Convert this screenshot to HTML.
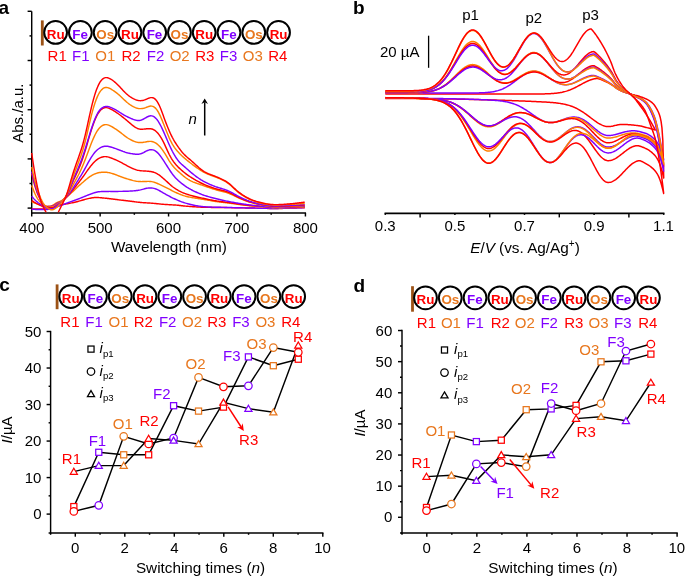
<!DOCTYPE html>
<html><head><meta charset="utf-8"><style>
html,body{margin:0;padding:0;background:#fff;overflow:hidden;}
svg{display:block;will-change:transform;}
text{font-family:"Liberation Sans", sans-serif;}
</style></head><body>
<svg width="685" height="577" viewBox="0 0 685 577">
<rect width="685" height="577" fill="#fff"/>
<text x="-1.53" y="13.8" font-size="19" text-anchor="start" fill="#000" font-weight="bold">a</text>
<rect x="40.9" y="20.4" width="2.8" height="25.1" fill="#9c5216"/>
<circle cx="55.6" cy="32.4" r="11.4" fill="#fff" stroke="#000" stroke-width="2"/>
<circle cx="80.37" cy="32.4" r="11.4" fill="#fff" stroke="#000" stroke-width="2"/>
<circle cx="105.14" cy="32.4" r="11.4" fill="#fff" stroke="#000" stroke-width="2"/>
<circle cx="129.91" cy="32.4" r="11.4" fill="#fff" stroke="#000" stroke-width="2"/>
<circle cx="154.68" cy="32.4" r="11.4" fill="#fff" stroke="#000" stroke-width="2"/>
<circle cx="179.45" cy="32.4" r="11.4" fill="#fff" stroke="#000" stroke-width="2"/>
<circle cx="204.22" cy="32.4" r="11.4" fill="#fff" stroke="#000" stroke-width="2"/>
<circle cx="228.99" cy="32.4" r="11.4" fill="#fff" stroke="#000" stroke-width="2"/>
<circle cx="253.76" cy="32.4" r="11.4" fill="#fff" stroke="#000" stroke-width="2"/>
<circle cx="278.53" cy="32.4" r="11.4" fill="#fff" stroke="#000" stroke-width="2"/>
<text x="46.73" y="38.5" font-size="13.4" text-anchor="start" fill="#ff0000" font-weight="bold">Ru</text>
<text x="47.62" y="61.4" font-size="15" text-anchor="start" fill="#ff0000">R1</text>
<text x="72.37" y="38.5" font-size="13.4" text-anchor="start" fill="#8000ff" font-weight="bold">Fe</text>
<text x="72.1" y="61.4" font-size="15" text-anchor="start" fill="#8000ff">F1</text>
<text x="96.27" y="38.5" font-size="13.4" text-anchor="start" fill="#e8771e" font-weight="bold">Os</text>
<text x="95.3" y="61.4" font-size="15" text-anchor="start" fill="#e8771e">O1</text>
<text x="121.03" y="38.5" font-size="13.4" text-anchor="start" fill="#ff0000" font-weight="bold">Ru</text>
<text x="121.53" y="61.4" font-size="15" text-anchor="start" fill="#ff0000">R2</text>
<text x="146.68" y="38.5" font-size="13.4" text-anchor="start" fill="#8000ff" font-weight="bold">Fe</text>
<text x="146.8" y="61.4" font-size="15" text-anchor="start" fill="#8000ff">F2</text>
<text x="170.57" y="38.5" font-size="13.4" text-anchor="start" fill="#e8771e" font-weight="bold">Os</text>
<text x="169.7" y="61.4" font-size="15" text-anchor="start" fill="#e8771e">O2</text>
<text x="195.34" y="38.5" font-size="13.4" text-anchor="start" fill="#ff0000" font-weight="bold">Ru</text>
<text x="195.16" y="61.4" font-size="15" text-anchor="start" fill="#ff0000">R3</text>
<text x="220.99" y="38.5" font-size="13.4" text-anchor="start" fill="#8000ff" font-weight="bold">Fe</text>
<text x="219.74" y="61.4" font-size="15" text-anchor="start" fill="#8000ff">F3</text>
<text x="244.88" y="38.5" font-size="13.4" text-anchor="start" fill="#e8771e" font-weight="bold">Os</text>
<text x="242.74" y="61.4" font-size="15" text-anchor="start" fill="#e8771e">O3</text>
<text x="269.66" y="38.5" font-size="13.4" text-anchor="start" fill="#ff0000" font-weight="bold">Ru</text>
<text x="268.2" y="61.4" font-size="15" text-anchor="start" fill="#ff0000">R4</text>
<line x1="31.7" y1="11.3" x2="31.7" y2="213.65" stroke="#000" stroke-width="1.45"/>
<line x1="31.05" y1="213" x2="306.05" y2="213" stroke="#000" stroke-width="1.45"/>
<line x1="27.6" y1="11.3" x2="31.7" y2="11.3" stroke="#000" stroke-width="1.45"/>
<line x1="29.5" y1="35.9" x2="31.7" y2="35.9" stroke="#000" stroke-width="1.45"/>
<line x1="27.6" y1="60.5" x2="31.7" y2="60.5" stroke="#000" stroke-width="1.45"/>
<line x1="29.5" y1="85.1" x2="31.7" y2="85.1" stroke="#000" stroke-width="1.45"/>
<line x1="27.6" y1="109.7" x2="31.7" y2="109.7" stroke="#000" stroke-width="1.45"/>
<line x1="29.5" y1="134.3" x2="31.7" y2="134.3" stroke="#000" stroke-width="1.45"/>
<line x1="27.6" y1="158.9" x2="31.7" y2="158.9" stroke="#000" stroke-width="1.45"/>
<line x1="29.5" y1="183.5" x2="31.7" y2="183.5" stroke="#000" stroke-width="1.45"/>
<line x1="27.6" y1="208.1" x2="31.7" y2="208.1" stroke="#000" stroke-width="1.45"/>
<line x1="31.7" y1="213" x2="31.7" y2="216.5" stroke="#000" stroke-width="1.45"/>
<text x="19.32" y="232.6" font-size="15" text-anchor="start" fill="#000">400</text>
<line x1="65.92" y1="213" x2="65.92" y2="214.8" stroke="#000" stroke-width="1.45"/>
<line x1="100.13" y1="213" x2="100.13" y2="216.5" stroke="#000" stroke-width="1.45"/>
<text x="87.63" y="232.6" font-size="15" text-anchor="start" fill="#000">500</text>
<line x1="134.34" y1="213" x2="134.34" y2="214.8" stroke="#000" stroke-width="1.45"/>
<line x1="168.56" y1="213" x2="168.56" y2="216.5" stroke="#000" stroke-width="1.45"/>
<text x="156" y="232.6" font-size="15" text-anchor="start" fill="#000">600</text>
<line x1="202.78" y1="213" x2="202.78" y2="214.8" stroke="#000" stroke-width="1.45"/>
<line x1="236.99" y1="213" x2="236.99" y2="216.5" stroke="#000" stroke-width="1.45"/>
<text x="224.43" y="232.6" font-size="15" text-anchor="start" fill="#000">700</text>
<line x1="271.2" y1="213" x2="271.2" y2="214.8" stroke="#000" stroke-width="1.45"/>
<line x1="305.42" y1="213" x2="305.42" y2="216.5" stroke="#000" stroke-width="1.45"/>
<text x="292.92" y="232.6" font-size="15" text-anchor="start" fill="#000">800</text>
<text x="110.93" y="251.7" font-size="15.3" text-anchor="start" fill="#000">Wavelength (nm)</text>
<text transform="translate(23.1,113.85) rotate(-90)" x="-28.88" y="0" font-size="15" fill="#000">Abs./a.u.</text>
<text x="188.46" y="124.2" font-size="15" text-anchor="start" fill="#000" font-style="italic">n</text>
<line x1="204.7" y1="135.5" x2="204.7" y2="102.2" stroke="#000" stroke-width="1.5"/>
<path d="M204.7 98.5 L208 104 L204.7 102.2 L201.4 104 Z" fill="#000"/>
<defs><clipPath id="clipA"><rect x="31" y="0" width="290" height="212.3"/></clipPath></defs>
<g clip-path="url(#clipA)" fill="none" stroke-width="1.45" stroke-linejoin="round">
<path d="M31.7 208.9 L32.73 208.9 L33.75 208.9 L34.78 208.9 L35.81 208.9 L36.83 208.9 L37.86 208.9 L38.89 208.9 L39.91 208.91 L40.94 208.93 L41.96 208.95 L42.99 208.97 L44.02 208.99 L45.04 209 L46.07 208.98 L47.1 208.86 L48.12 208.67 L49.15 208.41 L50.18 208.11 L51.2 207.78 L52.23 207.44 L53.26 207.02 L54.28 206.53 L55.31 206.06 L56.33 205.66 L57.36 205.36 L58.39 205.13 L59.41 204.93 L60.44 204.75 L61.47 204.6 L62.49 204.46 L63.52 204.32 L64.55 204.18 L65.57 204.02 L66.6 203.86 L67.63 203.68 L68.65 203.5 L69.68 203.31 L70.71 203.11 L71.73 202.9 L72.76 202.68 L73.78 202.45 L74.81 202.21 L75.84 201.97 L76.86 201.71 L77.89 201.44 L78.92 201.16 L79.94 200.87 L80.97 200.58 L82 200.28 L83.02 199.98 L84.05 199.69 L85.08 199.4 L86.1 199.13 L87.13 198.87 L88.15 198.62 L89.18 198.39 L90.21 198.17 L91.23 197.98 L92.26 197.81 L93.29 197.67 L94.31 197.58 L95.34 197.52 L96.37 197.51 L97.39 197.54 L98.42 197.59 L99.45 197.65 L100.47 197.73 L101.5 197.82 L102.53 197.91 L103.55 198.01 L104.58 198.11 L105.6 198.21 L106.63 198.32 L107.66 198.44 L108.68 198.56 L109.71 198.68 L110.74 198.8 L111.76 198.93 L112.79 199.06 L113.82 199.19 L114.84 199.32 L115.87 199.46 L116.9 199.59 L117.92 199.72 L118.95 199.85 L119.97 199.98 L121 200.1 L122.03 200.21 L123.05 200.33 L124.08 200.44 L125.11 200.55 L126.13 200.67 L127.16 200.78 L128.19 200.91 L129.21 201.04 L130.24 201.17 L131.27 201.31 L132.29 201.45 L133.32 201.59 L134.34 201.72 L135.37 201.86 L136.4 201.99 L137.42 202.11 L138.45 202.23 L139.48 202.33 L140.5 202.43 L141.53 202.52 L142.56 202.6 L143.58 202.67 L144.61 202.74 L145.64 202.8 L146.66 202.86 L147.69 202.91 L148.72 202.97 L149.74 203.03 L150.77 203.1 L151.79 203.18 L152.82 203.26 L153.85 203.36 L154.87 203.46 L155.9 203.56 L156.93 203.67 L157.95 203.79 L158.98 203.9 L160.01 204 L161.03 204.11 L162.06 204.21 L163.09 204.3 L164.11 204.39 L165.14 204.46 L166.16 204.53 L167.19 204.59 L168.22 204.65 L169.24 204.7 L170.27 204.75 L171.3 204.8 L172.32 204.85 L173.35 204.91 L174.38 204.97 L175.4 205.05 L176.43 205.14 L177.46 205.24 L178.48 205.34 L179.51 205.46 L180.54 205.58 L181.56 205.7 L182.59 205.82 L183.61 205.93 L184.64 206.04 L185.67 206.13 L186.69 206.23 L187.72 206.31 L188.75 206.4 L189.77 206.48 L190.8 206.55 L191.83 206.63 L192.85 206.7 L193.88 206.77 L194.91 206.84 L195.93 206.9 L196.96 206.96 L197.98 207.02 L199.01 207.07 L200.04 207.12 L201.06 207.16 L202.09 207.2 L203.12 207.24 L204.14 207.27 L205.17 207.3 L206.2 207.32 L207.22 207.34 L208.25 207.36 L209.28 207.38 L210.3 207.39 L211.33 207.41 L212.36 207.42 L213.38 207.43 L214.41 207.45 L215.43 207.46 L216.46 207.47 L217.49 207.48 L218.51 207.49 L219.54 207.5 L220.57 207.51 L221.59 207.52 L222.62 207.53 L223.65 207.54 L224.67 207.56 L225.7 207.57 L226.73 207.58 L227.75 207.6 L228.78 207.61 L229.8 207.63 L230.83 207.64 L231.86 207.66 L232.88 207.68 L233.91 207.7 L234.94 207.71 L235.96 207.73 L236.99 207.75 L238.02 207.77 L239.04 207.79 L240.07 207.81 L241.1 207.83 L242.12 207.85 L243.15 207.87 L244.18 207.89 L245.2 207.91 L246.23 207.93 L247.25 207.95 L248.28 207.97 L249.31 207.99 L250.33 208.01 L251.36 208.03 L252.39 208.05 L253.41 208.07 L254.44 208.09 L255.47 208.11 L256.49 208.13 L257.52 208.15 L258.55 208.17 L259.57 208.19 L260.6 208.22 L261.62 208.24 L262.65 208.26 L263.68 208.29 L264.7 208.32 L265.73 208.35 L266.76 208.38 L267.78 208.42 L268.81 208.45 L269.84 208.48 L270.86 208.51 L271.89 208.54 L272.92 208.55 L273.94 208.57 L274.97 208.57 L276 208.57 L277.02 208.56 L278.05 208.54 L279.07 208.52 L280.1 208.49 L281.13 208.46 L282.15 208.42 L283.18 208.39 L284.21 208.35 L285.23 208.31 L286.26 208.28 L287.29 208.24 L288.31 208.2 L289.34 208.17 L290.37 208.13 L291.39 208.1 L292.42 208.07 L293.44 208.03 L294.47 208 L295.5 207.96 L296.52 207.92 L297.55 207.89 L298.58 207.85 L299.6 207.82 L300.63 207.78 L301.66 207.74 L302.68 207.71 L303.71 207.68 L304.74 207.66" stroke="#ff0000"/>
<path d="M31.7 209.2 L32.73 209.27 L33.75 209.33 L34.78 209.39 L35.81 209.44 L36.83 209.47 L37.86 209.5 L38.89 209.5 L39.91 209.5 L40.94 209.5 L41.96 209.5 L42.99 209.5 L44.02 209.5 L45.04 209.5 L46.07 209.49 L47.1 209.41 L48.12 209.29 L49.15 209.12 L50.18 208.92 L51.2 208.69 L52.23 208.45 L53.26 208.15 L54.28 207.8 L55.31 207.42 L56.33 207.04 L57.36 206.68 L58.39 206.33 L59.41 205.98 L60.44 205.63 L61.47 205.26 L62.49 204.89 L63.52 204.5 L64.55 204.1 L65.57 203.69 L66.6 203.29 L67.63 202.89 L68.65 202.5 L69.68 202.12 L70.71 201.75 L71.73 201.37 L72.76 201 L73.78 200.63 L74.81 200.25 L75.84 199.87 L76.86 199.49 L77.89 199.1 L78.92 198.7 L79.94 198.3 L80.97 197.89 L82 197.48 L83.02 197.06 L84.05 196.65 L85.08 196.24 L86.1 195.84 L87.13 195.44 L88.15 195.04 L89.18 194.65 L90.21 194.26 L91.23 193.88 L92.26 193.5 L93.29 193.13 L94.31 192.78 L95.34 192.47 L96.37 192.2 L97.39 191.98 L98.42 191.81 L99.45 191.69 L100.47 191.62 L101.5 191.56 L102.53 191.53 L103.55 191.5 L104.58 191.47 L105.6 191.45 L106.63 191.43 L107.66 191.42 L108.68 191.41 L109.71 191.4 L110.74 191.4 L111.76 191.4 L112.79 191.4 L113.82 191.4 L114.84 191.4 L115.87 191.4 L116.9 191.4 L117.92 191.4 L118.95 191.39 L119.97 191.38 L121 191.37 L122.03 191.36 L123.05 191.33 L124.08 191.31 L125.11 191.28 L126.13 191.24 L127.16 191.2 L128.19 191.16 L129.21 191.11 L130.24 191.05 L131.27 190.99 L132.29 190.93 L133.32 190.85 L134.34 190.77 L135.37 190.67 L136.4 190.56 L137.42 190.43 L138.45 190.27 L139.48 190.09 L140.5 189.87 L141.53 189.62 L142.56 189.35 L143.58 189.08 L144.61 188.81 L145.64 188.56 L146.66 188.33 L147.69 188.15 L148.72 188.01 L149.74 187.94 L150.77 187.92 L151.79 187.99 L152.82 188.13 L153.85 188.36 L154.87 188.66 L155.9 189.03 L156.93 189.45 L157.95 189.93 L158.98 190.44 L160.01 191 L161.03 191.57 L162.06 192.16 L163.09 192.76 L164.11 193.36 L165.14 193.95 L166.16 194.53 L167.19 195.11 L168.22 195.67 L169.24 196.22 L170.27 196.75 L171.3 197.28 L172.32 197.79 L173.35 198.28 L174.38 198.77 L175.4 199.25 L176.43 199.71 L177.46 200.16 L178.48 200.6 L179.51 201.02 L180.54 201.43 L181.56 201.81 L182.59 202.17 L183.61 202.51 L184.64 202.83 L185.67 203.14 L186.69 203.42 L187.72 203.7 L188.75 203.97 L189.77 204.23 L190.8 204.48 L191.83 204.72 L192.85 204.95 L193.88 205.18 L194.91 205.39 L195.93 205.6 L196.96 205.79 L197.98 205.96 L199.01 206.13 L200.04 206.27 L201.06 206.41 L202.09 206.52 L203.12 206.62 L204.14 206.71 L205.17 206.78 L206.2 206.85 L207.22 206.9 L208.25 206.95 L209.28 206.99 L210.3 207.03 L211.33 207.07 L212.36 207.1 L213.38 207.14 L214.41 207.17 L215.43 207.2 L216.46 207.22 L217.49 207.25 L218.51 207.28 L219.54 207.3 L220.57 207.32 L221.59 207.35 L222.62 207.37 L223.65 207.4 L224.67 207.42 L225.7 207.44 L226.73 207.47 L227.75 207.49 L228.78 207.52 L229.8 207.54 L230.83 207.57 L231.86 207.59 L232.88 207.62 L233.91 207.64 L234.94 207.67 L235.96 207.69 L236.99 207.71 L238.02 207.74 L239.04 207.76 L240.07 207.78 L241.1 207.81 L242.12 207.83 L243.15 207.85 L244.18 207.87 L245.2 207.9 L246.23 207.92 L247.25 207.94 L248.28 207.96 L249.31 207.99 L250.33 208.01 L251.36 208.03 L252.39 208.05 L253.41 208.07 L254.44 208.09 L255.47 208.12 L256.49 208.14 L257.52 208.16 L258.55 208.18 L259.57 208.2 L260.6 208.22 L261.62 208.24 L262.65 208.27 L263.68 208.29 L264.7 208.31 L265.73 208.33 L266.76 208.36 L267.78 208.38 L268.81 208.4 L269.84 208.43 L270.86 208.44 L271.89 208.46 L272.92 208.47 L273.94 208.47 L274.97 208.47 L276 208.46 L277.02 208.44 L278.05 208.42 L279.07 208.38 L280.1 208.35 L281.13 208.31 L282.15 208.26 L283.18 208.22 L284.21 208.17 L285.23 208.13 L286.26 208.09 L287.29 208.05 L288.31 208.01 L289.34 207.98 L290.37 207.95 L291.39 207.92 L292.42 207.89 L293.44 207.86 L294.47 207.83 L295.5 207.81 L296.52 207.78 L297.55 207.76 L298.58 207.74 L299.6 207.71 L300.63 207.69 L301.66 207.67 L302.68 207.65 L303.71 207.64 L304.74 207.63" stroke="#8000ff"/>
<path d="M31.7 201.5 L32.73 202.02 L33.75 202.51 L34.78 202.98 L35.81 203.43 L36.83 203.86 L37.86 204.25 L38.89 204.62 L39.91 205.02 L40.94 205.42 L41.96 205.8 L42.99 206.13 L44.02 206.37 L45.04 206.49 L46.07 206.49 L47.1 206.42 L48.12 206.31 L49.15 206.15 L50.18 205.93 L51.2 205.68 L52.23 205.36 L53.26 204.89 L54.28 204.26 L55.31 203.6 L56.33 202.98 L57.36 202.46 L58.39 202 L59.41 201.54 L60.44 201.08 L61.47 200.59 L62.49 200.04 L63.52 199.41 L64.55 198.71 L65.57 197.93 L66.6 197.1 L67.63 196.23 L68.65 195.34 L69.68 194.44 L70.71 193.52 L71.73 192.58 L72.76 191.62 L73.78 190.65 L74.81 189.67 L75.84 188.7 L76.86 187.72 L77.89 186.76 L78.92 185.82 L79.94 184.89 L80.97 183.97 L82 183.07 L83.02 182.18 L84.05 181.3 L85.08 180.42 L86.1 179.56 L87.13 178.72 L88.15 177.92 L89.18 177.15 L90.21 176.43 L91.23 175.77 L92.26 175.16 L93.29 174.61 L94.31 174.12 L95.34 173.7 L96.37 173.34 L97.39 173.03 L98.42 172.78 L99.45 172.58 L100.47 172.43 L101.5 172.31 L102.53 172.22 L103.55 172.17 L104.58 172.16 L105.6 172.2 L106.63 172.28 L107.66 172.41 L108.68 172.59 L109.71 172.82 L110.74 173.08 L111.76 173.37 L112.79 173.69 L113.82 174.03 L114.84 174.4 L115.87 174.78 L116.9 175.17 L117.92 175.57 L118.95 175.97 L119.97 176.36 L121 176.75 L122.03 177.13 L123.05 177.5 L124.08 177.86 L125.11 178.21 L126.13 178.54 L127.16 178.86 L128.19 179.18 L129.21 179.48 L130.24 179.78 L131.27 180.07 L132.29 180.34 L133.32 180.61 L134.34 180.84 L135.37 181.06 L136.4 181.24 L137.42 181.38 L138.45 181.49 L139.48 181.56 L140.5 181.59 L141.53 181.6 L142.56 181.59 L143.58 181.56 L144.61 181.52 L145.64 181.47 L146.66 181.43 L147.69 181.4 L148.72 181.38 L149.74 181.41 L150.77 181.48 L151.79 181.62 L152.82 181.84 L153.85 182.12 L154.87 182.47 L155.9 182.87 L156.93 183.29 L157.95 183.73 L158.98 184.18 L160.01 184.63 L161.03 185.1 L162.06 185.57 L163.09 186.05 L164.11 186.55 L165.14 187.06 L166.16 187.58 L167.19 188.11 L168.22 188.65 L169.24 189.19 L170.27 189.73 L171.3 190.26 L172.32 190.78 L173.35 191.29 L174.38 191.79 L175.4 192.28 L176.43 192.75 L177.46 193.22 L178.48 193.67 L179.51 194.1 L180.54 194.51 L181.56 194.9 L182.59 195.27 L183.61 195.6 L184.64 195.91 L185.67 196.19 L186.69 196.45 L187.72 196.69 L188.75 196.92 L189.77 197.13 L190.8 197.32 L191.83 197.51 L192.85 197.69 L193.88 197.87 L194.91 198.04 L195.93 198.2 L196.96 198.36 L197.98 198.52 L199.01 198.68 L200.04 198.84 L201.06 199 L202.09 199.16 L203.12 199.33 L204.14 199.5 L205.17 199.67 L206.2 199.85 L207.22 200.03 L208.25 200.21 L209.28 200.4 L210.3 200.58 L211.33 200.76 L212.36 200.93 L213.38 201.1 L214.41 201.26 L215.43 201.42 L216.46 201.57 L217.49 201.72 L218.51 201.85 L219.54 201.99 L220.57 202.11 L221.59 202.24 L222.62 202.36 L223.65 202.48 L224.67 202.6 L225.7 202.72 L226.73 202.84 L227.75 202.97 L228.78 203.1 L229.8 203.23 L230.83 203.36 L231.86 203.49 L232.88 203.63 L233.91 203.77 L234.94 203.9 L235.96 204.04 L236.99 204.18 L238.02 204.32 L239.04 204.46 L240.07 204.6 L241.1 204.73 L242.12 204.87 L243.15 205 L244.18 205.13 L245.2 205.25 L246.23 205.37 L247.25 205.49 L248.28 205.61 L249.31 205.71 L250.33 205.82 L251.36 205.92 L252.39 206.02 L253.41 206.11 L254.44 206.2 L255.47 206.29 L256.49 206.37 L257.52 206.46 L258.55 206.54 L259.57 206.62 L260.6 206.7 L261.62 206.79 L262.65 206.87 L263.68 206.96 L264.7 207.05 L265.73 207.14 L266.76 207.23 L267.78 207.33 L268.81 207.42 L269.84 207.5 L270.86 207.58 L271.89 207.64 L272.92 207.69 L273.94 207.73 L274.97 207.75 L276 207.76 L277.02 207.76 L278.05 207.75 L279.07 207.74 L280.1 207.72 L281.13 207.69 L282.15 207.67 L283.18 207.64 L284.21 207.61 L285.23 207.59 L286.26 207.56 L287.29 207.53 L288.31 207.5 L289.34 207.47 L290.37 207.45 L291.39 207.42 L292.42 207.39 L293.44 207.36 L294.47 207.33 L295.5 207.31 L296.52 207.28 L297.55 207.25 L298.58 207.22 L299.6 207.18 L300.63 207.15 L301.66 207.12 L302.68 207.1 L303.71 207.07 L304.74 207.05" stroke="#ff8000"/>
<path d="M31.7 200.5 L32.73 201.2 L33.75 201.87 L34.78 202.5 L35.81 203.1 L36.83 203.66 L37.86 204.18 L38.89 204.66 L39.91 205.15 L40.94 205.66 L41.96 206.13 L42.99 206.54 L44.02 206.84 L45.04 206.99 L46.07 206.99 L47.1 206.97 L48.12 206.91 L49.15 206.83 L50.18 206.72 L51.2 206.56 L52.23 206.34 L53.26 205.92 L54.28 205.3 L55.31 204.63 L56.33 204.01 L57.36 203.47 L58.39 203 L59.41 202.53 L60.44 202.02 L61.47 201.45 L62.49 200.8 L63.52 200.02 L64.55 199.13 L65.57 198.13 L66.6 197.07 L67.63 195.97 L68.65 194.85 L69.68 193.72 L70.71 192.56 L71.73 191.38 L72.76 190.15 L73.78 188.89 L74.81 187.59 L75.84 186.27 L76.86 184.93 L77.89 183.58 L78.92 182.23 L79.94 180.88 L80.97 179.52 L82 178.14 L83.02 176.75 L84.05 175.33 L85.08 173.88 L86.1 172.42 L87.13 170.95 L88.15 169.5 L89.18 168.08 L90.21 166.71 L91.23 165.41 L92.26 164.18 L93.29 163.03 L94.31 161.97 L95.34 161.01 L96.37 160.14 L97.39 159.38 L98.42 158.72 L99.45 158.15 L100.47 157.67 L101.5 157.28 L102.53 156.98 L103.55 156.77 L104.58 156.65 L105.6 156.63 L106.63 156.71 L107.66 156.88 L108.68 157.13 L109.71 157.46 L110.74 157.82 L111.76 158.22 L112.79 158.64 L113.82 159.06 L114.84 159.5 L115.87 159.95 L116.9 160.41 L117.92 160.88 L118.95 161.38 L119.97 161.89 L121 162.43 L122.03 162.98 L123.05 163.54 L124.08 164.1 L125.11 164.67 L126.13 165.22 L127.16 165.77 L128.19 166.3 L129.21 166.82 L130.24 167.33 L131.27 167.82 L132.29 168.3 L133.32 168.76 L134.34 169.18 L135.37 169.56 L136.4 169.89 L137.42 170.18 L138.45 170.4 L139.48 170.58 L140.5 170.71 L141.53 170.81 L142.56 170.88 L143.58 170.94 L144.61 170.99 L145.64 171.05 L146.66 171.11 L147.69 171.19 L148.72 171.29 L149.74 171.41 L150.77 171.56 L151.79 171.76 L152.82 172 L153.85 172.31 L154.87 172.68 L155.9 173.13 L156.93 173.66 L157.95 174.26 L158.98 174.94 L160.01 175.69 L161.03 176.49 L162.06 177.34 L163.09 178.22 L164.11 179.11 L165.14 180.03 L166.16 180.96 L167.19 181.9 L168.22 182.85 L169.24 183.8 L170.27 184.72 L171.3 185.62 L172.32 186.47 L173.35 187.27 L174.38 188.01 L175.4 188.71 L176.43 189.36 L177.46 189.97 L178.48 190.55 L179.51 191.1 L180.54 191.61 L181.56 192.1 L182.59 192.56 L183.61 192.98 L184.64 193.39 L185.67 193.77 L186.69 194.12 L187.72 194.46 L188.75 194.79 L189.77 195.09 L190.8 195.39 L191.83 195.67 L192.85 195.94 L193.88 196.21 L194.91 196.46 L195.93 196.71 L196.96 196.95 L197.98 197.19 L199.01 197.42 L200.04 197.65 L201.06 197.88 L202.09 198.1 L203.12 198.33 L204.14 198.55 L205.17 198.77 L206.2 199 L207.22 199.22 L208.25 199.43 L209.28 199.65 L210.3 199.86 L211.33 200.06 L212.36 200.26 L213.38 200.45 L214.41 200.63 L215.43 200.8 L216.46 200.97 L217.49 201.13 L218.51 201.28 L219.54 201.42 L220.57 201.56 L221.59 201.69 L222.62 201.82 L223.65 201.95 L224.67 202.08 L225.7 202.21 L226.73 202.34 L227.75 202.47 L228.78 202.61 L229.8 202.75 L230.83 202.89 L231.86 203.04 L232.88 203.19 L233.91 203.34 L234.94 203.49 L235.96 203.65 L236.99 203.8 L238.02 203.96 L239.04 204.11 L240.07 204.26 L241.1 204.41 L242.12 204.55 L243.15 204.69 L244.18 204.83 L245.2 204.95 L246.23 205.08 L247.25 205.2 L248.28 205.31 L249.31 205.41 L250.33 205.5 L251.36 205.59 L252.39 205.68 L253.41 205.76 L254.44 205.83 L255.47 205.9 L256.49 205.97 L257.52 206.04 L258.55 206.1 L259.57 206.17 L260.6 206.24 L261.62 206.31 L262.65 206.39 L263.68 206.48 L264.7 206.57 L265.73 206.67 L266.76 206.78 L267.78 206.89 L268.81 207 L269.84 207.11 L270.86 207.21 L271.89 207.29 L272.92 207.36 L273.94 207.4 L274.97 207.43 L276 207.44 L277.02 207.43 L278.05 207.41 L279.07 207.39 L280.1 207.35 L281.13 207.31 L282.15 207.27 L283.18 207.22 L284.21 207.18 L285.23 207.13 L286.26 207.09 L287.29 207.05 L288.31 207.01 L289.34 206.97 L290.37 206.94 L291.39 206.9 L292.42 206.87 L293.44 206.84 L294.47 206.81 L295.5 206.78 L296.52 206.75 L297.55 206.72 L298.58 206.69 L299.6 206.66 L300.63 206.63 L301.66 206.6 L302.68 206.58 L303.71 206.56 L304.74 206.54" stroke="#ff0000"/>
<path d="M31.7 196.2 L32.73 197.44 L33.75 198.62 L34.78 199.73 L35.81 200.75 L36.83 201.68 L37.86 202.51 L38.89 203.23 L39.91 203.96 L40.94 204.67 L41.96 205.33 L42.99 205.88 L44.02 206.28 L45.04 206.49 L46.07 206.5 L47.1 206.5 L48.12 206.5 L49.15 206.5 L50.18 206.48 L51.2 206.43 L52.23 206.32 L53.26 205.97 L54.28 205.38 L55.31 204.7 L56.33 204.04 L57.36 203.44 L58.39 202.9 L59.41 202.35 L60.44 201.77 L61.47 201.15 L62.49 200.46 L63.52 199.66 L64.55 198.76 L65.57 197.75 L66.6 196.66 L67.63 195.49 L68.65 194.26 L69.68 192.97 L70.71 191.61 L71.73 190.18 L72.76 188.68 L73.78 187.11 L74.81 185.5 L75.84 183.86 L76.86 182.2 L77.89 180.53 L78.92 178.87 L79.94 177.21 L80.97 175.54 L82 173.83 L83.02 172.08 L84.05 170.28 L85.08 168.42 L86.1 166.51 L87.13 164.59 L88.15 162.68 L89.18 160.82 L90.21 159.04 L91.23 157.36 L92.26 155.8 L93.29 154.36 L94.31 153.04 L95.34 151.84 L96.37 150.77 L97.39 149.81 L98.42 148.98 L99.45 148.26 L100.47 147.66 L101.5 147.16 L102.53 146.76 L103.55 146.48 L104.58 146.29 L105.6 146.21 L106.63 146.22 L107.66 146.32 L108.68 146.5 L109.71 146.73 L110.74 147.01 L111.76 147.31 L112.79 147.64 L113.82 147.98 L114.84 148.33 L115.87 148.69 L116.9 149.07 L117.92 149.45 L118.95 149.84 L119.97 150.23 L121 150.63 L122.03 151.03 L123.05 151.43 L124.08 151.8 L125.11 152.16 L126.13 152.48 L127.16 152.77 L128.19 153.03 L129.21 153.25 L130.24 153.45 L131.27 153.63 L132.29 153.79 L133.32 153.94 L134.34 154.06 L135.37 154.16 L136.4 154.23 L137.42 154.24 L138.45 154.19 L139.48 154.05 L140.5 153.81 L141.53 153.47 L142.56 153.03 L143.58 152.53 L144.61 151.99 L145.64 151.45 L146.66 150.94 L147.69 150.48 L148.72 150.1 L149.74 149.82 L150.77 149.68 L151.79 149.69 L152.82 149.85 L153.85 150.18 L154.87 150.67 L155.9 151.32 L156.93 152.13 L157.95 153.1 L158.98 154.23 L160.01 155.49 L161.03 156.87 L162.06 158.34 L163.09 159.87 L164.11 161.44 L165.14 163.03 L166.16 164.64 L167.19 166.26 L168.22 167.87 L169.24 169.47 L170.27 171.02 L171.3 172.52 L172.32 173.94 L173.35 175.27 L174.38 176.51 L175.4 177.67 L176.43 178.75 L177.46 179.77 L178.48 180.74 L179.51 181.66 L180.54 182.53 L181.56 183.37 L182.59 184.17 L183.61 184.93 L184.64 185.67 L185.67 186.37 L186.69 187.05 L187.72 187.69 L188.75 188.31 L189.77 188.9 L190.8 189.47 L191.83 190.01 L192.85 190.53 L193.88 191.04 L194.91 191.53 L195.93 192.01 L196.96 192.47 L197.98 192.92 L199.01 193.36 L200.04 193.78 L201.06 194.18 L202.09 194.57 L203.12 194.95 L204.14 195.31 L205.17 195.66 L206.2 195.99 L207.22 196.31 L208.25 196.62 L209.28 196.92 L210.3 197.21 L211.33 197.48 L212.36 197.76 L213.38 198.02 L214.41 198.28 L215.43 198.54 L216.46 198.79 L217.49 199.04 L218.51 199.29 L219.54 199.53 L220.57 199.77 L221.59 200.01 L222.62 200.24 L223.65 200.46 L224.67 200.68 L225.7 200.9 L226.73 201.11 L227.75 201.32 L228.78 201.52 L229.8 201.72 L230.83 201.91 L231.86 202.1 L232.88 202.29 L233.91 202.48 L234.94 202.66 L235.96 202.84 L236.99 203.02 L238.02 203.2 L239.04 203.37 L240.07 203.54 L241.1 203.71 L242.12 203.87 L243.15 204.03 L244.18 204.18 L245.2 204.33 L246.23 204.48 L247.25 204.62 L248.28 204.76 L249.31 204.9 L250.33 205.03 L251.36 205.15 L252.39 205.27 L253.41 205.39 L254.44 205.5 L255.47 205.61 L256.49 205.72 L257.52 205.82 L258.55 205.93 L259.57 206.03 L260.6 206.13 L261.62 206.23 L262.65 206.34 L263.68 206.45 L264.7 206.56 L265.73 206.67 L266.76 206.79 L267.78 206.91 L268.81 207.02 L269.84 207.13 L270.86 207.22 L271.89 207.3 L272.92 207.37 L273.94 207.41 L274.97 207.44 L276 207.44 L277.02 207.44 L278.05 207.42 L279.07 207.4 L280.1 207.37 L281.13 207.33 L282.15 207.29 L283.18 207.24 L284.21 207.19 L285.23 207.15 L286.26 207.1 L287.29 207.05 L288.31 207 L289.34 206.95 L290.37 206.9 L291.39 206.85 L292.42 206.8 L293.44 206.74 L294.47 206.69 L295.5 206.63 L296.52 206.57 L297.55 206.51 L298.58 206.45 L299.6 206.38 L300.63 206.32 L301.66 206.26 L302.68 206.2 L303.71 206.15 L304.74 206.1" stroke="#8000ff"/>
<path d="M31.7 185.5 L32.73 188.25 L33.75 190.85 L34.78 193.27 L35.81 195.47 L36.83 197.42 L37.86 199.08 L38.89 200.42 L39.91 201.66 L40.94 202.81 L41.96 203.85 L42.99 204.73 L44.02 205.43 L45.04 205.9 L46.07 206.17 L47.1 206.4 L48.12 206.6 L49.15 206.76 L50.18 206.86 L51.2 206.88 L52.23 206.82 L53.26 206.56 L54.28 206.08 L55.31 205.49 L56.33 204.84 L57.36 204.17 L58.39 203.48 L59.41 202.75 L60.44 201.98 L61.47 201.16 L62.49 200.3 L63.52 199.36 L64.55 198.34 L65.57 197.21 L66.6 195.95 L67.63 194.54 L68.65 192.99 L69.68 191.29 L70.71 189.48 L71.73 187.57 L72.76 185.62 L73.78 183.66 L74.81 181.72 L75.84 179.8 L76.86 177.9 L77.89 175.97 L78.92 173.99 L79.94 171.91 L80.97 169.72 L82 167.41 L83.02 165 L84.05 162.47 L85.08 159.86 L86.1 157.17 L87.13 154.42 L88.15 151.65 L89.18 148.9 L90.21 146.19 L91.23 143.55 L92.26 141.01 L93.29 138.6 L94.31 136.35 L95.34 134.27 L96.37 132.4 L97.39 130.73 L98.42 129.28 L99.45 128.03 L100.47 126.99 L101.5 126.14 L102.53 125.49 L103.55 125.01 L104.58 124.72 L105.6 124.6 L106.63 124.64 L107.66 124.84 L108.68 125.17 L109.71 125.6 L110.74 126.1 L111.76 126.66 L112.79 127.25 L113.82 127.87 L114.84 128.52 L115.87 129.19 L116.9 129.88 L117.92 130.6 L118.95 131.35 L119.97 132.12 L121 132.92 L122.03 133.73 L123.05 134.55 L124.08 135.35 L125.11 136.14 L126.13 136.88 L127.16 137.59 L128.19 138.25 L129.21 138.86 L130.24 139.44 L131.27 139.99 L132.29 140.5 L133.32 140.97 L134.34 141.4 L135.37 141.78 L136.4 142.09 L137.42 142.33 L138.45 142.49 L139.48 142.58 L140.5 142.59 L141.53 142.54 L142.56 142.43 L143.58 142.28 L144.61 142.11 L145.64 141.92 L146.66 141.73 L147.69 141.56 L148.72 141.42 L149.74 141.35 L150.77 141.35 L151.79 141.47 L152.82 141.7 L153.85 142.06 L154.87 142.54 L155.9 143.16 L156.93 143.89 L157.95 144.75 L158.98 145.72 L160.01 146.82 L161.03 148.03 L162.06 149.35 L163.09 150.79 L164.11 152.33 L165.14 153.96 L166.16 155.65 L167.19 157.38 L168.22 159.1 L169.24 160.78 L170.27 162.38 L171.3 163.88 L172.32 165.26 L173.35 166.52 L174.38 167.68 L175.4 168.75 L176.43 169.75 L177.46 170.7 L178.48 171.63 L179.51 172.55 L180.54 173.47 L181.56 174.37 L182.59 175.26 L183.61 176.12 L184.64 176.94 L185.67 177.72 L186.69 178.45 L187.72 179.13 L188.75 179.75 L189.77 180.33 L190.8 180.86 L191.83 181.35 L192.85 181.81 L193.88 182.24 L194.91 182.65 L195.93 183.04 L196.96 183.41 L197.98 183.78 L199.01 184.13 L200.04 184.48 L201.06 184.83 L202.09 185.18 L203.12 185.53 L204.14 185.88 L205.17 186.23 L206.2 186.59 L207.22 186.94 L208.25 187.3 L209.28 187.65 L210.3 188 L211.33 188.35 L212.36 188.69 L213.38 189.02 L214.41 189.34 L215.43 189.65 L216.46 189.95 L217.49 190.23 L218.51 190.51 L219.54 190.77 L220.57 191.03 L221.59 191.28 L222.62 191.54 L223.65 191.8 L224.67 192.07 L225.7 192.36 L226.73 192.67 L227.75 193.02 L228.78 193.39 L229.8 193.8 L230.83 194.23 L231.86 194.7 L232.88 195.18 L233.91 195.67 L234.94 196.16 L235.96 196.65 L236.99 197.13 L238.02 197.6 L239.04 198.06 L240.07 198.51 L241.1 198.95 L242.12 199.38 L243.15 199.8 L244.18 200.21 L245.2 200.61 L246.23 200.99 L247.25 201.35 L248.28 201.7 L249.31 202.03 L250.33 202.34 L251.36 202.63 L252.39 202.91 L253.41 203.18 L254.44 203.44 L255.47 203.68 L256.49 203.92 L257.52 204.15 L258.55 204.37 L259.57 204.58 L260.6 204.78 L261.62 204.99 L262.65 205.18 L263.68 205.38 L264.7 205.57 L265.73 205.76 L266.76 205.95 L267.78 206.13 L268.81 206.3 L269.84 206.46 L270.86 206.6 L271.89 206.72 L272.92 206.81 L273.94 206.88 L274.97 206.92 L276 206.94 L277.02 206.94 L278.05 206.92 L279.07 206.9 L280.1 206.86 L281.13 206.83 L282.15 206.79 L283.18 206.74 L284.21 206.69 L285.23 206.65 L286.26 206.6 L287.29 206.55 L288.31 206.5 L289.34 206.45 L290.37 206.4 L291.39 206.35 L292.42 206.3 L293.44 206.24 L294.47 206.19 L295.5 206.13 L296.52 206.07 L297.55 206.01 L298.58 205.95 L299.6 205.88 L300.63 205.82 L301.66 205.76 L302.68 205.7 L303.71 205.65 L304.74 205.6" stroke="#ff8000"/>
<path d="M31.7 173.5 L32.73 177.72 L33.75 181.71 L34.78 185.44 L35.81 188.85 L36.83 191.88 L37.86 194.51 L38.89 196.69 L39.91 198.71 L40.94 200.6 L41.96 202.31 L42.99 203.79 L44.02 204.98 L45.04 205.81 L46.07 206.33 L47.1 206.78 L48.12 207.18 L49.15 207.51 L50.18 207.72 L51.2 207.82 L52.23 207.79 L53.26 207.53 L54.28 207.06 L55.31 206.48 L56.33 205.86 L57.36 205.24 L58.39 204.6 L59.41 203.92 L60.44 203.19 L61.47 202.36 L62.49 201.43 L63.52 200.34 L64.55 199.06 L65.57 197.56 L66.6 195.82 L67.63 193.83 L68.65 191.61 L69.68 189.23 L70.71 186.75 L71.73 184.27 L72.76 181.86 L73.78 179.54 L74.81 177.32 L75.84 175.14 L76.86 172.95 L77.89 170.7 L78.92 168.35 L79.94 165.86 L80.97 163.22 L82 160.43 L83.02 157.47 L84.05 154.36 L85.08 151.08 L86.1 147.67 L87.13 144.18 L88.15 140.64 L89.18 137.12 L90.21 133.68 L91.23 130.36 L92.26 127.2 L93.29 124.23 L94.31 121.48 L95.34 118.96 L96.37 116.7 L97.39 114.7 L98.42 112.97 L99.45 111.5 L100.47 110.29 L101.5 109.32 L102.53 108.58 L103.55 108.06 L104.58 107.74 L105.6 107.6 L106.63 107.65 L107.66 107.84 L108.68 108.17 L109.71 108.6 L110.74 109.1 L111.76 109.65 L112.79 110.24 L113.82 110.85 L114.84 111.48 L115.87 112.14 L116.9 112.82 L117.92 113.52 L118.95 114.25 L119.97 115 L121 115.78 L122.03 116.58 L123.05 117.39 L124.08 118.22 L125.11 119.06 L126.13 119.91 L127.16 120.76 L128.19 121.62 L129.21 122.49 L130.24 123.36 L131.27 124.23 L132.29 125.09 L133.32 125.91 L134.34 126.68 L135.37 127.37 L136.4 127.96 L137.42 128.44 L138.45 128.79 L139.48 129.04 L140.5 129.17 L141.53 129.22 L142.56 129.2 L143.58 129.14 L144.61 129.04 L145.64 128.94 L146.66 128.83 L147.69 128.73 L148.72 128.67 L149.74 128.67 L150.77 128.75 L151.79 128.95 L152.82 129.28 L153.85 129.77 L154.87 130.41 L155.9 131.22 L156.93 132.18 L157.95 133.3 L158.98 134.59 L160.01 136.04 L161.03 137.66 L162.06 139.43 L163.09 141.37 L164.11 143.44 L165.14 145.62 L166.16 147.87 L167.19 150.13 L168.22 152.34 L169.24 154.46 L170.27 156.44 L171.3 158.26 L172.32 159.92 L173.35 161.44 L174.38 162.82 L175.4 164.08 L176.43 165.26 L177.46 166.35 L178.48 167.39 L179.51 168.37 L180.54 169.31 L181.56 170.22 L182.59 171.1 L183.61 171.94 L184.64 172.76 L185.67 173.56 L186.69 174.33 L187.72 175.08 L188.75 175.81 L189.77 176.51 L190.8 177.18 L191.83 177.83 L192.85 178.47 L193.88 179.09 L194.91 179.69 L195.93 180.28 L196.96 180.85 L197.98 181.41 L199.01 181.96 L200.04 182.49 L201.06 183 L202.09 183.5 L203.12 183.98 L204.14 184.44 L205.17 184.89 L206.2 185.33 L207.22 185.75 L208.25 186.15 L209.28 186.54 L210.3 186.92 L211.33 187.29 L212.36 187.65 L213.38 187.99 L214.41 188.32 L215.43 188.64 L216.46 188.94 L217.49 189.23 L218.51 189.51 L219.54 189.77 L220.57 190.03 L221.59 190.28 L222.62 190.53 L223.65 190.79 L224.67 191.07 L225.7 191.36 L226.73 191.69 L227.75 192.05 L228.78 192.44 L229.8 192.89 L230.83 193.36 L231.86 193.88 L232.88 194.41 L233.91 194.96 L234.94 195.51 L235.96 196.05 L236.99 196.58 L238.02 197.09 L239.04 197.59 L240.07 198.07 L241.1 198.54 L242.12 198.99 L243.15 199.44 L244.18 199.86 L245.2 200.28 L246.23 200.67 L247.25 201.04 L248.28 201.39 L249.31 201.72 L250.33 202.02 L251.36 202.31 L252.39 202.58 L253.41 202.83 L254.44 203.07 L255.47 203.3 L256.49 203.52 L257.52 203.74 L258.55 203.94 L259.57 204.14 L260.6 204.33 L261.62 204.52 L262.65 204.7 L263.68 204.89 L264.7 205.07 L265.73 205.26 L266.76 205.44 L267.78 205.63 L268.81 205.8 L269.84 205.96 L270.86 206.1 L271.89 206.22 L272.92 206.31 L273.94 206.38 L274.97 206.42 L276 206.43 L277.02 206.43 L278.05 206.42 L279.07 206.4 L280.1 206.36 L281.13 206.33 L282.15 206.29 L283.18 206.24 L284.21 206.19 L285.23 206.15 L286.26 206.1 L287.29 206.05 L288.31 206 L289.34 205.95 L290.37 205.9 L291.39 205.85 L292.42 205.8 L293.44 205.74 L294.47 205.69 L295.5 205.63 L296.52 205.57 L297.55 205.51 L298.58 205.45 L299.6 205.38 L300.63 205.32 L301.66 205.26 L302.68 205.2 L303.71 205.15 L304.74 205.1" stroke="#ff0000"/>
<path d="M31.7 171.5 L32.73 175.79 L33.75 179.87 L34.78 183.71 L35.81 187.25 L36.83 190.47 L37.86 193.32 L38.89 195.8 L39.91 198.17 L40.94 200.46 L41.96 202.56 L42.99 204.38 L44.02 205.82 L45.04 206.8 L46.07 207.33 L47.1 207.79 L48.12 208.2 L49.15 208.52 L50.18 208.72 L51.2 208.81 L52.23 208.74 L53.26 208.38 L54.28 207.74 L55.31 206.97 L56.33 206.16 L57.36 205.37 L58.39 204.6 L59.41 203.79 L60.44 202.95 L61.47 202.05 L62.49 201.07 L63.52 199.96 L64.55 198.68 L65.57 197.19 L66.6 195.44 L67.63 193.43 L68.65 191.16 L69.68 188.68 L70.71 186.07 L71.73 183.43 L72.76 180.83 L73.78 178.32 L74.81 175.9 L75.84 173.54 L76.86 171.2 L77.89 168.82 L78.92 166.37 L79.94 163.82 L80.97 161.17 L82 158.39 L83.02 155.48 L84.05 152.44 L85.08 149.27 L86.1 145.99 L87.13 142.62 L88.15 139.22 L89.18 135.84 L90.21 132.51 L91.23 129.27 L92.26 126.17 L93.29 123.23 L94.31 120.49 L95.34 117.97 L96.37 115.71 L97.39 113.71 L98.42 111.97 L99.45 110.51 L100.47 109.29 L101.5 108.32 L102.53 107.57 L103.55 107.03 L104.58 106.67 L105.6 106.49 L106.63 106.46 L107.66 106.56 L108.68 106.76 L109.71 107.06 L110.74 107.42 L111.76 107.84 L112.79 108.31 L113.82 108.82 L114.84 109.37 L115.87 109.96 L116.9 110.57 L117.92 111.2 L118.95 111.85 L119.97 112.49 L121 113.14 L122.03 113.78 L123.05 114.41 L124.08 115.03 L125.11 115.62 L126.13 116.19 L127.16 116.72 L128.19 117.23 L129.21 117.71 L130.24 118.17 L131.27 118.61 L132.29 119.02 L133.32 119.41 L134.34 119.76 L135.37 120.06 L136.4 120.29 L137.42 120.45 L138.45 120.5 L139.48 120.44 L140.5 120.26 L141.53 119.94 L142.56 119.51 L143.58 119 L144.61 118.43 L145.64 117.83 L146.66 117.25 L147.69 116.72 L148.72 116.28 L149.74 115.97 L150.77 115.83 L151.79 115.89 L152.82 116.17 L153.85 116.68 L154.87 117.41 L155.9 118.37 L156.93 119.54 L157.95 120.92 L158.98 122.52 L160.01 124.3 L161.03 126.25 L162.06 128.35 L163.09 130.57 L164.11 132.87 L165.14 135.24 L166.16 137.64 L167.19 140.05 L168.22 142.43 L169.24 144.76 L170.27 147.01 L171.3 149.17 L172.32 151.22 L173.35 153.15 L174.38 154.97 L175.4 156.67 L176.43 158.24 L177.46 159.68 L178.48 161 L179.51 162.18 L180.54 163.25 L181.56 164.22 L182.59 165.13 L183.61 166.01 L184.64 166.89 L185.67 167.77 L186.69 168.67 L187.72 169.57 L188.75 170.48 L189.77 171.37 L190.8 172.25 L191.83 173.1 L192.85 173.93 L193.88 174.74 L194.91 175.53 L195.93 176.3 L196.96 177.05 L197.98 177.78 L199.01 178.49 L200.04 179.17 L201.06 179.83 L202.09 180.46 L203.12 181.06 L204.14 181.63 L205.17 182.18 L206.2 182.71 L207.22 183.21 L208.25 183.69 L209.28 184.15 L210.3 184.59 L211.33 185.02 L212.36 185.43 L213.38 185.83 L214.41 186.21 L215.43 186.59 L216.46 186.94 L217.49 187.29 L218.51 187.62 L219.54 187.93 L220.57 188.24 L221.59 188.55 L222.62 188.85 L223.65 189.16 L224.67 189.49 L225.7 189.84 L226.73 190.21 L227.75 190.62 L228.78 191.07 L229.8 191.56 L230.83 192.09 L231.86 192.65 L232.88 193.23 L233.91 193.82 L234.94 194.41 L235.96 194.99 L236.99 195.55 L238.02 196.1 L239.04 196.63 L240.07 197.15 L241.1 197.65 L242.12 198.13 L243.15 198.61 L244.18 199.07 L245.2 199.51 L246.23 199.94 L247.25 200.35 L248.28 200.73 L249.31 201.1 L250.33 201.46 L251.36 201.8 L252.39 202.12 L253.41 202.43 L254.44 202.74 L255.47 203.03 L256.49 203.3 L257.52 203.57 L258.55 203.82 L259.57 204.06 L260.6 204.28 L261.62 204.49 L262.65 204.68 L263.68 204.85 L264.7 205.01 L265.73 205.16 L266.76 205.3 L267.78 205.43 L268.81 205.55 L269.84 205.66 L270.86 205.75 L271.89 205.83 L272.92 205.88 L273.94 205.92 L274.97 205.94 L276 205.95 L277.02 205.94 L278.05 205.92 L279.07 205.9 L280.1 205.87 L281.13 205.83 L282.15 205.79 L283.18 205.74 L284.21 205.69 L285.23 205.65 L286.26 205.6 L287.29 205.55 L288.31 205.5 L289.34 205.45 L290.37 205.4 L291.39 205.35 L292.42 205.3 L293.44 205.24 L294.47 205.19 L295.5 205.13 L296.52 205.07 L297.55 205.01 L298.58 204.95 L299.6 204.88 L300.63 204.82 L301.66 204.76 L302.68 204.7 L303.71 204.65 L304.74 204.6" stroke="#8000ff"/>
<path d="M31.7 167 L32.73 171.77 L33.75 176.3 L34.78 180.55 L35.81 184.47 L36.83 188.02 L37.86 191.16 L38.89 193.86 L39.91 196.37 L40.94 198.74 L41.96 200.9 L42.99 202.81 L44.02 204.42 L45.04 205.67 L46.07 206.61 L47.1 207.49 L48.12 208.29 L49.15 208.96 L50.18 209.43 L51.2 209.7 L52.23 209.73 L53.26 209.51 L54.28 209.07 L55.31 208.46 L56.33 207.72 L57.36 206.86 L58.39 205.86 L59.41 204.76 L60.44 203.62 L61.47 202.42 L62.49 201.16 L63.52 199.84 L64.55 198.39 L65.57 196.74 L66.6 194.8 L67.63 192.51 L68.65 189.89 L69.68 187 L70.71 183.95 L71.73 180.86 L72.76 177.84 L73.78 174.93 L74.81 172.12 L75.84 169.39 L76.86 166.71 L77.89 164.03 L78.92 161.32 L79.94 158.55 L80.97 155.66 L82 152.6 L83.02 149.33 L84.05 145.78 L85.08 141.94 L86.1 137.83 L87.13 133.52 L88.15 129.09 L89.18 124.65 L90.21 120.29 L91.23 116.1 L92.26 112.14 L93.29 108.43 L94.31 105 L95.34 101.89 L96.37 99.11 L97.39 96.65 L98.42 94.51 L99.45 92.68 L100.47 91.15 L101.5 89.89 L102.53 88.9 L103.55 88.17 L104.58 87.69 L105.6 87.44 L106.63 87.43 L107.66 87.61 L108.68 87.95 L109.71 88.42 L110.74 88.98 L111.76 89.6 L112.79 90.26 L113.82 90.94 L114.84 91.65 L115.87 92.39 L116.9 93.16 L117.92 93.97 L118.95 94.83 L119.97 95.73 L121 96.68 L122.03 97.66 L123.05 98.66 L124.08 99.67 L125.11 100.65 L126.13 101.58 L127.16 102.46 L128.19 103.28 L129.21 104.05 L130.24 104.77 L131.27 105.44 L132.29 106.07 L133.32 106.65 L134.34 107.17 L135.37 107.63 L136.4 108.01 L137.42 108.31 L138.45 108.52 L139.48 108.63 L140.5 108.65 L141.53 108.59 L142.56 108.45 L143.58 108.23 L144.61 107.95 L145.64 107.61 L146.66 107.23 L147.69 106.84 L148.72 106.49 L149.74 106.22 L150.77 106.09 L151.79 106.14 L152.82 106.4 L153.85 106.89 L154.87 107.63 L155.9 108.64 L156.93 109.92 L157.95 111.48 L158.98 113.31 L160.01 115.4 L161.03 117.7 L162.06 120.15 L163.09 122.7 L164.11 125.3 L165.14 127.92 L166.16 130.5 L167.19 133.04 L168.22 135.5 L169.24 137.86 L170.27 140.08 L171.3 142.15 L172.32 144.04 L173.35 145.75 L174.38 147.3 L175.4 148.71 L176.43 149.99 L177.46 151.19 L178.48 152.32 L179.51 153.4 L180.54 154.45 L181.56 155.46 L182.59 156.43 L183.61 157.38 L184.64 158.29 L185.67 159.17 L186.69 160.03 L187.72 160.86 L188.75 161.67 L189.77 162.47 L190.8 163.26 L191.83 164.03 L192.85 164.8 L193.88 165.57 L194.91 166.33 L195.93 167.07 L196.96 167.81 L197.98 168.53 L199.01 169.23 L200.04 169.9 L201.06 170.55 L202.09 171.17 L203.12 171.76 L204.14 172.32 L205.17 172.85 L206.2 173.34 L207.22 173.8 L208.25 174.24 L209.28 174.66 L210.3 175.06 L211.33 175.45 L212.36 175.83 L213.38 176.22 L214.41 176.6 L215.43 177 L216.46 177.4 L217.49 177.82 L218.51 178.24 L219.54 178.69 L220.57 179.14 L221.59 179.61 L222.62 180.1 L223.65 180.61 L224.67 181.15 L225.7 181.73 L226.73 182.36 L227.75 183.05 L228.78 183.8 L229.8 184.63 L230.83 185.52 L231.86 186.45 L232.88 187.43 L233.91 188.41 L234.94 189.38 L235.96 190.32 L236.99 191.21 L238.02 192.06 L239.04 192.86 L240.07 193.62 L241.1 194.34 L242.12 195.03 L243.15 195.69 L244.18 196.32 L245.2 196.93 L246.23 197.51 L247.25 198.06 L248.28 198.58 L249.31 199.08 L250.33 199.54 L251.36 199.98 L252.39 200.39 L253.41 200.78 L254.44 201.15 L255.47 201.5 L256.49 201.85 L257.52 202.18 L258.55 202.49 L259.57 202.8 L260.6 203.08 L261.62 203.34 L262.65 203.58 L263.68 203.79 L264.7 203.98 L265.73 204.15 L266.76 204.3 L267.78 204.44 L268.81 204.56 L269.84 204.67 L270.86 204.76 L271.89 204.83 L272.92 204.89 L273.94 204.92 L274.97 204.94 L276 204.95 L277.02 204.94 L278.05 204.92 L279.07 204.9 L280.1 204.87 L281.13 204.83 L282.15 204.79 L283.18 204.74 L284.21 204.69 L285.23 204.65 L286.26 204.6 L287.29 204.55 L288.31 204.5 L289.34 204.45 L290.37 204.4 L291.39 204.35 L292.42 204.3 L293.44 204.24 L294.47 204.19 L295.5 204.13 L296.52 204.07 L297.55 204.01 L298.58 203.95 L299.6 203.88 L300.63 203.82 L301.66 203.76 L302.68 203.7 L303.71 203.65 L304.74 203.6" stroke="#ff8000"/>
<path d="M31.7 153 L32.73 160.15 L33.75 166.85 L34.78 173.05 L35.81 178.77 L36.83 184.14 L37.86 189.04 L38.89 193.4 L39.91 197.4 L40.94 200.99 L41.96 204 L42.99 206.4 L44.02 208.45 L45.04 210.36 L46.07 212.3 L47.1 214.21 L48.12 215.97 L49.15 217.47 L50.18 218.93 L51.2 219.99 L52.23 220.27 L53.26 219.75 L54.28 218.74 L55.31 217.38 L56.33 215.77 L57.36 214 L58.39 212.04 L59.41 209.97 L60.44 207.89 L61.47 205.8 L62.49 203.74 L63.52 201.67 L64.55 199.52 L65.57 197.17 L66.6 194.5 L67.63 191.48 L68.65 188.14 L69.68 184.62 L70.71 181.06 L71.73 177.59 L72.76 174.27 L73.78 171.09 L74.81 168.03 L75.84 165.04 L76.86 162.09 L77.89 159.15 L78.92 156.21 L79.94 153.23 L80.97 150.15 L82 146.91 L83.02 143.44 L84.05 139.68 L85.08 135.6 L86.1 131.22 L87.13 126.62 L88.15 121.89 L89.18 117.16 L90.21 112.54 L91.23 108.1 L92.26 103.91 L93.29 100 L94.31 96.38 L95.34 93.08 L96.37 90.09 L97.39 87.44 L98.42 85.12 L99.45 83.13 L100.47 81.47 L101.5 80.14 L102.53 79.11 L103.55 78.36 L104.58 77.88 L105.6 77.64 L106.63 77.62 L107.66 77.79 L108.68 78.11 L109.71 78.56 L110.74 79.12 L111.76 79.76 L112.79 80.47 L113.82 81.26 L114.84 82.11 L115.87 83.02 L116.9 83.98 L117.92 84.99 L118.95 86.03 L119.97 87.11 L121 88.2 L122.03 89.31 L123.05 90.42 L124.08 91.5 L125.11 92.54 L126.13 93.52 L127.16 94.43 L128.19 95.27 L129.21 96.05 L130.24 96.78 L131.27 97.46 L132.29 98.09 L133.32 98.67 L134.34 99.19 L135.37 99.65 L136.4 100.02 L137.42 100.32 L138.45 100.52 L139.48 100.64 L140.5 100.66 L141.53 100.59 L142.56 100.44 L143.58 100.2 L144.61 99.89 L145.64 99.51 L146.66 99.08 L147.69 98.63 L148.72 98.2 L149.74 97.85 L150.77 97.64 L151.79 97.6 L152.82 97.78 L153.85 98.2 L154.87 98.89 L155.9 99.87 L156.93 101.18 L157.95 102.82 L158.98 104.79 L160.01 107.07 L161.03 109.59 L162.06 112.29 L163.09 115.08 L164.11 117.89 L165.14 120.67 L166.16 123.38 L167.19 125.99 L168.22 128.5 L169.24 130.9 L170.27 133.18 L171.3 135.34 L172.32 137.37 L173.35 139.27 L174.38 141.07 L175.4 142.76 L176.43 144.36 L177.46 145.89 L178.48 147.36 L179.51 148.77 L180.54 150.13 L181.56 151.43 L182.59 152.66 L183.61 153.82 L184.64 154.89 L185.67 155.89 L186.69 156.82 L187.72 157.71 L188.75 158.57 L189.77 159.42 L190.8 160.29 L191.83 161.18 L192.85 162.09 L193.88 163.02 L194.91 163.97 L195.93 164.93 L196.96 165.87 L197.98 166.81 L199.01 167.72 L200.04 168.59 L201.06 169.42 L202.09 170.19 L203.12 170.91 L204.14 171.57 L205.17 172.17 L206.2 172.72 L207.22 173.22 L208.25 173.68 L209.28 174.11 L210.3 174.51 L211.33 174.9 L212.36 175.28 L213.38 175.65 L214.41 176.03 L215.43 176.42 L216.46 176.82 L217.49 177.23 L218.51 177.66 L219.54 178.1 L220.57 178.56 L221.59 179.04 L222.62 179.54 L223.65 180.06 L224.67 180.61 L225.7 181.2 L226.73 181.84 L227.75 182.54 L228.78 183.3 L229.8 184.13 L230.83 185.01 L231.86 185.95 L232.88 186.92 L233.91 187.91 L234.94 188.88 L235.96 189.82 L236.99 190.72 L238.02 191.58 L239.04 192.39 L240.07 193.16 L241.1 193.9 L242.12 194.61 L243.15 195.29 L244.18 195.94 L245.2 196.56 L246.23 197.16 L247.25 197.73 L248.28 198.26 L249.31 198.77 L250.33 199.24 L251.36 199.68 L252.39 200.08 L253.41 200.46 L254.44 200.8 L255.47 201.12 L256.49 201.43 L257.52 201.71 L258.55 201.99 L259.57 202.26 L260.6 202.52 L261.62 202.77 L262.65 203.01 L263.68 203.24 L264.7 203.46 L265.73 203.67 L266.76 203.86 L267.78 204.03 L268.81 204.18 L269.84 204.31 L270.86 204.42 L271.89 204.51 L272.92 204.57 L273.94 204.61 L274.97 204.63 L276 204.64 L277.02 204.63 L278.05 204.6 L279.07 204.57 L280.1 204.52 L281.13 204.47 L282.15 204.41 L283.18 204.35 L284.21 204.28 L285.23 204.21 L286.26 204.14 L287.29 204.07 L288.31 203.99 L289.34 203.91 L290.37 203.82 L291.39 203.73 L292.42 203.64 L293.44 203.54 L294.47 203.43 L295.5 203.32 L296.52 203.2 L297.55 203.08 L298.58 202.95 L299.6 202.82 L300.63 202.69 L301.66 202.56 L302.68 202.43 L303.71 202.31 L304.74 202.22" stroke="#ff0000"/>
</g>
<text x="353.04" y="13.8" font-size="19" text-anchor="start" fill="#000" font-weight="bold">b</text>
<line x1="384.55" y1="213.3" x2="664.45" y2="213.3" stroke="#000" stroke-width="1.65"/>
<line x1="385.3" y1="213.3" x2="385.3" y2="214.9" stroke="#000" stroke-width="1.45"/>
<line x1="420.1" y1="213.3" x2="420.1" y2="217.4" stroke="#000" stroke-width="1.45"/>
<line x1="454.9" y1="213.3" x2="454.9" y2="214.9" stroke="#000" stroke-width="1.45"/>
<line x1="489.7" y1="213.3" x2="489.7" y2="217.4" stroke="#000" stroke-width="1.45"/>
<line x1="524.5" y1="213.3" x2="524.5" y2="214.9" stroke="#000" stroke-width="1.45"/>
<line x1="559.3" y1="213.3" x2="559.3" y2="217.4" stroke="#000" stroke-width="1.45"/>
<line x1="594.1" y1="213.3" x2="594.1" y2="214.9" stroke="#000" stroke-width="1.45"/>
<line x1="628.9" y1="213.3" x2="628.9" y2="217.4" stroke="#000" stroke-width="1.45"/>
<line x1="663.7" y1="213.3" x2="663.7" y2="214.9" stroke="#000" stroke-width="1.45"/>
<text x="374.86" y="231.1" font-size="15" text-anchor="start" fill="#000">0.3</text>
<text x="444.46" y="231.1" font-size="15" text-anchor="start" fill="#000">0.5</text>
<text x="514.12" y="231.1" font-size="15" text-anchor="start" fill="#000">0.7</text>
<text x="583.73" y="231.1" font-size="15" text-anchor="start" fill="#000">0.9</text>
<text x="653.08" y="231.1" font-size="15" text-anchor="start" fill="#000">1.1</text>
<text x="470.2" y="253" font-size="15.3"><tspan font-style="italic">E</tspan>/<tspan font-style="italic">V</tspan> (vs. Ag/Ag<tspan font-size="10" dy="-6">+</tspan><tspan dy="6">)</tspan></text>
<text x="462.2" y="20.3" font-size="15" text-anchor="start" fill="#000">p1</text>
<text x="525.5" y="22.8" font-size="15" text-anchor="start" fill="#000">p2</text>
<text x="582.29" y="20.3" font-size="15" text-anchor="start" fill="#000">p3</text>
<text x="379.98" y="56.7" font-size="15" text-anchor="start" fill="#000">20 µA</text>
<line x1="428.6" y1="35.7" x2="428.6" y2="67.8" stroke="#000" stroke-width="1.3"/>
<g fill="none" stroke-width="1.5" stroke-linejoin="round">
<path d="M385.3 94 L386.15 94 L386.99 94 L387.84 94 L388.69 94 L389.53 94 L390.38 94 L391.23 94 L392.07 94 L392.92 94 L393.77 94 L394.61 94 L395.46 94 L396.31 94 L397.15 94 L398 94 L398.84 94 L399.69 94 L400.54 94 L401.38 94 L402.23 94 L403.08 94 L403.92 94 L404.77 94 L405.62 94 L406.46 94 L407.31 94 L408.16 94 L409 94 L409.85 94 L410.7 94 L411.54 94 L412.39 94 L413.24 94 L414.08 94 L414.93 94 L415.78 94 L416.62 94 L417.47 94 L418.32 94 L419.16 94 L420.01 94 L420.85 94 L421.7 94 L422.55 94 L423.39 94 L424.24 94 L425.09 94 L425.93 94 L426.78 94 L427.63 94 L428.47 94 L429.32 94 L430.17 94 L431.01 94 L431.86 94 L432.71 94 L433.55 94 L434.4 94 L435.25 94 L436.09 94 L436.94 94 L437.79 94 L438.63 94 L439.48 94 L440.33 94 L441.17 94 L442.02 94 L442.87 94 L443.71 94 L444.56 94 L445.4 94 L446.25 94 L447.1 94 L447.94 94 L448.79 94 L449.64 94 L450.48 94 L451.33 94 L452.18 94 L453.02 94 L453.87 94 L454.72 94 L455.56 94 L456.41 94 L457.26 94 L458.1 94 L458.95 94 L459.8 94 L460.64 94 L461.49 94 L462.34 94 L463.18 94 L464.03 94 L464.88 94 L465.72 94 L466.57 94 L467.41 94 L468.26 94 L469.11 94 L469.95 94 L470.8 94 L471.65 94 L472.49 94 L473.34 94 L474.19 94 L475.03 94 L475.88 94 L476.73 94 L477.57 94 L478.42 94 L479.27 94 L480.11 94 L480.96 94 L481.81 94 L482.65 94 L483.5 94 L484.35 94 L485.19 94 L486.04 94 L486.89 94 L487.73 94 L488.58 94 L489.43 94 L490.27 94 L491.12 94 L491.96 94 L492.81 94 L493.66 94 L494.5 94 L495.35 94 L496.2 94 L497.04 94 L497.89 94 L498.74 94 L499.58 94 L500.43 94 L501.28 94 L502.12 94 L502.97 94 L503.82 94 L504.66 94 L505.51 94 L506.36 94 L507.2 94 L508.05 94 L508.9 94 L509.74 94 L510.59 94 L511.44 94 L512.28 94 L513.13 94 L513.97 94 L514.82 94 L515.67 94 L516.51 94 L517.36 94 L518.21 94 L519.05 94 L519.9 94 L520.75 94 L521.59 94 L522.44 94 L523.29 94 L524.13 94 L524.98 94 L525.83 94 L526.67 94 L527.52 94 L528.37 94 L529.21 93.99 L530.06 93.99 L530.91 93.99 L531.75 93.99 L532.6 93.99 L533.45 93.99 L534.29 93.98 L535.14 93.98 L535.99 93.98 L536.83 93.97 L537.68 93.97 L538.52 93.96 L539.37 93.95 L540.22 93.95 L541.06 93.94 L541.91 93.93 L542.76 93.91 L543.6 93.9 L544.45 93.88 L545.3 93.86 L546.14 93.84 L546.99 93.81 L547.84 93.78 L548.68 93.75 L549.53 93.71 L550.38 93.67 L551.22 93.62 L552.07 93.57 L552.92 93.51 L553.76 93.44 L554.61 93.36 L555.46 93.28 L556.3 93.19 L557.15 93.08 L558 92.97 L558.84 92.85 L559.69 92.71 L560.53 92.56 L561.38 92.4 L562.23 92.23 L563.07 92.04 L563.92 91.83 L564.77 91.61 L565.61 91.38 L566.46 91.12 L567.31 90.86 L568.15 90.57 L569 90.27 L569.85 89.95 L570.69 89.61 L571.54 89.26 L572.39 88.89 L573.23 88.51 L574.08 88.11 L574.93 87.7 L575.77 87.28 L576.62 86.84 L577.47 86.4 L578.31 85.95 L579.16 85.49 L580.01 85.03 L580.85 84.56 L581.7 84.1 L582.55 83.64 L583.39 83.18 L584.24 82.73 L585.08 82.29 L585.93 81.87 L586.78 81.46 L587.62 81.06 L588.47 80.69 L589.32 80.34 L590.16 80.01 L591.01 79.71 L591.86 79.44 L592.7 79.2 L593.55 79 L594.4 78.83 L595.24 78.69 L596.09 78.59 L596.94 78.53 L597.78 78.5 L598.63 78.73 L599.48 79.02 L600.32 79.33 L601.17 79.65 L602.02 79.99 L602.86 80.34 L603.71 80.71 L604.56 81.08 L605.4 81.47 L606.25 81.86 L607.09 82.27 L607.94 82.68 L608.79 83.11 L609.63 83.57 L610.48 84.04 L611.33 84.53 L612.17 85.04 L613.02 85.56 L613.87 86.11 L614.71 86.7 L615.56 87.35 L616.41 88.03 L617.25 88.66 L618.1 89.21 L618.95 89.68 L619.79 90.13 L620.64 90.56 L621.49 90.96 L622.33 91.33 L623.18 91.69 L624.03 92.02 L624.87 92.33 L625.72 92.61 L626.57 92.83 L627.41 93.03 L628.26 93.24 L629.11 93.48 L629.95 93.8 L630.8 94.27 L631.64 94.91 L632.49 95.7 L633.34 96.61 L634.18 97.63 L635.03 98.73 L635.88 99.89 L636.72 101.07 L637.57 102.26 L638.42 103.43 L639.26 104.56 L640.11 105.67 L640.96 106.81 L641.8 107.97 L642.65 109.17 L643.5 110.39 L644.34 111.64 L645.19 112.91 L646.04 114.2 L646.88 115.51 L647.73 116.84 L648.58 118.19 L649.42 119.57 L650.27 120.98 L651.12 122.42 L651.96 123.88 L652.81 125.38 L653.65 126.89 L654.5 128.44 L655.35 130 L654.5 129.75 L653.65 129.5 L652.81 129.25 L651.96 129.01 L651.12 128.77 L650.27 128.54 L649.42 128.31 L648.58 128.08 L647.73 127.85 L646.88 127.63 L646.04 127.41 L645.19 127.18 L644.34 126.95 L643.5 126.71 L642.65 126.48 L641.8 126.27 L640.96 126.08 L640.11 125.92 L639.26 125.79 L638.42 125.68 L637.57 125.57 L636.72 125.47 L635.88 125.37 L635.03 125.27 L634.18 125.17 L633.34 125.08 L632.49 124.99 L631.64 124.91 L630.8 124.83 L629.95 124.76 L629.11 124.69 L628.26 124.63 L627.41 124.57 L626.57 124.53 L625.72 124.49 L624.87 124.45 L624.03 124.43 L623.18 124.41 L622.33 124.4 L621.49 124.41 L620.64 124.45 L619.79 124.53 L618.95 124.64 L618.1 124.79 L617.25 124.96 L616.41 125.15 L615.56 125.36 L614.71 125.57 L613.87 125.77 L613.02 125.97 L612.17 126.15 L611.33 126.31 L610.48 126.43 L609.63 126.53 L608.79 126.58 L607.94 126.6 L607.09 126.52 L606.25 126.39 L605.4 126.22 L604.56 126 L603.71 125.73 L602.86 125.43 L602.02 125.08 L601.17 124.69 L600.32 124.27 L599.48 123.81 L598.63 123.32 L597.78 122.8 L596.94 122.26 L596.09 121.69 L595.24 121.1 L594.4 120.5 L593.55 119.89 L592.7 119.26 L591.86 118.63 L591.01 117.99 L590.16 117.35 L589.32 116.71 L588.47 116.07 L587.62 115.44 L586.78 114.81 L585.93 114.2 L585.08 113.59 L584.24 113 L583.39 112.42 L582.55 111.86 L581.7 111.31 L580.85 110.78 L580.01 110.27 L579.16 109.78 L578.31 109.3 L577.47 108.85 L576.62 108.42 L575.77 108 L574.93 107.61 L574.08 107.24 L573.23 106.88 L572.39 106.55 L571.54 106.23 L570.69 105.93 L569.85 105.65 L569 105.38 L568.15 105.14 L567.31 104.9 L566.46 104.68 L565.61 104.48 L564.77 104.29 L563.92 104.11 L563.07 103.94 L562.23 103.79 L561.38 103.64 L560.53 103.51 L559.69 103.38 L558.84 103.26 L558 103.15 L557.15 103.04 L556.3 102.95 L555.46 102.86 L554.61 102.77 L553.76 102.69 L552.92 102.61 L552.07 102.54 L551.22 102.47 L550.38 102.4 L549.53 102.34 L548.68 102.28 L547.84 102.23 L546.99 102.17 L546.14 102.12 L545.3 102.07 L544.45 102.02 L543.6 101.97 L542.76 101.92 L541.91 101.88 L541.06 101.83 L540.22 101.79 L539.37 101.75 L538.52 101.71 L537.68 101.67 L536.83 101.63 L535.99 101.59 L535.14 101.55 L534.29 101.51 L533.45 101.47 L532.6 101.43 L531.75 101.4 L530.91 101.36 L530.06 101.32 L529.21 101.29 L528.37 101.25 L527.52 101.22 L526.67 101.18 L525.83 101.15 L524.98 101.12 L524.13 101.08 L523.29 101.05 L522.44 101.01 L521.59 100.98 L520.75 100.95 L519.9 100.92 L519.05 100.88 L518.21 100.85 L517.36 100.82 L516.51 100.79 L515.67 100.76 L514.82 100.73 L513.97 100.7 L513.13 100.67 L512.28 100.63 L511.44 100.6 L510.59 100.58 L509.74 100.55 L508.9 100.52 L508.05 100.49 L507.2 100.46 L506.36 100.43 L505.51 100.4 L504.66 100.37 L503.82 100.34 L502.97 100.32 L502.12 100.29 L501.28 100.26 L500.43 100.23 L499.58 100.21 L498.74 100.18 L497.89 100.15 L497.04 100.13 L496.2 100.1 L495.35 100.08 L494.5 100.05 L493.66 100.03 L492.81 100 L491.96 99.98 L491.12 99.95 L490.27 99.93 L489.43 99.9 L488.58 99.88 L487.73 99.85 L486.89 99.83 L486.04 99.81 L485.19 99.78 L484.35 99.76 L483.5 99.74 L482.65 99.71 L481.81 99.69 L480.96 99.67 L480.11 99.65 L479.27 99.63 L478.42 99.6 L477.57 99.58 L476.73 99.56 L475.88 99.54 L475.03 99.52 L474.19 99.5 L473.34 99.48 L472.49 99.46 L471.65 99.44 L470.8 99.42 L469.95 99.4 L469.11 99.38 L468.26 99.36 L467.41 99.34 L466.57 99.32 L465.72 99.3 L464.88 99.28 L464.03 99.27 L463.18 99.25 L462.34 99.23 L461.49 99.21 L460.64 99.2 L459.8 99.18 L458.95 99.16 L458.1 99.14 L457.26 99.13 L456.41 99.11 L455.56 99.09 L454.72 99.08 L453.87 99.06 L453.02 99.05 L452.18 99.03 L451.33 99.02 L450.48 99 L449.64 98.99 L448.79 98.97 L447.94 98.96 L447.1 98.94 L446.25 98.93 L445.4 98.91 L444.56 98.9 L443.71 98.89 L442.87 98.87 L442.02 98.86 L441.17 98.85 L440.33 98.84 L439.48 98.82 L438.63 98.81 L437.79 98.8 L436.94 98.79 L436.09 98.77 L435.25 98.76 L434.4 98.75 L433.55 98.74 L432.71 98.73 L431.86 98.72 L431.01 98.71 L430.17 98.7 L429.32 98.69 L428.47 98.68 L427.63 98.67 L426.78 98.66 L425.93 98.65 L425.09 98.64 L424.24 98.63 L423.39 98.62 L422.55 98.61 L421.7 98.6 L420.85 98.6 L420.01 98.59 L419.16 98.58 L418.32 98.57 L417.47 98.56 L416.62 98.56 L415.78 98.55 L414.93 98.54 L414.08 98.54 L413.24 98.53 L412.39 98.52 L411.54 98.52 L410.7 98.51 L409.85 98.5 L409 98.5 L408.16 98.49 L407.31 98.49 L406.46 98.48 L405.62 98.48 L404.77 98.47 L403.92 98.47 L403.08 98.47 L402.23 98.46 L401.38 98.46 L400.54 98.45 L399.69 98.45 L398.84 98.45 L398 98.44 L397.15 98.44 L396.31 98.44 L395.46 98.44 L394.61 98.43 L393.77 98.43 L392.92 98.43 L392.07 98.43 L391.23 98.43 L390.38 98.42 L389.53 98.42 L388.69 98.42 L387.84 98.42 L386.99 98.42 L386.15 98.42 L385.3 98.42" stroke="#ff0000"/>
<path d="M385.3 93 L386.17 93 L387.05 93 L387.92 93 L388.79 93 L389.66 93 L390.54 93 L391.41 93 L392.28 93 L393.15 93 L394.03 93 L394.9 93 L395.77 93 L396.65 93 L397.52 93 L398.39 93 L399.26 93 L400.14 93 L401.01 93 L401.88 93 L402.75 93 L403.63 93 L404.5 93 L405.37 93 L406.25 93 L407.12 93 L407.99 93 L408.86 93 L409.74 93 L410.61 93 L411.48 93 L412.35 93 L413.23 93 L414.1 93 L414.97 93 L415.85 93 L416.72 93 L417.59 93 L418.46 93 L419.34 93 L420.21 93 L421.08 93 L421.95 93 L422.83 93 L423.7 93 L424.57 93 L425.45 93 L426.32 93 L427.19 93 L428.06 93 L428.94 93 L429.81 93 L430.68 93 L431.55 93 L432.43 93 L433.3 93 L434.17 93 L435.05 93 L435.92 93 L436.79 93 L437.66 93 L438.54 93 L439.41 93 L440.28 93 L441.15 93 L442.03 93 L442.9 93 L443.77 93 L444.65 93 L445.52 93 L446.39 93 L447.26 93 L448.14 93 L449.01 93 L449.88 93 L450.75 93 L451.63 93 L452.5 93 L453.37 93 L454.25 93 L455.12 93 L455.99 93 L456.86 93 L457.74 93 L458.61 93 L459.48 93 L460.35 93 L461.23 93 L462.1 93 L462.97 93 L463.85 92.99 L464.72 92.99 L465.59 92.99 L466.46 92.99 L467.34 92.99 L468.21 92.99 L469.08 92.98 L469.95 92.98 L470.83 92.98 L471.7 92.97 L472.57 92.96 L473.45 92.96 L474.32 92.95 L475.19 92.94 L476.06 92.93 L476.94 92.91 L477.81 92.9 L478.68 92.88 L479.55 92.86 L480.43 92.83 L481.3 92.81 L482.17 92.77 L483.05 92.74 L483.92 92.69 L484.79 92.64 L485.66 92.59 L486.54 92.53 L487.41 92.45 L488.28 92.37 L489.15 92.28 L490.03 92.18 L490.9 92.07 L491.77 91.95 L492.65 91.81 L493.52 91.65 L494.39 91.48 L495.26 91.3 L496.14 91.09 L497.01 90.87 L497.88 90.63 L498.75 90.36 L499.63 90.08 L500.5 89.77 L501.37 89.43 L502.25 89.08 L503.12 88.7 L503.99 88.29 L504.86 87.86 L505.74 87.41 L506.61 86.93 L507.48 86.42 L508.35 85.89 L509.23 85.34 L510.1 84.77 L510.97 84.18 L511.85 83.57 L512.72 82.95 L513.59 82.31 L514.46 81.66 L515.34 81 L516.21 80.34 L517.08 79.67 L517.95 79.01 L518.83 78.35 L519.7 77.69 L520.57 77.06 L521.45 76.43 L522.32 75.83 L523.19 75.25 L524.06 74.7 L524.94 74.18 L525.81 73.7 L526.68 73.26 L527.55 72.85 L528.43 72.5 L529.3 72.18 L530.17 71.92 L531.05 71.71 L531.92 71.56 L532.79 71.45 L533.66 71.4 L534.54 71.41 L535.41 71.47 L536.28 71.59 L537.15 71.75 L538.03 71.97 L538.9 72.24 L539.77 72.55 L540.65 72.91 L541.52 73.31 L542.39 73.74 L543.26 74.21 L544.14 74.71 L545.01 75.23 L545.88 75.78 L546.75 76.34 L547.63 76.91 L548.5 77.49 L549.37 78.07 L550.25 78.65 L551.12 79.22 L551.99 79.79 L552.86 80.34 L553.74 80.87 L554.61 81.37 L555.48 81.85 L556.35 82.3 L557.23 82.72 L558.1 83.11 L558.97 83.45 L559.85 83.76 L560.72 84.02 L561.59 84.25 L562.46 84.42 L563.34 84.56 L564.21 84.65 L565.08 84.69 L565.95 84.69 L566.83 84.64 L567.7 84.55 L568.57 84.42 L569.45 84.25 L570.32 84.04 L571.19 83.79 L572.06 83.51 L572.94 83.19 L573.81 82.85 L574.68 82.49 L575.55 82.1 L576.43 81.69 L577.3 81.27 L578.17 80.83 L579.05 80.39 L579.92 79.95 L580.79 79.5 L581.66 79.06 L582.54 78.63 L583.41 78.21 L584.28 77.81 L585.15 77.43 L586.03 77.08 L586.9 76.75 L587.77 76.45 L588.65 76.18 L589.52 75.95 L590.39 75.76 L591.26 75.6 L592.14 75.49 L593.01 75.42 L593.88 75.4 L594.75 75.63 L595.63 75.95 L596.5 76.29 L597.37 76.64 L598.25 77.01 L599.12 77.39 L599.99 77.78 L600.86 78.19 L601.74 78.61 L602.61 79.04 L603.48 79.48 L604.35 79.92 L605.23 80.38 L606.1 80.86 L606.97 81.35 L607.85 81.87 L608.72 82.41 L609.59 82.96 L610.46 83.54 L611.34 84.13 L612.21 84.73 L613.08 85.41 L613.95 86.15 L614.83 86.89 L615.7 87.6 L616.57 88.21 L617.45 88.74 L618.32 89.24 L619.19 89.72 L620.06 90.17 L620.94 90.6 L621.81 91.01 L622.68 91.39 L623.55 91.75 L624.43 92.09 L625.3 92.4 L626.17 92.67 L627.05 92.92 L627.92 93.16 L628.79 93.42 L629.66 93.7 L630.54 94.01 L631.41 94.33 L632.28 94.64 L633.15 94.96 L634.03 95.29 L634.9 95.62 L635.77 95.96 L636.65 96.32 L637.52 96.7 L638.39 97.1 L639.26 97.53 L640.14 97.98 L641.01 98.47 L641.88 98.98 L642.75 99.54 L643.63 100.13 L644.5 100.77 L645.37 101.47 L646.25 102.3 L647.12 103.27 L647.99 104.38 L648.86 105.63 L649.74 107.01 L650.61 108.52 L651.48 110.16 L652.35 111.93 L653.23 113.82 L654.1 115.82 L654.97 118.14 L655.85 121.1 L656.72 124.54 L657.59 128.28 L658.46 132.12 L659.34 136.18 L660.21 140.62 L661.08 145.29 L661.95 150.04 L662.83 154.92 L663.7 160 L662.83 156.79 L661.95 153.77 L661.08 151 L660.21 148.51 L659.34 146.34 L658.46 144.53 L657.59 143.07 L656.72 141.8 L655.85 140.7 L654.97 139.72 L654.1 138.85 L653.23 138.07 L652.35 137.34 L651.48 136.63 L650.61 135.97 L649.74 135.35 L648.86 134.79 L647.99 134.3 L647.12 133.89 L646.25 133.56 L645.37 133.27 L644.5 132.98 L643.63 132.71 L642.75 132.45 L641.88 132.2 L641.01 131.96 L640.14 131.74 L639.26 131.54 L638.39 131.36 L637.52 131.2 L636.65 131.06 L635.77 130.95 L634.9 130.87 L634.03 130.82 L633.15 130.8 L632.28 130.81 L631.41 130.85 L630.54 130.92 L629.66 131.01 L628.79 131.13 L627.92 131.27 L627.05 131.44 L626.17 131.63 L625.3 131.83 L624.43 132.05 L623.55 132.28 L622.68 132.53 L621.81 132.78 L620.94 133.04 L620.06 133.29 L619.19 133.55 L618.32 133.8 L617.45 134.04 L616.57 134.27 L615.7 134.49 L614.83 134.69 L613.95 134.88 L613.08 135.04 L612.21 135.18 L611.34 135.3 L610.46 135.39 L609.59 135.45 L608.72 135.49 L607.85 135.49 L606.97 135.41 L606.1 135.26 L605.23 135.05 L604.35 134.77 L603.48 134.43 L602.61 134.03 L601.74 133.57 L600.86 133.07 L599.99 132.52 L599.12 131.93 L598.25 131.3 L597.37 130.63 L596.5 129.94 L595.63 129.23 L594.75 128.51 L593.88 127.77 L593.01 127.02 L592.14 126.27 L591.26 125.53 L590.39 124.8 L589.52 124.08 L588.65 123.38 L587.77 122.7 L586.9 122.04 L586.03 121.42 L585.15 120.83 L584.28 120.27 L583.41 119.76 L582.54 119.29 L581.66 118.85 L580.79 118.47 L579.92 118.13 L579.05 117.83 L578.17 117.59 L577.3 117.39 L576.43 117.24 L575.55 117.14 L574.68 117.08 L573.81 117.07 L572.94 117.09 L572.06 117.16 L571.19 117.27 L570.32 117.42 L569.45 117.6 L568.57 117.81 L567.7 118.04 L566.83 118.3 L565.95 118.58 L565.08 118.87 L564.21 119.18 L563.34 119.5 L562.46 119.82 L561.59 120.13 L560.72 120.45 L559.85 120.76 L558.97 121.05 L558.1 121.33 L557.23 121.59 L556.35 121.83 L555.48 122.03 L554.61 122.21 L553.74 122.36 L552.86 122.47 L551.99 122.54 L551.12 122.57 L550.25 122.55 L549.37 122.5 L548.5 122.4 L547.63 122.26 L546.75 122.07 L545.88 121.85 L545.01 121.58 L544.14 121.27 L543.26 120.92 L542.39 120.53 L541.52 120.11 L540.65 119.66 L539.77 119.18 L538.9 118.68 L538.03 118.15 L537.15 117.6 L536.28 117.03 L535.41 116.45 L534.54 115.86 L533.66 115.26 L532.79 114.65 L531.92 114.04 L531.05 113.43 L530.17 112.82 L529.3 112.22 L528.43 111.62 L527.55 111.03 L526.68 110.45 L525.81 109.89 L524.94 109.33 L524.06 108.8 L523.19 108.27 L522.32 107.77 L521.45 107.28 L520.57 106.82 L519.7 106.37 L518.83 105.94 L517.95 105.53 L517.08 105.14 L516.21 104.77 L515.34 104.42 L514.46 104.09 L513.59 103.77 L512.72 103.48 L511.85 103.2 L510.97 102.94 L510.1 102.7 L509.23 102.47 L508.35 102.26 L507.48 102.06 L506.61 101.88 L505.74 101.71 L504.86 101.55 L503.99 101.4 L503.12 101.26 L502.25 101.13 L501.37 101.01 L500.5 100.9 L499.63 100.8 L498.75 100.71 L497.88 100.62 L497.01 100.53 L496.14 100.46 L495.26 100.39 L494.39 100.32 L493.52 100.25 L492.65 100.19 L491.77 100.14 L490.9 100.09 L490.03 100.04 L489.15 99.99 L488.28 99.94 L487.41 99.9 L486.54 99.86 L485.66 99.82 L484.79 99.78 L483.92 99.74 L483.05 99.71 L482.17 99.67 L481.3 99.64 L480.43 99.61 L479.55 99.57 L478.68 99.54 L477.81 99.51 L476.94 99.48 L476.06 99.45 L475.19 99.42 L474.32 99.4 L473.45 99.37 L472.57 99.34 L471.7 99.31 L470.83 99.29 L469.95 99.26 L469.08 99.24 L468.21 99.21 L467.34 99.19 L466.46 99.16 L465.59 99.14 L464.72 99.11 L463.85 99.09 L462.97 99.07 L462.1 99.05 L461.23 99.02 L460.35 99 L459.48 98.98 L458.61 98.96 L457.74 98.94 L456.86 98.91 L455.99 98.89 L455.12 98.87 L454.25 98.85 L453.37 98.83 L452.5 98.81 L451.63 98.79 L450.75 98.78 L449.88 98.76 L449.01 98.74 L448.14 98.72 L447.26 98.7 L446.39 98.68 L445.52 98.67 L444.65 98.65 L443.77 98.63 L442.9 98.62 L442.03 98.6 L441.15 98.58 L440.28 98.57 L439.41 98.55 L438.54 98.54 L437.66 98.52 L436.79 98.51 L435.92 98.49 L435.05 98.48 L434.17 98.46 L433.3 98.45 L432.43 98.44 L431.55 98.42 L430.68 98.41 L429.81 98.4 L428.94 98.38 L428.06 98.37 L427.19 98.36 L426.32 98.35 L425.45 98.34 L424.57 98.33 L423.7 98.31 L422.83 98.3 L421.95 98.29 L421.08 98.28 L420.21 98.27 L419.34 98.26 L418.46 98.25 L417.59 98.24 L416.72 98.23 L415.85 98.23 L414.97 98.22 L414.1 98.21 L413.23 98.2 L412.35 98.19 L411.48 98.18 L410.61 98.18 L409.74 98.17 L408.86 98.16 L407.99 98.16 L407.12 98.15 L406.25 98.14 L405.37 98.14 L404.5 98.13 L403.63 98.13 L402.75 98.12 L401.88 98.11 L401.01 98.11 L400.14 98.11 L399.26 98.1 L398.39 98.1 L397.52 98.09 L396.65 98.09 L395.77 98.09 L394.9 98.08 L394.03 98.08 L393.15 98.08 L392.28 98.07 L391.41 98.07 L390.54 98.07 L389.66 98.07 L388.79 98.07 L387.92 98.06 L387.05 98.06 L386.17 98.06 L385.3 98.06" stroke="#8000ff"/>
<path d="M385.3 92.8 L386.17 92.8 L387.05 92.8 L387.92 92.8 L388.79 92.8 L389.66 92.8 L390.54 92.8 L391.41 92.8 L392.28 92.8 L393.15 92.8 L394.03 92.8 L394.9 92.8 L395.77 92.8 L396.65 92.8 L397.52 92.8 L398.39 92.8 L399.26 92.8 L400.14 92.8 L401.01 92.8 L401.88 92.79 L402.75 92.79 L403.63 92.79 L404.5 92.79 L405.37 92.79 L406.25 92.78 L407.12 92.78 L407.99 92.78 L408.86 92.77 L409.74 92.77 L410.61 92.76 L411.48 92.75 L412.35 92.74 L413.23 92.73 L414.1 92.72 L414.97 92.7 L415.85 92.68 L416.72 92.66 L417.59 92.63 L418.46 92.61 L419.34 92.57 L420.21 92.53 L421.08 92.49 L421.95 92.44 L422.83 92.38 L423.7 92.31 L424.57 92.24 L425.45 92.15 L426.32 92.06 L427.19 91.95 L428.06 91.83 L428.94 91.69 L429.81 91.54 L430.68 91.37 L431.55 91.18 L432.43 90.98 L433.3 90.75 L434.17 90.5 L435.05 90.23 L435.92 89.93 L436.79 89.6 L437.66 89.25 L438.54 88.86 L439.41 88.45 L440.28 88.01 L441.15 87.53 L442.03 87.02 L442.9 86.48 L443.77 85.91 L444.65 85.31 L445.52 84.67 L446.39 84 L447.26 83.31 L448.14 82.58 L449.01 81.82 L449.88 81.04 L450.75 80.24 L451.63 79.42 L452.5 78.58 L453.37 77.73 L454.25 76.87 L455.12 76 L455.99 75.13 L456.86 74.26 L457.74 73.4 L458.61 72.56 L459.48 71.73 L460.35 70.92 L461.23 70.15 L462.1 69.4 L462.97 68.7 L463.85 68.03 L464.72 67.42 L465.59 66.85 L466.46 66.34 L467.34 65.89 L468.21 65.51 L469.08 65.19 L469.95 64.93 L470.83 64.75 L471.7 64.64 L472.57 64.6 L473.45 64.63 L474.32 64.73 L475.19 64.91 L476.06 65.15 L476.94 65.46 L477.81 65.83 L478.68 66.26 L479.55 66.75 L480.43 67.29 L481.3 67.88 L482.17 68.52 L483.05 69.19 L483.92 69.89 L484.79 70.62 L485.66 71.37 L486.54 72.14 L487.41 72.91 L488.28 73.69 L489.15 74.47 L490.03 75.24 L490.9 75.99 L491.77 76.73 L492.65 77.44 L493.52 78.12 L494.39 78.77 L495.26 79.38 L496.14 79.96 L497.01 80.48 L497.88 80.96 L498.75 81.39 L499.63 81.77 L500.5 82.09 L501.37 82.36 L502.25 82.57 L503.12 82.73 L503.99 82.82 L504.86 82.86 L505.74 82.84 L506.61 82.77 L507.48 82.64 L508.35 82.46 L509.23 82.23 L510.1 81.96 L510.97 81.63 L511.85 81.27 L512.72 80.87 L513.59 80.43 L514.46 79.96 L515.34 79.46 L516.21 78.95 L517.08 78.41 L517.95 77.86 L518.83 77.3 L519.7 76.74 L520.57 76.19 L521.45 75.63 L522.32 75.09 L523.19 74.57 L524.06 74.06 L524.94 73.59 L525.81 73.14 L526.68 72.72 L527.55 72.35 L528.43 72.01 L529.3 71.72 L530.17 71.47 L531.05 71.28 L531.92 71.13 L532.79 71.04 L533.66 71 L534.54 71.02 L535.41 71.08 L536.28 71.21 L537.15 71.38 L538.03 71.6 L538.9 71.88 L539.77 72.2 L540.65 72.56 L541.52 72.97 L542.39 73.41 L543.26 73.88 L544.14 74.39 L545.01 74.92 L545.88 75.47 L546.75 76.04 L547.63 76.62 L548.5 77.21 L549.37 77.8 L550.25 78.39 L551.12 78.97 L551.99 79.54 L552.86 80.1 L553.74 80.64 L554.61 81.16 L555.48 81.65 L556.35 82.12 L557.23 82.55 L558.1 82.95 L558.97 83.31 L559.85 83.63 L560.72 83.91 L561.59 84.15 L562.46 84.35 L563.34 84.5 L564.21 84.61 L565.08 84.67 L565.95 84.69 L566.83 84.67 L567.7 84.6 L568.57 84.5 L569.45 84.35 L570.32 84.16 L571.19 83.94 L572.06 83.69 L572.94 83.4 L573.81 83.09 L574.68 82.75 L575.55 82.39 L576.43 82.01 L577.3 81.62 L578.17 81.21 L579.05 80.8 L579.92 80.38 L580.79 79.96 L581.66 79.55 L582.54 79.15 L583.41 78.75 L584.28 78.38 L585.15 78.02 L586.03 77.68 L586.9 77.37 L587.77 77.09 L588.65 76.84 L589.52 76.62 L590.39 76.44 L591.26 76.29 L592.14 76.19 L593.01 76.12 L593.88 76.1 L594.75 76.32 L595.63 76.63 L596.5 76.95 L597.37 77.29 L598.25 77.65 L599.12 78.01 L599.99 78.39 L600.86 78.79 L601.74 79.19 L602.61 79.6 L603.48 80.02 L604.35 80.45 L605.23 80.89 L606.1 81.35 L606.97 81.83 L607.85 82.33 L608.72 82.84 L609.59 83.38 L610.46 83.93 L611.34 84.49 L612.21 85.08 L613.08 85.73 L613.95 86.44 L614.83 87.15 L615.7 87.83 L616.57 88.42 L617.45 88.93 L618.32 89.42 L619.19 89.88 L620.06 90.31 L620.94 90.72 L621.81 91.11 L622.68 91.48 L623.55 91.83 L624.43 92.16 L625.3 92.45 L626.17 92.71 L627.05 92.95 L627.92 93.18 L628.79 93.43 L629.66 93.7 L630.54 94.01 L631.41 94.33 L632.28 94.65 L633.15 94.97 L634.03 95.31 L634.9 95.65 L635.77 96.02 L636.65 96.4 L637.52 96.8 L638.39 97.22 L639.26 97.67 L640.14 98.15 L641.01 98.66 L641.88 99.21 L642.75 99.79 L643.63 100.42 L644.5 101.08 L645.37 101.81 L646.25 102.68 L647.12 103.7 L647.99 104.86 L648.86 106.17 L649.74 107.61 L650.61 109.19 L651.48 110.91 L652.35 112.75 L653.23 114.72 L654.1 116.82 L654.97 119.24 L655.85 122.34 L656.72 125.94 L657.59 129.84 L658.46 133.86 L659.34 138.1 L660.21 142.74 L661.08 147.62 L661.95 152.59 L662.83 157.69 L663.7 163 L662.83 159.69 L661.95 156.58 L661.08 153.72 L660.21 151.16 L659.34 148.92 L658.46 147.05 L657.59 145.55 L656.72 144.24 L655.85 143.1 L654.97 142.1 L654.1 141.2 L653.23 140.4 L652.35 139.64 L651.48 138.91 L650.61 138.23 L649.74 137.59 L648.86 137.02 L647.99 136.51 L647.12 136.08 L646.25 135.74 L645.37 135.44 L644.5 135.15 L643.63 134.87 L642.75 134.6 L641.88 134.34 L641.01 134.1 L640.14 133.87 L639.26 133.66 L638.39 133.47 L637.52 133.31 L636.65 133.17 L635.77 133.06 L634.9 132.97 L634.03 132.92 L633.15 132.9 L632.28 132.91 L631.41 132.96 L630.54 133.03 L629.66 133.13 L628.79 133.26 L627.92 133.41 L627.05 133.59 L626.17 133.8 L625.3 134.02 L624.43 134.26 L623.55 134.51 L622.68 134.78 L621.81 135.05 L620.94 135.33 L620.06 135.6 L619.19 135.88 L618.32 136.15 L617.45 136.42 L616.57 136.67 L615.7 136.91 L614.83 137.13 L613.95 137.33 L613.08 137.5 L612.21 137.66 L611.34 137.78 L610.46 137.88 L609.59 137.95 L608.72 137.99 L607.85 137.99 L606.97 137.9 L606.1 137.74 L605.23 137.51 L604.35 137.21 L603.48 136.84 L602.61 136.41 L601.74 135.93 L600.86 135.39 L599.99 134.8 L599.12 134.16 L598.25 133.49 L597.37 132.78 L596.5 132.04 L595.63 131.27 L594.75 130.49 L593.88 129.69 L593.01 128.89 L592.14 128.09 L591.26 127.28 L590.39 126.49 L589.52 125.71 L588.65 124.95 L587.77 124.21 L586.9 123.49 L586.03 122.81 L585.15 122.16 L584.28 121.54 L583.41 120.97 L582.54 120.43 L581.66 119.95 L580.79 119.5 L579.92 119.11 L579.05 118.76 L578.17 118.46 L577.3 118.21 L576.43 118.01 L575.55 117.85 L574.68 117.75 L573.81 117.69 L572.94 117.67 L572.06 117.7 L571.19 117.76 L570.32 117.86 L569.45 118 L568.57 118.17 L567.7 118.37 L566.83 118.59 L565.95 118.83 L565.08 119.1 L564.21 119.37 L563.34 119.66 L562.46 119.95 L561.59 120.24 L560.72 120.53 L559.85 120.82 L558.97 121.09 L558.1 121.35 L557.23 121.6 L556.35 121.82 L555.48 122.02 L554.61 122.19 L553.74 122.33 L552.86 122.43 L551.99 122.51 L551.12 122.54 L550.25 122.54 L549.37 122.5 L548.5 122.42 L547.63 122.3 L546.75 122.14 L545.88 121.95 L545.01 121.71 L544.14 121.45 L543.26 121.15 L542.39 120.82 L541.52 120.47 L540.65 120.09 L539.77 119.69 L538.9 119.27 L538.03 118.84 L537.15 118.4 L536.28 117.95 L535.41 117.5 L534.54 117.04 L533.66 116.6 L532.79 116.16 L531.92 115.73 L531.05 115.32 L530.17 114.93 L529.3 114.56 L528.43 114.21 L527.55 113.89 L526.68 113.61 L525.81 113.35 L524.94 113.13 L524.06 112.95 L523.19 112.81 L522.32 112.71 L521.45 112.66 L520.57 112.64 L519.7 112.67 L518.83 112.75 L517.95 112.87 L517.08 113.03 L516.21 113.24 L515.34 113.5 L514.46 113.79 L513.59 114.13 L512.72 114.5 L511.85 114.91 L510.97 115.36 L510.1 115.84 L509.23 116.35 L508.35 116.88 L507.48 117.44 L506.61 118.01 L505.74 118.6 L504.86 119.2 L503.99 119.81 L503.12 120.42 L502.25 121.02 L501.37 121.62 L500.5 122.21 L499.63 122.79 L498.75 123.34 L497.88 123.86 L497.01 124.36 L496.14 124.82 L495.26 125.24 L494.39 125.62 L493.52 125.96 L492.65 126.24 L491.77 126.47 L490.9 126.64 L490.03 126.76 L489.15 126.81 L488.28 126.81 L487.41 126.74 L486.54 126.61 L485.66 126.42 L484.79 126.17 L483.92 125.87 L483.05 125.5 L482.17 125.09 L481.3 124.62 L480.43 124.1 L479.55 123.55 L478.68 122.95 L477.81 122.31 L476.94 121.64 L476.06 120.94 L475.19 120.22 L474.32 119.48 L473.45 118.72 L472.57 117.94 L471.7 117.16 L470.83 116.38 L469.95 115.59 L469.08 114.8 L468.21 114.02 L467.34 113.25 L466.46 112.49 L465.59 111.74 L464.72 111.01 L463.85 110.29 L462.97 109.59 L462.1 108.92 L461.23 108.27 L460.35 107.64 L459.48 107.04 L458.61 106.46 L457.74 105.91 L456.86 105.38 L455.99 104.88 L455.12 104.41 L454.25 103.96 L453.37 103.54 L452.5 103.14 L451.63 102.77 L450.75 102.42 L449.88 102.1 L449.01 101.79 L448.14 101.51 L447.26 101.25 L446.39 101.01 L445.52 100.78 L444.65 100.58 L443.77 100.38 L442.9 100.21 L442.03 100.05 L441.15 99.9 L440.28 99.76 L439.41 99.64 L438.54 99.52 L437.66 99.42 L436.79 99.32 L435.92 99.24 L435.05 99.16 L434.17 99.08 L433.3 99.02 L432.43 98.96 L431.55 98.9 L430.68 98.85 L429.81 98.8 L428.94 98.76 L428.06 98.72 L427.19 98.68 L426.32 98.65 L425.45 98.61 L424.57 98.58 L423.7 98.56 L422.83 98.53 L421.95 98.51 L421.08 98.48 L420.21 98.46 L419.34 98.44 L418.46 98.42 L417.59 98.4 L416.72 98.39 L415.85 98.37 L414.97 98.35 L414.1 98.34 L413.23 98.32 L412.35 98.31 L411.48 98.3 L410.61 98.28 L409.74 98.27 L408.86 98.26 L407.99 98.25 L407.12 98.24 L406.25 98.22 L405.37 98.21 L404.5 98.2 L403.63 98.2 L402.75 98.19 L401.88 98.18 L401.01 98.17 L400.14 98.16 L399.26 98.15 L398.39 98.15 L397.52 98.14 L396.65 98.13 L395.77 98.13 L394.9 98.12 L394.03 98.11 L393.15 98.11 L392.28 98.1 L391.41 98.1 L390.54 98.1 L389.66 98.09 L388.79 98.09 L387.92 98.08 L387.05 98.08 L386.17 98.08 L385.3 98.08" stroke="#ff8000"/>
<path d="M385.3 92.6 L386.17 92.6 L387.05 92.6 L387.92 92.6 L388.79 92.6 L389.66 92.6 L390.54 92.6 L391.41 92.6 L392.28 92.6 L393.15 92.6 L394.03 92.6 L394.9 92.6 L395.77 92.6 L396.65 92.6 L397.52 92.6 L398.39 92.6 L399.26 92.6 L400.14 92.6 L401.01 92.6 L401.88 92.59 L402.75 92.59 L403.63 92.59 L404.5 92.59 L405.37 92.59 L406.25 92.58 L407.12 92.58 L407.99 92.58 L408.86 92.57 L409.74 92.57 L410.61 92.56 L411.48 92.55 L412.35 92.54 L413.23 92.53 L414.1 92.52 L414.97 92.51 L415.85 92.49 L416.72 92.47 L417.59 92.44 L418.46 92.42 L419.34 92.38 L420.21 92.35 L421.08 92.31 L421.95 92.26 L422.83 92.2 L423.7 92.14 L424.57 92.07 L425.45 91.99 L426.32 91.9 L427.19 91.8 L428.06 91.68 L428.94 91.55 L429.81 91.41 L430.68 91.25 L431.55 91.08 L432.43 90.88 L433.3 90.67 L434.17 90.43 L435.05 90.17 L435.92 89.89 L436.79 89.58 L437.66 89.25 L438.54 88.89 L439.41 88.5 L440.28 88.08 L441.15 87.63 L442.03 87.15 L442.9 86.64 L443.77 86.1 L444.65 85.53 L445.52 84.93 L446.39 84.3 L447.26 83.64 L448.14 82.96 L449.01 82.25 L449.88 81.51 L450.75 80.76 L451.63 79.98 L452.5 79.19 L453.37 78.38 L454.25 77.57 L455.12 76.75 L455.99 75.93 L456.86 75.11 L457.74 74.3 L458.61 73.51 L459.48 72.73 L460.35 71.97 L461.23 71.23 L462.1 70.53 L462.97 69.86 L463.85 69.24 L464.72 68.66 L465.59 68.12 L466.46 67.64 L467.34 67.22 L468.21 66.86 L469.08 66.55 L469.95 66.32 L470.83 66.14 L471.7 66.04 L472.57 66 L473.45 66.03 L474.32 66.13 L475.19 66.29 L476.06 66.52 L476.94 66.81 L477.81 67.16 L478.68 67.57 L479.55 68.03 L480.43 68.54 L481.3 69.1 L482.17 69.69 L483.05 70.33 L483.92 70.99 L484.79 71.68 L485.66 72.39 L486.54 73.11 L487.41 73.84 L488.28 74.57 L489.15 75.31 L490.03 76.03 L490.9 76.74 L491.77 77.44 L492.65 78.11 L493.52 78.75 L494.39 79.37 L495.26 79.94 L496.14 80.48 L497.01 80.98 L497.88 81.43 L498.75 81.84 L499.63 82.19 L500.5 82.5 L501.37 82.75 L502.25 82.95 L503.12 83.09 L503.99 83.19 L504.86 83.22 L505.74 83.21 L506.61 83.14 L507.48 83.02 L508.35 82.85 L509.23 82.63 L510.1 82.37 L510.97 82.06 L511.85 81.72 L512.72 81.34 L513.59 80.92 L514.46 80.48 L515.34 80.01 L516.21 79.52 L517.08 79.02 L517.95 78.5 L518.83 77.97 L519.7 77.44 L520.57 76.92 L521.45 76.4 L522.32 75.88 L523.19 75.39 L524.06 74.91 L524.94 74.46 L525.81 74.04 L526.68 73.64 L527.55 73.29 L528.43 72.97 L529.3 72.69 L530.17 72.46 L531.05 72.27 L531.92 72.13 L532.79 72.04 L533.66 72 L534.54 72.01 L535.41 72.07 L536.28 72.18 L537.15 72.34 L538.03 72.54 L538.9 72.79 L539.77 73.08 L540.65 73.41 L541.52 73.78 L542.39 74.18 L543.26 74.61 L544.14 75.06 L545.01 75.54 L545.88 76.03 L546.75 76.53 L547.63 77.04 L548.5 77.56 L549.37 78.07 L550.25 78.57 L551.12 79.06 L551.99 79.54 L552.86 80 L553.74 80.43 L554.61 80.83 L555.48 81.2 L556.35 81.53 L557.23 81.82 L558.1 82.07 L558.97 82.28 L559.85 82.43 L560.72 82.54 L561.59 82.59 L562.46 82.59 L563.34 82.54 L564.21 82.43 L565.08 82.27 L565.95 82.06 L566.83 81.78 L567.7 81.46 L568.57 81.09 L569.45 80.66 L570.32 80.19 L571.19 79.68 L572.06 79.13 L572.94 78.53 L573.81 77.91 L574.68 77.25 L575.55 76.57 L576.43 75.87 L577.3 75.15 L578.17 74.43 L579.05 73.7 L579.92 72.97 L580.79 72.25 L581.66 71.53 L582.54 70.84 L583.41 70.17 L584.28 69.53 L585.15 68.93 L586.03 68.36 L586.9 67.84 L587.77 67.36 L588.65 66.94 L589.52 66.58 L590.39 66.27 L591.26 66.03 L592.14 65.85 L593.01 65.74 L593.88 65.7 L594.75 66.05 L595.63 66.54 L596.5 67.05 L597.37 67.59 L598.25 68.16 L599.12 68.74 L599.99 69.34 L600.86 69.96 L601.74 70.6 L602.61 71.26 L603.48 71.93 L604.35 72.61 L605.23 73.31 L606.1 74.03 L606.97 74.79 L607.85 75.58 L608.72 76.4 L609.59 77.25 L610.46 78.13 L611.34 79.03 L612.21 79.95 L613.08 80.99 L613.95 82.11 L614.83 83.25 L615.7 84.32 L616.57 85.27 L617.45 86.07 L618.32 86.84 L619.19 87.57 L620.06 88.26 L620.94 88.92 L621.81 89.54 L622.68 90.12 L623.55 90.67 L624.43 91.19 L625.3 91.67 L626.17 92.1 L627.05 92.49 L627.92 92.88 L628.79 93.26 L629.66 93.66 L630.54 94.09 L631.41 94.49 L632.28 94.88 L633.15 95.26 L634.03 95.63 L634.9 96 L635.77 96.37 L636.65 96.75 L637.52 97.15 L638.39 97.56 L639.26 98 L640.14 98.46 L641.01 98.96 L641.88 99.5 L642.75 100.08 L643.63 100.72 L644.5 101.4 L645.37 102.16 L646.25 103.07 L647.12 104.13 L647.99 105.34 L648.86 106.7 L649.74 108.21 L650.61 109.86 L651.48 111.65 L652.35 113.57 L653.23 115.63 L654.1 117.82 L654.97 120.34 L655.85 123.57 L656.72 127.33 L657.59 131.41 L658.46 135.6 L659.34 140.03 L660.21 144.86 L661.08 149.95 L661.95 155.14 L662.83 160.46 L663.7 166 L662.83 162.47 L661.95 159.15 L661.08 156.11 L660.21 153.37 L659.34 150.98 L658.46 148.99 L657.59 147.39 L656.72 146 L655.85 144.78 L654.97 143.71 L654.1 142.75 L653.23 141.89 L652.35 141.09 L651.48 140.31 L650.61 139.59 L649.74 138.91 L648.86 138.3 L647.99 137.76 L647.12 137.3 L646.25 136.93 L645.37 136.61 L644.5 136.29 L643.63 135.98 L642.75 135.69 L641.88 135.4 L641.01 135.14 L640.14 134.89 L639.26 134.67 L638.39 134.47 L637.52 134.3 L636.65 134.15 L635.77 134.04 L634.9 133.95 L634.03 133.91 L633.15 133.9 L632.28 133.94 L631.41 134.04 L630.54 134.18 L629.66 134.37 L628.79 134.61 L627.92 134.89 L627.05 135.21 L626.17 135.57 L625.3 135.96 L624.43 136.38 L623.55 136.82 L622.68 137.28 L621.81 137.75 L620.94 138.23 L620.06 138.71 L619.19 139.19 L618.32 139.65 L617.45 140.1 L616.57 140.53 L615.7 140.94 L614.83 141.31 L613.95 141.65 L613.08 141.96 L612.21 142.22 L611.34 142.43 L610.46 142.6 L609.59 142.72 L608.72 142.78 L607.85 142.79 L606.97 142.69 L606.1 142.5 L605.23 142.24 L604.35 141.89 L603.48 141.48 L602.61 140.99 L601.74 140.44 L600.86 139.82 L599.99 139.14 L599.12 138.42 L598.25 137.64 L597.37 136.83 L596.5 135.98 L595.63 135.11 L594.75 134.21 L593.88 133.29 L593.01 132.37 L592.14 131.44 L591.26 130.51 L590.39 129.59 L589.52 128.68 L588.65 127.79 L587.77 126.93 L586.9 126.09 L586.03 125.28 L585.15 124.51 L584.28 123.77 L583.41 123.08 L582.54 122.43 L581.66 121.83 L580.79 121.28 L579.92 120.78 L579.05 120.33 L578.17 119.94 L577.3 119.59 L576.43 119.3 L575.55 119.06 L574.68 118.87 L573.81 118.73 L572.94 118.64 L572.06 118.6 L571.19 118.59 L570.32 118.63 L569.45 118.71 L568.57 118.82 L567.7 118.96 L566.83 119.13 L565.95 119.33 L565.08 119.55 L564.21 119.78 L563.34 120.02 L562.46 120.28 L561.59 120.53 L560.72 120.79 L559.85 121.05 L558.97 121.29 L558.1 121.53 L557.23 121.74 L556.35 121.94 L555.48 122.12 L554.61 122.27 L553.74 122.39 L552.86 122.48 L551.99 122.54 L551.12 122.56 L550.25 122.55 L549.37 122.5 L548.5 122.41 L547.63 122.28 L546.75 122.12 L545.88 121.92 L545.01 121.68 L544.14 121.41 L543.26 121.11 L542.39 120.78 L541.52 120.42 L540.65 120.04 L539.77 119.64 L538.9 119.23 L538.03 118.8 L537.15 118.35 L536.28 117.91 L535.41 117.46 L534.54 117.01 L533.66 116.56 L532.79 116.12 L531.92 115.69 L531.05 115.28 L530.17 114.89 L529.3 114.52 L528.43 114.17 L527.55 113.85 L526.68 113.56 L525.81 113.3 L524.94 113.08 L524.06 112.89 L523.19 112.74 L522.32 112.63 L521.45 112.57 L520.57 112.54 L519.7 112.56 L518.83 112.62 L517.95 112.73 L517.08 112.88 L516.21 113.07 L515.34 113.31 L514.46 113.58 L513.59 113.9 L512.72 114.25 L511.85 114.65 L510.97 115.07 L510.1 115.53 L509.23 116.01 L508.35 116.52 L507.48 117.05 L506.61 117.6 L505.74 118.16 L504.86 118.74 L503.99 119.32 L503.12 119.9 L502.25 120.49 L501.37 121.06 L500.5 121.63 L499.63 122.17 L498.75 122.7 L497.88 123.21 L497.01 123.68 L496.14 124.12 L495.26 124.53 L494.39 124.89 L493.52 125.21 L492.65 125.48 L491.77 125.7 L490.9 125.86 L490.03 125.97 L489.15 126.02 L488.28 126.01 L487.41 125.94 L486.54 125.81 L485.66 125.62 L484.79 125.38 L483.92 125.08 L483.05 124.72 L482.17 124.32 L481.3 123.86 L480.43 123.36 L479.55 122.81 L478.68 122.23 L477.81 121.61 L476.94 120.96 L476.06 120.28 L475.19 119.58 L474.32 118.85 L473.45 118.12 L472.57 117.36 L471.7 116.61 L470.83 115.84 L469.95 115.08 L469.08 114.31 L468.21 113.55 L467.34 112.8 L466.46 112.06 L465.59 111.33 L464.72 110.62 L463.85 109.93 L462.97 109.25 L462.1 108.6 L461.23 107.96 L460.35 107.35 L459.48 106.77 L458.61 106.2 L457.74 105.67 L456.86 105.15 L455.99 104.67 L455.12 104.21 L454.25 103.77 L453.37 103.36 L452.5 102.98 L451.63 102.61 L450.75 102.27 L449.88 101.96 L449.01 101.66 L448.14 101.38 L447.26 101.13 L446.39 100.89 L445.52 100.67 L444.65 100.47 L443.77 100.28 L442.9 100.11 L442.03 99.95 L441.15 99.81 L440.28 99.67 L439.41 99.55 L438.54 99.44 L437.66 99.34 L436.79 99.24 L435.92 99.15 L435.05 99.08 L434.17 99 L433.3 98.94 L432.43 98.88 L431.55 98.82 L430.68 98.77 L429.81 98.72 L428.94 98.68 L428.06 98.64 L427.19 98.6 L426.32 98.56 L425.45 98.53 L424.57 98.5 L423.7 98.47 L422.83 98.45 L421.95 98.42 L421.08 98.4 L420.21 98.37 L419.34 98.35 L418.46 98.33 L417.59 98.31 L416.72 98.3 L415.85 98.28 L414.97 98.26 L414.1 98.25 L413.23 98.23 L412.35 98.22 L411.48 98.2 L410.61 98.19 L409.74 98.18 L408.86 98.16 L407.99 98.15 L407.12 98.14 L406.25 98.13 L405.37 98.12 L404.5 98.11 L403.63 98.1 L402.75 98.09 L401.88 98.08 L401.01 98.07 L400.14 98.06 L399.26 98.06 L398.39 98.05 L397.52 98.04 L396.65 98.03 L395.77 98.03 L394.9 98.02 L394.03 98.02 L393.15 98.01 L392.28 98 L391.41 98 L390.54 98 L389.66 97.99 L388.79 97.99 L387.92 97.98 L387.05 97.98 L386.17 97.98 L385.3 97.97" stroke="#ff0000"/>
<path d="M385.3 92.4 L386.17 92.4 L387.05 92.4 L387.92 92.4 L388.79 92.4 L389.66 92.4 L390.54 92.4 L391.41 92.4 L392.28 92.4 L393.15 92.4 L394.03 92.4 L394.9 92.4 L395.77 92.4 L396.65 92.4 L397.52 92.4 L398.39 92.4 L399.26 92.4 L400.14 92.4 L401.01 92.4 L401.88 92.39 L402.75 92.39 L403.63 92.39 L404.5 92.39 L405.37 92.39 L406.25 92.39 L407.12 92.38 L407.99 92.38 L408.86 92.37 L409.74 92.37 L410.61 92.36 L411.48 92.36 L412.35 92.35 L413.23 92.34 L414.1 92.32 L414.97 92.31 L415.85 92.29 L416.72 92.27 L417.59 92.25 L418.46 92.23 L419.34 92.2 L420.21 92.16 L421.08 92.12 L421.95 92.08 L422.83 92.02 L423.7 91.96 L424.57 91.9 L425.45 91.82 L426.32 91.73 L427.19 91.64 L428.06 91.53 L428.94 91.41 L429.81 91.27 L430.68 91.12 L431.55 90.95 L432.43 90.77 L433.3 90.56 L434.17 90.34 L435.05 90.09 L435.92 89.82 L436.79 89.53 L437.66 89.22 L438.54 88.87 L439.41 88.5 L440.28 88.11 L441.15 87.68 L442.03 87.23 L442.9 86.74 L443.77 86.23 L444.65 85.69 L445.52 85.12 L446.39 84.52 L447.26 83.89 L448.14 83.24 L449.01 82.57 L449.88 81.87 L450.75 81.15 L451.63 80.41 L452.5 79.66 L453.37 78.9 L454.25 78.12 L455.12 77.35 L455.99 76.57 L456.86 75.79 L457.74 75.02 L458.61 74.26 L459.48 73.52 L460.35 72.8 L461.23 72.1 L462.1 71.43 L462.97 70.8 L463.85 70.2 L464.72 69.65 L465.59 69.14 L466.46 68.69 L467.34 68.28 L468.21 67.93 L469.08 67.64 L469.95 67.41 L470.83 67.25 L471.7 67.14 L472.57 67.1 L473.45 67.12 L474.32 67.21 L475.19 67.35 L476.06 67.56 L476.94 67.82 L477.81 68.14 L478.68 68.51 L479.55 68.93 L480.43 69.39 L481.3 69.89 L482.17 70.43 L483.05 71 L483.92 71.59 L484.79 72.19 L485.66 72.82 L486.54 73.44 L487.41 74.07 L488.28 74.69 L489.15 75.31 L490.03 75.9 L490.9 76.47 L491.77 77.01 L492.65 77.52 L493.52 77.99 L494.39 78.41 L495.26 78.79 L496.14 79.11 L497.01 79.37 L497.88 79.58 L498.75 79.71 L499.63 79.79 L500.5 79.79 L501.37 79.72 L502.25 79.57 L503.12 79.35 L503.99 79.06 L504.86 78.69 L505.74 78.25 L506.61 77.74 L507.48 77.15 L508.35 76.5 L509.23 75.78 L510.1 75 L510.97 74.16 L511.85 73.26 L512.72 72.32 L513.59 71.33 L514.46 70.3 L515.34 69.24 L516.21 68.16 L517.08 67.05 L517.95 65.94 L518.83 64.83 L519.7 63.72 L520.57 62.62 L521.45 61.54 L522.32 60.49 L523.19 59.48 L524.06 58.52 L524.94 57.61 L525.81 56.75 L526.68 55.97 L527.55 55.25 L528.43 54.62 L529.3 54.07 L530.17 53.61 L531.05 53.23 L531.92 52.96 L532.79 52.78 L533.66 52.7 L534.54 52.73 L535.41 52.85 L536.28 53.07 L537.15 53.38 L538.03 53.79 L538.9 54.29 L539.77 54.88 L540.65 55.54 L541.52 56.29 L542.39 57.1 L543.26 57.97 L544.14 58.9 L545.01 59.88 L545.88 60.9 L546.75 61.95 L547.63 63.02 L548.5 64.11 L549.37 65.21 L550.25 66.31 L551.12 67.4 L551.99 68.48 L552.86 69.53 L553.74 70.55 L554.61 71.54 L555.48 72.48 L556.35 73.38 L557.23 74.22 L558.1 75 L558.97 75.72 L559.85 76.38 L560.72 76.97 L561.59 77.48 L562.46 77.93 L563.34 78.3 L564.21 78.59 L565.08 78.81 L565.95 78.96 L566.83 79.03 L567.7 79.03 L568.57 78.96 L569.45 78.82 L570.32 78.62 L571.19 78.36 L572.06 78.04 L572.94 77.67 L573.81 77.25 L574.68 76.79 L575.55 76.29 L576.43 75.75 L577.3 75.19 L578.17 74.61 L579.05 74.02 L579.92 73.41 L580.79 72.81 L581.66 72.2 L582.54 71.61 L583.41 71.03 L584.28 70.47 L585.15 69.94 L586.03 69.44 L586.9 68.98 L587.77 68.56 L588.65 68.19 L589.52 67.86 L590.39 67.59 L591.26 67.38 L592.14 67.22 L593.01 67.13 L593.88 67.1 L594.75 67.43 L595.63 67.9 L596.5 68.39 L597.37 68.9 L598.25 69.43 L599.12 69.99 L599.99 70.56 L600.86 71.15 L601.74 71.76 L602.61 72.38 L603.48 73.02 L604.35 73.67 L605.23 74.33 L606.1 75.02 L606.97 75.74 L607.85 76.49 L608.72 77.27 L609.59 78.08 L610.46 78.91 L611.34 79.76 L612.21 80.64 L613.08 81.63 L613.95 82.69 L614.83 83.77 L615.7 84.8 L616.57 85.69 L617.45 86.46 L618.32 87.19 L619.19 87.88 L620.06 88.54 L620.94 89.16 L621.81 89.75 L622.68 90.31 L623.55 90.83 L624.43 91.32 L625.3 91.77 L626.17 92.18 L627.05 92.55 L627.92 92.91 L628.79 93.28 L629.66 93.67 L630.54 94.08 L631.41 94.48 L632.28 94.87 L633.15 95.25 L634.03 95.63 L634.9 96 L635.77 96.39 L636.65 96.78 L637.52 97.19 L638.39 97.62 L639.26 98.08 L640.14 98.57 L641.01 99.09 L641.88 99.65 L642.75 100.25 L643.63 100.9 L644.5 101.61 L645.37 102.39 L646.25 103.32 L647.12 104.41 L647.99 105.66 L648.86 107.06 L649.74 108.61 L650.61 110.3 L651.48 112.14 L652.35 114.12 L653.23 116.24 L654.1 118.48 L654.97 121.08 L655.85 124.4 L656.72 128.26 L657.59 132.45 L658.46 136.76 L659.34 141.31 L660.21 146.28 L661.08 151.51 L661.95 156.84 L662.83 162.31 L663.7 168 L662.83 164.48 L661.95 161.18 L661.08 158.14 L660.21 155.41 L659.34 153.03 L658.46 151.04 L657.59 149.44 L656.72 148.06 L655.85 146.85 L654.97 145.78 L654.1 144.83 L653.23 143.97 L652.35 143.17 L651.48 142.41 L650.61 141.7 L649.74 141.04 L648.86 140.44 L647.99 139.9 L647.12 139.42 L646.25 139.02 L645.37 138.65 L644.5 138.29 L643.63 137.93 L642.75 137.6 L641.88 137.28 L641.01 136.99 L640.14 136.73 L639.26 136.5 L638.39 136.31 L637.52 136.16 L636.65 136.05 L635.77 136 L634.9 136.03 L634.03 136.12 L633.15 136.25 L632.28 136.44 L631.41 136.68 L630.54 136.96 L629.66 137.29 L628.79 137.66 L627.92 138.06 L627.05 138.5 L626.17 138.97 L625.3 139.46 L624.43 139.98 L623.55 140.5 L622.68 141.04 L621.81 141.58 L620.94 142.12 L620.06 142.66 L619.19 143.18 L618.32 143.69 L617.45 144.17 L616.57 144.63 L615.7 145.06 L614.83 145.46 L613.95 145.81 L613.08 146.13 L612.21 146.4 L611.34 146.62 L610.46 146.79 L609.59 146.91 L608.72 146.98 L607.85 146.99 L606.97 146.9 L606.1 146.72 L605.23 146.46 L604.35 146.12 L603.48 145.69 L602.61 145.2 L601.74 144.63 L600.86 144.01 L599.99 143.32 L599.12 142.58 L598.25 141.8 L597.37 140.98 L596.5 140.13 L595.63 139.25 L594.75 138.36 L593.88 137.46 L593.01 136.56 L592.14 135.67 L591.26 134.78 L590.39 133.92 L589.52 133.08 L588.65 132.27 L587.77 131.51 L586.9 130.78 L586.03 130.1 L585.15 129.48 L584.28 128.92 L583.41 128.41 L582.54 127.97 L581.66 127.6 L580.79 127.3 L579.92 127.07 L579.05 126.91 L578.17 126.83 L577.3 126.82 L576.43 126.88 L575.55 127.01 L574.68 127.21 L573.81 127.48 L572.94 127.81 L572.06 128.21 L571.19 128.66 L570.32 129.17 L569.45 129.72 L568.57 130.32 L567.7 130.95 L566.83 131.62 L565.95 132.31 L565.08 133.02 L564.21 133.75 L563.34 134.48 L562.46 135.2 L561.59 135.92 L560.72 136.63 L559.85 137.31 L558.97 137.96 L558.1 138.58 L557.23 139.15 L556.35 139.68 L555.48 140.15 L554.61 140.56 L553.74 140.9 L552.86 141.17 L551.99 141.37 L551.12 141.49 L550.25 141.54 L549.37 141.5 L548.5 141.38 L547.63 141.18 L546.75 140.9 L545.88 140.53 L545.01 140.1 L544.14 139.59 L543.26 139.01 L542.39 138.37 L541.52 137.66 L540.65 136.9 L539.77 136.1 L538.9 135.25 L538.03 134.36 L537.15 133.45 L536.28 132.51 L535.41 131.55 L534.54 130.58 L533.66 129.61 L532.79 128.64 L531.92 127.68 L531.05 126.73 L530.17 125.8 L529.3 124.9 L528.43 124.02 L527.55 123.18 L526.68 122.38 L525.81 121.62 L524.94 120.9 L524.06 120.24 L523.19 119.63 L522.32 119.08 L521.45 118.58 L520.57 118.14 L519.7 117.76 L518.83 117.44 L517.95 117.19 L517.08 116.99 L516.21 116.86 L515.34 116.78 L514.46 116.77 L513.59 116.8 L512.72 116.9 L511.85 117.04 L510.97 117.24 L510.1 117.48 L509.23 117.76 L508.35 118.08 L507.48 118.44 L506.61 118.83 L505.74 119.24 L504.86 119.68 L503.99 120.13 L503.12 120.6 L502.25 121.07 L501.37 121.54 L500.5 122.01 L499.63 122.48 L498.75 122.93 L497.88 123.36 L497.01 123.77 L496.14 124.15 L495.26 124.5 L494.39 124.81 L493.52 125.09 L492.65 125.32 L491.77 125.5 L490.9 125.63 L490.03 125.71 L489.15 125.74 L488.28 125.71 L487.41 125.63 L486.54 125.48 L485.66 125.29 L484.79 125.03 L483.92 124.73 L483.05 124.37 L482.17 123.96 L481.3 123.5 L480.43 123 L479.55 122.46 L478.68 121.88 L477.81 121.27 L476.94 120.63 L476.06 119.96 L475.19 119.26 L474.32 118.55 L473.45 117.82 L472.57 117.08 L471.7 116.34 L470.83 115.59 L469.95 114.83 L469.08 114.08 L468.21 113.34 L467.34 112.6 L466.46 111.87 L465.59 111.15 L464.72 110.45 L463.85 109.77 L462.97 109.11 L462.1 108.46 L461.23 107.84 L460.35 107.24 L459.48 106.66 L458.61 106.11 L457.74 105.58 L456.86 105.08 L455.99 104.6 L455.12 104.15 L454.25 103.72 L453.37 103.31 L452.5 102.93 L451.63 102.57 L450.75 102.24 L449.88 101.93 L449.01 101.63 L448.14 101.36 L447.26 101.11 L446.39 100.87 L445.52 100.66 L444.65 100.46 L443.77 100.27 L442.9 100.1 L442.03 99.94 L441.15 99.8 L440.28 99.66 L439.41 99.54 L438.54 99.43 L437.66 99.32 L436.79 99.23 L435.92 99.14 L435.05 99.06 L434.17 98.99 L433.3 98.92 L432.43 98.86 L431.55 98.8 L430.68 98.75 L429.81 98.7 L428.94 98.66 L428.06 98.61 L427.19 98.58 L426.32 98.54 L425.45 98.51 L424.57 98.47 L423.7 98.44 L422.83 98.42 L421.95 98.39 L421.08 98.36 L420.21 98.34 L419.34 98.32 L418.46 98.3 L417.59 98.28 L416.72 98.26 L415.85 98.24 L414.97 98.22 L414.1 98.2 L413.23 98.19 L412.35 98.17 L411.48 98.16 L410.61 98.14 L409.74 98.13 L408.86 98.11 L407.99 98.1 L407.12 98.09 L406.25 98.08 L405.37 98.07 L404.5 98.05 L403.63 98.04 L402.75 98.03 L401.88 98.02 L401.01 98.01 L400.14 98 L399.26 98 L398.39 97.99 L397.52 97.98 L396.65 97.97 L395.77 97.96 L394.9 97.96 L394.03 97.95 L393.15 97.95 L392.28 97.94 L391.41 97.93 L390.54 97.93 L389.66 97.92 L388.79 97.92 L387.92 97.92 L387.05 97.91 L386.17 97.91 L385.3 97.91" stroke="#8000ff"/>
<path d="M385.3 92.1 L386.17 92.1 L387.05 92.1 L387.92 92.1 L388.79 92.1 L389.66 92.1 L390.54 92.1 L391.41 92.1 L392.28 92.1 L393.15 92.1 L394.03 92.1 L394.9 92.1 L395.77 92.1 L396.65 92.1 L397.52 92.1 L398.39 92.1 L399.26 92.09 L400.14 92.09 L401.01 92.09 L401.88 92.09 L402.75 92.09 L403.63 92.08 L404.5 92.08 L405.37 92.08 L406.25 92.07 L407.12 92.07 L407.99 92.06 L408.86 92.05 L409.74 92.04 L410.61 92.03 L411.48 92.01 L412.35 91.99 L413.23 91.97 L414.1 91.95 L414.97 91.92 L415.85 91.89 L416.72 91.85 L417.59 91.8 L418.46 91.75 L419.34 91.69 L420.21 91.62 L421.08 91.54 L421.95 91.45 L422.83 91.35 L423.7 91.23 L424.57 91.09 L425.45 90.94 L426.32 90.77 L427.19 90.57 L428.06 90.36 L428.94 90.11 L429.81 89.84 L430.68 89.54 L431.55 89.2 L432.43 88.83 L433.3 88.42 L434.17 87.97 L435.05 87.48 L435.92 86.94 L436.79 86.36 L437.66 85.72 L438.54 85.04 L439.41 84.3 L440.28 83.5 L441.15 82.65 L442.03 81.74 L442.9 80.77 L443.77 79.74 L444.65 78.66 L445.52 77.51 L446.39 76.32 L447.26 75.06 L448.14 73.76 L449.01 72.41 L449.88 71.01 L450.75 69.57 L451.63 68.09 L452.5 66.59 L453.37 65.06 L454.25 63.51 L455.12 61.95 L455.99 60.39 L456.86 58.84 L457.74 57.3 L458.61 55.78 L459.48 54.29 L460.35 52.85 L461.23 51.45 L462.1 50.12 L462.97 48.85 L463.85 47.66 L464.72 46.55 L465.59 45.54 L466.46 44.63 L467.34 43.82 L468.21 43.13 L469.08 42.55 L469.95 42.1 L470.83 41.77 L471.7 41.57 L472.57 41.5 L473.45 41.56 L474.32 41.74 L475.19 42.05 L476.06 42.49 L476.94 43.04 L477.81 43.71 L478.68 44.48 L479.55 45.36 L480.43 46.33 L481.3 47.39 L482.17 48.52 L483.05 49.73 L483.92 50.99 L484.79 52.3 L485.66 53.64 L486.54 55.01 L487.41 56.4 L488.28 57.8 L489.15 59.19 L490.03 60.57 L490.9 61.92 L491.77 63.23 L492.65 64.51 L493.52 65.73 L494.39 66.89 L495.26 67.99 L496.14 69.01 L497.01 69.95 L497.88 70.81 L498.75 71.57 L499.63 72.24 L500.5 72.81 L501.37 73.29 L502.25 73.66 L503.12 73.92 L503.99 74.09 L504.86 74.15 L505.74 74.11 L506.61 73.97 L507.48 73.73 L508.35 73.39 L509.23 72.97 L510.1 72.46 L510.97 71.86 L511.85 71.19 L512.72 70.46 L513.59 69.66 L514.46 68.8 L515.34 67.9 L516.21 66.95 L517.08 65.97 L517.95 64.97 L518.83 63.96 L519.7 62.94 L520.57 61.92 L521.45 60.92 L522.32 59.93 L523.19 58.98 L524.06 58.06 L524.94 57.19 L525.81 56.38 L526.68 55.62 L527.55 54.94 L528.43 54.33 L529.3 53.8 L530.17 53.35 L531.05 53 L531.92 52.74 L532.79 52.57 L533.66 52.5 L534.54 52.53 L535.41 52.66 L536.28 52.88 L537.15 53.2 L538.03 53.61 L538.9 54.12 L539.77 54.7 L540.65 55.37 L541.52 56.11 L542.39 56.93 L543.26 57.8 L544.14 58.73 L545.01 59.71 L545.88 60.72 L546.75 61.77 L547.63 62.85 L548.5 63.94 L549.37 65.04 L550.25 66.14 L551.12 67.23 L551.99 68.3 L552.86 69.36 L553.74 70.38 L554.61 71.37 L555.48 72.32 L556.35 73.22 L557.23 74.07 L558.1 74.86 L558.97 75.59 L559.85 76.26 L560.72 76.86 L561.59 77.39 L562.46 77.84 L563.34 78.23 L564.21 78.54 L565.08 78.78 L565.95 78.94 L566.83 79.03 L567.7 79.05 L568.57 79.01 L569.45 78.89 L570.32 78.72 L571.19 78.48 L572.06 78.19 L572.94 77.85 L573.81 77.46 L574.68 77.02 L575.55 76.55 L576.43 76.05 L577.3 75.52 L578.17 74.97 L579.05 74.4 L579.92 73.83 L580.79 73.25 L581.66 72.67 L582.54 72.11 L583.41 71.55 L584.28 71.02 L585.15 70.51 L586.03 70.04 L586.9 69.6 L587.77 69.19 L588.65 68.84 L589.52 68.53 L590.39 68.27 L591.26 68.07 L592.14 67.92 L593.01 67.83 L593.88 67.8 L594.75 68.12 L595.63 68.58 L596.5 69.05 L597.37 69.55 L598.25 70.07 L599.12 70.61 L599.99 71.17 L600.86 71.74 L601.74 72.34 L602.61 72.94 L603.48 73.56 L604.35 74.19 L605.23 74.84 L606.1 75.51 L606.97 76.21 L607.85 76.95 L608.72 77.7 L609.59 78.49 L610.46 79.3 L611.34 80.13 L612.21 80.99 L613.08 81.95 L613.95 82.99 L614.83 84.04 L615.7 85.03 L616.57 85.9 L617.45 86.65 L618.32 87.36 L619.19 88.04 L620.06 88.68 L620.94 89.28 L621.81 89.86 L622.68 90.4 L623.55 90.91 L624.43 91.39 L625.3 91.83 L626.17 92.22 L627.05 92.58 L627.92 92.94 L628.79 93.29 L629.66 93.67 L630.54 94.07 L631.41 94.46 L632.28 94.83 L633.15 95.2 L634.03 95.56 L634.9 95.93 L635.77 96.29 L636.65 96.67 L637.52 97.06 L638.39 97.48 L639.26 97.91 L640.14 98.38 L641.01 98.88 L641.88 99.41 L642.75 99.99 L643.63 100.62 L644.5 101.3 L645.37 102.04 L646.25 102.94 L647.12 103.98 L647.99 105.18 L648.86 106.52 L649.74 108.01 L650.61 109.64 L651.48 111.4 L652.35 113.3 L653.23 115.33 L654.1 117.49 L654.97 119.97 L655.85 123.16 L656.72 126.86 L657.59 130.88 L658.46 135.02 L659.34 139.38 L660.21 144.16 L661.08 149.18 L661.95 154.29 L662.83 159.54 L663.7 165 L662.83 161.63 L661.95 158.47 L661.08 155.57 L660.21 152.96 L659.34 150.68 L658.46 148.78 L657.59 147.26 L656.72 145.93 L655.85 144.77 L654.97 143.75 L654.1 142.84 L653.23 142.02 L652.35 141.25 L651.48 140.53 L650.61 139.84 L649.74 139.21 L648.86 138.63 L647.99 138.11 L647.12 137.66 L646.25 137.29 L645.37 136.95 L644.5 136.61 L643.63 136.28 L642.75 135.97 L641.88 135.67 L641.01 135.4 L640.14 135.14 L639.26 134.92 L638.39 134.74 L637.52 134.58 L636.65 134.48 L635.77 134.41 L634.9 134.4 L634.03 134.46 L633.15 134.59 L632.28 134.78 L631.41 135.04 L630.54 135.37 L629.66 135.75 L628.79 136.19 L627.92 136.69 L627.05 137.23 L626.17 137.81 L625.3 138.43 L624.43 139.08 L623.55 139.75 L622.68 140.43 L621.81 141.13 L620.94 141.82 L620.06 142.51 L619.19 143.19 L618.32 143.85 L617.45 144.49 L616.57 145.09 L615.7 145.65 L614.83 146.17 L613.95 146.64 L613.08 147.05 L612.21 147.4 L611.34 147.7 L610.46 147.93 L609.59 148.09 L608.72 148.18 L607.85 148.19 L606.97 148.09 L606.1 147.91 L605.23 147.64 L604.35 147.28 L603.48 146.85 L602.61 146.34 L601.74 145.76 L600.86 145.12 L599.99 144.42 L599.12 143.67 L598.25 142.87 L597.37 142.03 L596.5 141.16 L595.63 140.26 L594.75 139.35 L593.88 138.43 L593.01 137.51 L592.14 136.59 L591.26 135.68 L590.39 134.8 L589.52 133.93 L588.65 133.1 L587.77 132.31 L586.9 131.56 L586.03 130.86 L585.15 130.21 L584.28 129.62 L583.41 129.09 L582.54 128.63 L581.66 128.23 L580.79 127.9 L579.92 127.64 L579.05 127.46 L578.17 127.35 L577.3 127.31 L576.43 127.35 L575.55 127.45 L574.68 127.63 L573.81 127.87 L572.94 128.18 L572.06 128.55 L571.19 128.97 L570.32 129.45 L569.45 129.98 L568.57 130.55 L567.7 131.16 L566.83 131.81 L565.95 132.47 L565.08 133.16 L564.21 133.86 L563.34 134.57 L562.46 135.28 L561.59 135.98 L560.72 136.67 L559.85 137.34 L558.97 137.97 L558.1 138.58 L557.23 139.14 L556.35 139.66 L555.48 140.12 L554.61 140.52 L553.74 140.86 L552.86 141.14 L551.99 141.34 L551.12 141.47 L550.25 141.52 L549.37 141.5 L548.5 141.4 L547.63 141.22 L546.75 140.96 L545.88 140.63 L545.01 140.23 L544.14 139.76 L543.26 139.23 L542.39 138.64 L541.52 138 L540.65 137.31 L539.77 136.58 L538.9 135.81 L538.03 135.02 L537.15 134.2 L536.28 133.38 L535.41 132.54 L534.54 131.71 L533.66 130.88 L532.79 130.07 L531.92 129.28 L531.05 128.52 L530.17 127.79 L529.3 127.1 L528.43 126.47 L527.55 125.88 L526.68 125.35 L525.81 124.89 L524.94 124.49 L524.06 124.16 L523.19 123.91 L522.32 123.74 L521.45 123.64 L520.57 123.63 L519.7 123.7 L518.83 123.86 L517.95 124.1 L517.08 124.43 L516.21 124.84 L515.34 125.33 L514.46 125.91 L513.59 126.56 L512.72 127.28 L511.85 128.07 L510.97 128.93 L510.1 129.85 L509.23 130.83 L508.35 131.85 L507.48 132.92 L506.61 134.02 L505.74 135.15 L504.86 136.31 L503.99 137.47 L503.12 138.64 L502.25 139.8 L501.37 140.95 L500.5 142.08 L499.63 143.18 L498.75 144.24 L497.88 145.25 L497.01 146.21 L496.14 147.1 L495.26 147.91 L494.39 148.65 L493.52 149.29 L492.65 149.84 L491.77 150.3 L490.9 150.64 L490.03 150.88 L489.15 151 L488.28 151.01 L487.41 150.9 L486.54 150.68 L485.66 150.34 L484.79 149.89 L483.92 149.33 L483.05 148.66 L482.17 147.89 L481.3 147.03 L480.43 146.07 L479.55 145.03 L478.68 143.92 L477.81 142.74 L476.94 141.49 L476.06 140.19 L475.19 138.84 L474.32 137.46 L473.45 136.04 L472.57 134.6 L471.7 133.14 L470.83 131.68 L469.95 130.21 L469.08 128.74 L468.21 127.28 L467.34 125.84 L466.46 124.42 L465.59 123.02 L464.72 121.65 L463.85 120.32 L462.97 119.02 L462.1 117.76 L461.23 116.54 L460.35 115.37 L459.48 114.25 L458.61 113.17 L457.74 112.14 L456.86 111.17 L455.99 110.24 L455.12 109.36 L454.25 108.52 L453.37 107.74 L452.5 107.01 L451.63 106.32 L450.75 105.67 L449.88 105.07 L449.01 104.51 L448.14 103.99 L447.26 103.5 L446.39 103.06 L445.52 102.64 L444.65 102.26 L443.77 101.92 L442.9 101.59 L442.03 101.3 L441.15 101.03 L440.28 100.78 L439.41 100.56 L438.54 100.35 L437.66 100.17 L436.79 100 L435.92 99.84 L435.05 99.7 L434.17 99.57 L433.3 99.45 L432.43 99.34 L431.55 99.25 L430.68 99.16 L429.81 99.08 L428.94 99 L428.06 98.93 L427.19 98.87 L426.32 98.81 L425.45 98.76 L424.57 98.71 L423.7 98.67 L422.83 98.62 L421.95 98.58 L421.08 98.55 L420.21 98.51 L419.34 98.48 L418.46 98.45 L417.59 98.42 L416.72 98.39 L415.85 98.37 L414.97 98.34 L414.1 98.32 L413.23 98.3 L412.35 98.28 L411.48 98.25 L410.61 98.24 L409.74 98.22 L408.86 98.2 L407.99 98.18 L407.12 98.16 L406.25 98.15 L405.37 98.13 L404.5 98.12 L403.63 98.1 L402.75 98.09 L401.88 98.08 L401.01 98.06 L400.14 98.05 L399.26 98.04 L398.39 98.03 L397.52 98.02 L396.65 98.01 L395.77 98 L394.9 97.99 L394.03 97.98 L393.15 97.97 L392.28 97.96 L391.41 97.95 L390.54 97.95 L389.66 97.94 L388.79 97.93 L387.92 97.93 L387.05 97.92 L386.17 97.92 L385.3 97.91" stroke="#ff8000"/>
<path d="M385.3 91.8 L386.17 91.8 L387.05 91.8 L387.92 91.8 L388.79 91.8 L389.66 91.8 L390.54 91.8 L391.41 91.8 L392.28 91.8 L393.15 91.8 L394.03 91.8 L394.9 91.8 L395.77 91.8 L396.65 91.8 L397.52 91.8 L398.39 91.8 L399.26 91.79 L400.14 91.79 L401.01 91.79 L401.88 91.79 L402.75 91.79 L403.63 91.79 L404.5 91.78 L405.37 91.78 L406.25 91.77 L407.12 91.77 L407.99 91.76 L408.86 91.75 L409.74 91.74 L410.61 91.73 L411.48 91.72 L412.35 91.7 L413.23 91.68 L414.1 91.66 L414.97 91.63 L415.85 91.6 L416.72 91.56 L417.59 91.52 L418.46 91.47 L419.34 91.41 L420.21 91.34 L421.08 91.27 L421.95 91.18 L422.83 91.08 L423.7 90.97 L424.57 90.84 L425.45 90.69 L426.32 90.53 L427.19 90.34 L428.06 90.13 L428.94 89.9 L429.81 89.64 L430.68 89.35 L431.55 89.03 L432.43 88.68 L433.3 88.29 L434.17 87.86 L435.05 87.39 L435.92 86.88 L436.79 86.32 L437.66 85.71 L438.54 85.06 L439.41 84.35 L440.28 83.59 L441.15 82.78 L442.03 81.91 L442.9 80.98 L443.77 80 L444.65 78.97 L445.52 77.88 L446.39 76.73 L447.26 75.54 L448.14 74.29 L449.01 73 L449.88 71.67 L450.75 70.29 L451.63 68.89 L452.5 67.45 L453.37 65.99 L454.25 64.51 L455.12 63.02 L455.99 61.54 L456.86 60.05 L457.74 58.58 L458.61 57.13 L459.48 55.71 L460.35 54.33 L461.23 53 L462.1 51.73 L462.97 50.52 L463.85 49.38 L464.72 48.33 L465.59 47.36 L466.46 46.49 L467.34 45.72 L468.21 45.06 L469.08 44.51 L469.95 44.07 L470.83 43.76 L471.7 43.57 L472.57 43.5 L473.45 43.55 L474.32 43.73 L475.19 44.03 L476.06 44.44 L476.94 44.97 L477.81 45.6 L478.68 46.34 L479.55 47.18 L480.43 48.11 L481.3 49.11 L482.17 50.2 L483.05 51.34 L483.92 52.54 L484.79 53.79 L485.66 55.07 L486.54 56.38 L487.41 57.7 L488.28 59.03 L489.15 60.35 L490.03 61.66 L490.9 62.95 L491.77 64.2 L492.65 65.41 L493.52 66.57 L494.39 67.67 L495.26 68.71 L496.14 69.67 L497.01 70.56 L497.88 71.37 L498.75 72.09 L499.63 72.71 L500.5 73.25 L501.37 73.68 L502.25 74.02 L503.12 74.26 L503.99 74.4 L504.86 74.44 L505.74 74.38 L506.61 74.22 L507.48 73.97 L508.35 73.62 L509.23 73.19 L510.1 72.68 L510.97 72.09 L511.85 71.42 L512.72 70.69 L513.59 69.9 L514.46 69.05 L515.34 68.16 L516.21 67.23 L517.08 66.26 L517.95 65.28 L518.83 64.28 L519.7 63.28 L520.57 62.28 L521.45 61.29 L522.32 60.32 L523.19 59.39 L524.06 58.49 L524.94 57.63 L525.81 56.83 L526.68 56.09 L527.55 55.42 L528.43 54.82 L529.3 54.3 L530.17 53.86 L531.05 53.51 L531.92 53.24 L532.79 53.08 L533.66 53 L534.54 53.03 L535.41 53.14 L536.28 53.35 L537.15 53.65 L538.03 54.05 L538.9 54.52 L539.77 55.08 L540.65 55.72 L541.52 56.42 L542.39 57.19 L543.26 58.02 L544.14 58.9 L545.01 59.82 L545.88 60.77 L546.75 61.75 L547.63 62.75 L548.5 63.75 L549.37 64.76 L550.25 65.76 L551.12 66.74 L551.99 67.7 L552.86 68.63 L553.74 69.52 L554.61 70.35 L555.48 71.14 L556.35 71.87 L557.23 72.53 L558.1 73.12 L558.97 73.63 L559.85 74.06 L560.72 74.41 L561.59 74.68 L562.46 74.85 L563.34 74.94 L564.21 74.94 L565.08 74.84 L565.95 74.65 L566.83 74.38 L567.7 74.02 L568.57 73.57 L569.45 73.04 L570.32 72.43 L571.19 71.75 L572.06 71 L572.94 70.19 L573.81 69.32 L574.68 68.4 L575.55 67.44 L576.43 66.44 L577.3 65.41 L578.17 64.37 L579.05 63.31 L579.92 62.26 L580.79 61.2 L581.66 60.17 L582.54 59.15 L583.41 58.17 L584.28 57.24 L585.15 56.35 L586.03 55.51 L586.9 54.74 L587.77 54.05 L588.65 53.43 L589.52 52.89 L590.39 52.44 L591.26 52.08 L592.14 51.82 L593.01 51.66 L593.88 51.6 L594.75 52.13 L595.63 52.86 L596.5 53.63 L597.37 54.44 L598.25 55.29 L599.12 56.16 L599.99 57.07 L600.86 58 L601.74 58.96 L602.61 59.95 L603.48 60.95 L604.35 61.98 L605.23 63.02 L606.1 64.12 L606.97 65.26 L607.85 66.44 L608.72 67.67 L609.59 68.95 L610.46 70.26 L611.34 71.61 L612.21 73.01 L613.08 74.56 L613.95 76.25 L614.83 77.95 L615.7 79.57 L616.57 80.98 L617.45 82.2 L618.32 83.35 L619.19 84.45 L620.06 85.48 L620.94 86.47 L621.81 87.4 L622.68 88.28 L623.55 89.1 L624.43 89.88 L625.3 90.63 L626.17 91.35 L627.05 92.04 L627.92 92.68 L628.79 93.23 L629.66 93.68 L630.54 94.03 L631.41 94.32 L632.28 94.58 L633.15 94.8 L634.03 95 L634.9 95.19 L635.77 95.38 L636.65 95.58 L637.52 95.79 L638.39 96.03 L639.26 96.3 L640.14 96.6 L641.01 96.9 L641.88 97.21 L642.75 97.54 L643.63 97.87 L644.5 98.23 L645.37 98.61 L646.25 99.01 L647.12 99.45 L647.99 99.92 L648.86 100.42 L649.74 100.97 L650.61 101.55 L651.48 102.19 L652.35 102.92 L653.23 103.79 L654.1 104.8 L654.97 105.97 L655.85 107.3 L656.72 108.79 L657.59 110.45 L658.46 112.29 L659.34 114.44 L660.21 117.33 L661.08 121.39 L661.95 127.91 L662.83 140.67 L663.7 178 L662.83 174.44 L661.95 171.11 L661.08 168.05 L660.21 165.29 L659.34 162.89 L658.46 160.88 L657.59 159.27 L656.72 157.87 L655.85 156.65 L654.97 155.57 L654.1 154.61 L653.23 153.74 L652.35 152.94 L651.48 152.19 L650.61 151.48 L649.74 150.83 L648.86 150.23 L647.99 149.68 L647.12 149.18 L646.25 148.74 L645.37 148.33 L644.5 147.93 L643.63 147.55 L642.75 147.19 L641.88 146.85 L641.01 146.54 L640.14 146.27 L639.26 146.03 L638.39 145.84 L637.52 145.7 L636.65 145.74 L635.77 145.84 L634.9 146.01 L634.03 146.23 L633.15 146.52 L632.28 146.86 L631.41 147.26 L630.54 147.71 L629.66 148.21 L628.79 148.75 L627.92 149.33 L627.05 149.94 L626.17 150.58 L625.3 151.24 L624.43 151.92 L623.55 152.61 L622.68 153.3 L621.81 154 L620.94 154.68 L620.06 155.36 L619.19 156.01 L618.32 156.64 L617.45 157.25 L616.57 157.81 L615.7 158.34 L614.83 158.82 L613.95 159.26 L613.08 159.64 L612.21 159.97 L611.34 160.24 L610.46 160.45 L609.59 160.6 L608.72 160.68 L607.85 160.69 L606.97 160.57 L606.1 160.33 L605.23 159.98 L604.35 159.51 L603.48 158.95 L602.61 158.28 L601.74 157.52 L600.86 156.67 L599.99 155.74 L599.12 154.75 L598.25 153.68 L597.37 152.57 L596.5 151.4 L595.63 150.2 L594.75 148.98 L593.88 147.73 L593.01 146.48 L592.14 145.22 L591.26 143.98 L590.39 142.75 L589.52 141.55 L588.65 140.37 L587.77 139.24 L586.9 138.16 L586.03 137.13 L585.15 136.16 L584.28 135.25 L583.41 134.42 L582.54 133.65 L581.66 132.97 L580.79 132.36 L579.92 131.84 L579.05 131.39 L578.17 131.04 L577.3 130.77 L576.43 130.58 L575.55 130.47 L574.68 130.45 L573.81 130.5 L572.94 130.63 L572.06 130.83 L571.19 131.1 L570.32 131.44 L569.45 131.83 L568.57 132.28 L567.7 132.77 L566.83 133.3 L565.95 133.87 L565.08 134.47 L564.21 135.09 L563.34 135.72 L562.46 136.35 L561.59 136.99 L560.72 137.62 L559.85 138.23 L558.97 138.82 L558.1 139.37 L557.23 139.89 L556.35 140.37 L555.48 140.8 L554.61 141.17 L553.74 141.48 L552.86 141.73 L551.99 141.91 L551.12 142.01 L550.25 142.04 L549.37 142 L548.5 141.88 L547.63 141.68 L546.75 141.41 L545.88 141.06 L545.01 140.64 L544.14 140.16 L543.26 139.61 L542.39 139.01 L541.52 138.35 L540.65 137.64 L539.77 136.9 L538.9 136.11 L538.03 135.3 L537.15 134.47 L536.28 133.63 L535.41 132.77 L534.54 131.92 L533.66 131.07 L532.79 130.24 L531.92 129.42 L531.05 128.64 L530.17 127.88 L529.3 127.17 L528.43 126.5 L527.55 125.88 L526.68 125.32 L525.81 124.82 L524.94 124.39 L524.06 124.02 L523.19 123.73 L522.32 123.51 L521.45 123.37 L520.57 123.31 L519.7 123.33 L518.83 123.44 L517.95 123.63 L517.08 123.89 L516.21 124.24 L515.34 124.67 L514.46 125.18 L513.59 125.77 L512.72 126.42 L511.85 127.14 L510.97 127.93 L510.1 128.78 L509.23 129.68 L508.35 130.63 L507.48 131.62 L506.61 132.64 L505.74 133.69 L504.86 134.77 L503.99 135.85 L503.12 136.95 L502.25 138.04 L501.37 139.11 L500.5 140.17 L499.63 141.2 L498.75 142.19 L497.88 143.14 L497.01 144.04 L496.14 144.87 L495.26 145.63 L494.39 146.32 L493.52 146.93 L492.65 147.44 L491.77 147.86 L490.9 148.18 L490.03 148.4 L489.15 148.51 L488.28 148.51 L487.41 148.4 L486.54 148.18 L485.66 147.86 L484.79 147.42 L483.92 146.88 L483.05 146.25 L482.17 145.51 L481.3 144.68 L480.43 143.77 L479.55 142.78 L478.68 141.72 L477.81 140.59 L476.94 139.4 L476.06 138.17 L475.19 136.88 L474.32 135.56 L473.45 134.22 L472.57 132.84 L471.7 131.46 L470.83 130.06 L469.95 128.66 L469.08 127.26 L468.21 125.88 L467.34 124.5 L466.46 123.15 L465.59 121.82 L464.72 120.52 L463.85 119.25 L462.97 118.01 L462.1 116.82 L461.23 115.66 L460.35 114.54 L459.48 113.47 L458.61 112.45 L457.74 111.47 L456.86 110.54 L455.99 109.65 L455.12 108.81 L454.25 108.02 L453.37 107.27 L452.5 106.57 L451.63 105.91 L450.75 105.3 L449.88 104.72 L449.01 104.19 L448.14 103.69 L447.26 103.23 L446.39 102.8 L445.52 102.41 L444.65 102.05 L443.77 101.71 L442.9 101.4 L442.03 101.12 L441.15 100.86 L440.28 100.63 L439.41 100.41 L438.54 100.21 L437.66 100.03 L436.79 99.87 L435.92 99.72 L435.05 99.58 L434.17 99.46 L433.3 99.34 L432.43 99.24 L431.55 99.14 L430.68 99.06 L429.81 98.98 L428.94 98.9 L428.06 98.84 L427.19 98.78 L426.32 98.72 L425.45 98.67 L424.57 98.62 L423.7 98.57 L422.83 98.53 L421.95 98.49 L421.08 98.45 L420.21 98.42 L419.34 98.39 L418.46 98.36 L417.59 98.33 L416.72 98.3 L415.85 98.27 L414.97 98.25 L414.1 98.23 L413.23 98.2 L412.35 98.18 L411.48 98.16 L410.61 98.14 L409.74 98.12 L408.86 98.1 L407.99 98.08 L407.12 98.07 L406.25 98.05 L405.37 98.03 L404.5 98.02 L403.63 98 L402.75 97.99 L401.88 97.98 L401.01 97.96 L400.14 97.95 L399.26 97.94 L398.39 97.93 L397.52 97.92 L396.65 97.91 L395.77 97.9 L394.9 97.89 L394.03 97.88 L393.15 97.87 L392.28 97.86 L391.41 97.85 L390.54 97.85 L389.66 97.84 L388.79 97.83 L387.92 97.83 L387.05 97.82 L386.17 97.82 L385.3 97.81" stroke="#ff0000"/>
<path d="M385.3 91.6 L386.17 91.6 L387.05 91.6 L387.92 91.6 L388.79 91.6 L389.66 91.6 L390.54 91.6 L391.41 91.6 L392.28 91.6 L393.15 91.6 L394.03 91.6 L394.9 91.6 L395.77 91.6 L396.65 91.6 L397.52 91.6 L398.39 91.6 L399.26 91.6 L400.14 91.59 L401.01 91.59 L401.88 91.59 L402.75 91.59 L403.63 91.59 L404.5 91.58 L405.37 91.58 L406.25 91.57 L407.12 91.57 L407.99 91.56 L408.86 91.55 L409.74 91.54 L410.61 91.53 L411.48 91.52 L412.35 91.5 L413.23 91.48 L414.1 91.46 L414.97 91.44 L415.85 91.4 L416.72 91.37 L417.59 91.33 L418.46 91.28 L419.34 91.23 L420.21 91.16 L421.08 91.09 L421.95 91 L422.83 90.91 L423.7 90.8 L424.57 90.68 L425.45 90.54 L426.32 90.38 L427.19 90.2 L428.06 90 L428.94 89.78 L429.81 89.53 L430.68 89.25 L431.55 88.94 L432.43 88.6 L433.3 88.23 L434.17 87.82 L435.05 87.37 L435.92 86.87 L436.79 86.34 L437.66 85.76 L438.54 85.13 L439.41 84.45 L440.28 83.72 L441.15 82.94 L442.03 82.1 L442.9 81.22 L443.77 80.28 L444.65 79.28 L445.52 78.24 L446.39 77.14 L447.26 75.99 L448.14 74.79 L449.01 73.55 L449.88 72.27 L450.75 70.95 L451.63 69.6 L452.5 68.22 L453.37 66.82 L454.25 65.4 L455.12 63.98 L455.99 62.55 L456.86 61.12 L457.74 59.71 L458.61 58.32 L459.48 56.96 L460.35 55.63 L461.23 54.35 L462.1 53.13 L462.97 51.97 L463.85 50.87 L464.72 49.86 L465.59 48.93 L466.46 48.09 L467.34 47.35 L468.21 46.72 L469.08 46.18 L469.95 45.77 L470.83 45.46 L471.7 45.27 L472.57 45.2 L473.45 45.24 L474.32 45.41 L475.19 45.68 L476.06 46.07 L476.94 46.56 L477.81 47.15 L478.68 47.85 L479.55 48.63 L480.43 49.5 L481.3 50.44 L482.17 51.44 L483.05 52.51 L483.92 53.62 L484.79 54.77 L485.66 55.95 L486.54 57.14 L487.41 58.34 L488.28 59.54 L489.15 60.72 L490.03 61.88 L490.9 63.01 L491.77 64.09 L492.65 65.11 L493.52 66.08 L494.39 66.97 L495.26 67.79 L496.14 68.52 L497.01 69.15 L497.88 69.69 L498.75 70.13 L499.63 70.45 L500.5 70.66 L501.37 70.76 L502.25 70.74 L503.12 70.6 L503.99 70.34 L504.86 69.96 L505.74 69.46 L506.61 68.85 L507.48 68.12 L508.35 67.28 L509.23 66.33 L510.1 65.29 L510.97 64.15 L511.85 62.92 L512.72 61.61 L513.59 60.23 L514.46 58.79 L515.34 57.3 L516.21 55.76 L517.08 54.2 L517.95 52.61 L518.83 51.01 L519.7 49.42 L520.57 47.84 L521.45 46.29 L522.32 44.78 L523.19 43.32 L524.06 41.93 L524.94 40.61 L525.81 39.37 L526.68 38.23 L527.55 37.2 L528.43 36.28 L529.3 35.48 L530.17 34.81 L531.05 34.27 L531.92 33.87 L532.79 33.62 L533.66 33.51 L534.54 33.54 L535.41 33.72 L536.28 34.04 L537.15 34.5 L538.03 35.1 L538.9 35.84 L539.77 36.69 L540.65 37.67 L541.52 38.76 L542.39 39.94 L543.26 41.22 L544.14 42.58 L545.01 44.01 L545.88 45.5 L546.75 47.03 L547.63 48.6 L548.5 50.2 L549.37 51.8 L550.25 53.41 L551.12 55 L551.99 56.57 L552.86 58.11 L553.74 59.6 L554.61 61.04 L555.48 62.41 L556.35 63.72 L557.23 64.94 L558.1 66.08 L558.97 67.13 L559.85 68.08 L560.72 68.93 L561.59 69.68 L562.46 70.32 L563.34 70.85 L564.21 71.27 L565.08 71.58 L565.95 71.78 L566.83 71.87 L567.7 71.86 L568.57 71.74 L569.45 71.53 L570.32 71.22 L571.19 70.82 L572.06 70.34 L572.94 69.78 L573.81 69.14 L574.68 68.45 L575.55 67.7 L576.43 66.9 L577.3 66.06 L578.17 65.2 L579.05 64.31 L579.92 63.41 L580.79 62.5 L581.66 61.6 L582.54 60.71 L583.41 59.85 L584.28 59.02 L585.15 58.23 L586.03 57.49 L586.9 56.8 L587.77 56.17 L588.65 55.62 L589.52 55.14 L590.39 54.73 L591.26 54.42 L592.14 54.19 L593.01 54.05 L593.88 54 L594.75 54.5 L595.63 55.19 L596.5 55.92 L597.37 56.68 L598.25 57.48 L599.12 58.3 L599.99 59.16 L600.86 60.04 L601.74 60.94 L602.61 61.87 L603.48 62.82 L604.35 63.79 L605.23 64.77 L606.1 65.8 L606.97 66.88 L607.85 68 L608.72 69.16 L609.59 70.36 L610.46 71.6 L611.34 72.87 L612.21 74.19 L613.08 75.65 L613.95 77.25 L614.83 78.86 L615.7 80.38 L616.57 81.71 L617.45 82.86 L618.32 83.95 L619.19 84.98 L620.06 85.96 L620.94 86.89 L621.81 87.76 L622.68 88.59 L623.55 89.37 L624.43 90.1 L625.3 90.79 L626.17 91.41 L627.05 92 L627.92 92.55 L628.79 93.09 L629.66 93.63 L630.54 94.16 L631.41 94.65 L632.28 95.11 L633.15 95.54 L634.03 95.95 L634.9 96.35 L635.77 96.75 L636.65 97.14 L637.52 97.55 L638.39 97.97 L639.26 98.41 L640.14 98.88 L641.01 99.39 L641.88 99.94 L642.75 100.54 L643.63 101.2 L644.5 101.93 L645.37 102.74 L646.25 103.71 L647.12 104.84 L647.99 106.14 L648.86 107.6 L649.74 109.21 L650.61 110.97 L651.48 112.88 L652.35 114.94 L653.23 117.14 L654.1 119.48 L654.97 122.18 L655.85 125.63 L656.72 129.65 L657.59 134.01 L658.46 138.49 L659.34 143.23 L660.21 148.4 L661.08 153.84 L661.95 159.39 L662.83 165.08 L663.7 171 L662.83 167.37 L661.95 163.96 L661.08 160.83 L660.21 158.01 L659.34 155.56 L658.46 153.51 L657.59 151.86 L656.72 150.44 L655.85 149.18 L654.97 148.08 L654.1 147.1 L653.23 146.22 L652.35 145.4 L651.48 144.63 L650.61 143.91 L649.74 143.24 L648.86 142.63 L647.99 142.07 L647.12 141.56 L646.25 141.11 L645.37 140.69 L644.5 140.28 L643.63 139.89 L642.75 139.52 L641.88 139.17 L641.01 138.86 L640.14 138.58 L639.26 138.34 L638.39 138.14 L637.52 138 L636.65 138.04 L635.77 138.14 L634.9 138.3 L634.03 138.53 L633.15 138.82 L632.28 139.16 L631.41 139.55 L630.54 140 L629.66 140.49 L628.79 141.03 L627.92 141.6 L627.05 142.21 L626.17 142.85 L625.3 143.5 L624.43 144.18 L623.55 144.86 L622.68 145.55 L621.81 146.24 L620.94 146.92 L620.06 147.59 L619.19 148.24 L618.32 148.87 L617.45 149.47 L616.57 150.03 L615.7 150.56 L614.83 151.04 L613.95 151.47 L613.08 151.85 L612.21 152.17 L611.34 152.44 L610.46 152.65 L609.59 152.8 L608.72 152.88 L607.85 152.89 L606.97 152.8 L606.1 152.62 L605.23 152.35 L604.35 151.99 L603.48 151.56 L602.61 151.04 L601.74 150.45 L600.86 149.8 L599.99 149.09 L599.12 148.33 L598.25 147.52 L597.37 146.68 L596.5 145.81 L595.63 144.93 L594.75 144.03 L593.88 143.13 L593.01 142.25 L592.14 141.37 L591.26 140.52 L590.39 139.7 L589.52 138.92 L588.65 138.19 L587.77 137.51 L586.9 136.9 L586.03 136.35 L585.15 135.87 L584.28 135.47 L583.41 135.15 L582.54 134.92 L581.66 134.78 L580.79 134.73 L579.92 134.78 L579.05 134.91 L578.17 135.15 L577.3 135.48 L576.43 135.9 L575.55 136.42 L574.68 137.03 L573.81 137.72 L572.94 138.49 L572.06 139.35 L571.19 140.27 L570.32 141.26 L569.45 142.31 L568.57 143.42 L567.7 144.57 L566.83 145.75 L565.95 146.96 L565.08 148.19 L564.21 149.43 L563.34 150.66 L562.46 151.89 L561.59 153.09 L560.72 154.27 L559.85 155.4 L558.97 156.48 L558.1 157.5 L557.23 158.45 L556.35 159.31 L555.48 160.09 L554.61 160.78 L553.74 161.35 L552.86 161.82 L551.99 162.17 L551.12 162.41 L550.25 162.52 L549.37 162.5 L548.5 162.36 L547.63 162.09 L546.75 161.7 L545.88 161.18 L545.01 160.56 L544.14 159.81 L543.26 158.97 L542.39 158.03 L541.52 156.99 L540.65 155.87 L539.77 154.69 L538.9 153.43 L538.03 152.13 L537.15 150.78 L536.28 149.39 L535.41 147.98 L534.54 146.56 L533.66 145.14 L532.79 143.71 L531.92 142.31 L531.05 140.93 L530.17 139.58 L529.3 138.28 L528.43 137.03 L527.55 135.83 L526.68 134.7 L525.81 133.64 L524.94 132.65 L524.06 131.75 L523.19 130.94 L522.32 130.21 L521.45 129.59 L520.57 129.05 L519.7 128.62 L518.83 128.28 L517.95 128.05 L517.08 127.92 L516.21 127.88 L515.34 127.95 L514.46 128.1 L513.59 128.35 L512.72 128.69 L511.85 129.12 L510.97 129.62 L510.1 130.2 L509.23 130.84 L508.35 131.55 L507.48 132.31 L506.61 133.12 L505.74 133.98 L504.86 134.86 L503.99 135.77 L503.12 136.7 L502.25 137.63 L501.37 138.56 L500.5 139.49 L499.63 140.39 L498.75 141.27 L497.88 142.11 L497.01 142.9 L496.14 143.64 L495.26 144.33 L494.39 144.94 L493.52 145.48 L492.65 145.93 L491.77 146.3 L490.9 146.58 L490.03 146.76 L489.15 146.84 L488.28 146.81 L487.41 146.69 L486.54 146.46 L485.66 146.13 L484.79 145.7 L483.92 145.17 L483.05 144.54 L482.17 143.82 L481.3 143.02 L480.43 142.13 L479.55 141.17 L478.68 140.15 L477.81 139.06 L476.94 137.91 L476.06 136.71 L475.19 135.48 L474.32 134.21 L473.45 132.91 L472.57 131.58 L471.7 130.25 L470.83 128.9 L469.95 127.56 L469.08 126.21 L468.21 124.88 L467.34 123.56 L466.46 122.25 L465.59 120.97 L464.72 119.72 L463.85 118.5 L462.97 117.31 L462.1 116.16 L461.23 115.04 L460.35 113.97 L459.48 112.94 L458.61 111.95 L457.74 111.01 L456.86 110.11 L455.99 109.26 L455.12 108.45 L454.25 107.69 L453.37 106.97 L452.5 106.29 L451.63 105.65 L450.75 105.06 L449.88 104.51 L449.01 103.99 L448.14 103.51 L447.26 103.06 L446.39 102.65 L445.52 102.27 L444.65 101.92 L443.77 101.59 L442.9 101.29 L442.03 101.02 L441.15 100.77 L440.28 100.54 L439.41 100.33 L438.54 100.14 L437.66 99.96 L436.79 99.8 L435.92 99.65 L435.05 99.52 L434.17 99.4 L433.3 99.28 L432.43 99.18 L431.55 99.09 L430.68 99 L429.81 98.92 L428.94 98.85 L428.06 98.78 L427.19 98.72 L426.32 98.66 L425.45 98.61 L424.57 98.56 L423.7 98.52 L422.83 98.47 L421.95 98.43 L421.08 98.4 L420.21 98.36 L419.34 98.33 L418.46 98.3 L417.59 98.27 L416.72 98.24 L415.85 98.21 L414.97 98.19 L414.1 98.16 L413.23 98.14 L412.35 98.11 L411.48 98.09 L410.61 98.07 L409.74 98.05 L408.86 98.03 L407.99 98.01 L407.12 98 L406.25 97.98 L405.37 97.96 L404.5 97.95 L403.63 97.93 L402.75 97.92 L401.88 97.9 L401.01 97.89 L400.14 97.88 L399.26 97.86 L398.39 97.85 L397.52 97.84 L396.65 97.83 L395.77 97.82 L394.9 97.81 L394.03 97.8 L393.15 97.79 L392.28 97.78 L391.41 97.77 L390.54 97.77 L389.66 97.76 L388.79 97.75 L387.92 97.75 L387.05 97.74 L386.17 97.74 L385.3 97.73" stroke="#8000ff"/>
<path d="M385.3 91.2 L386.17 91.2 L387.05 91.2 L387.92 91.2 L388.79 91.2 L389.66 91.2 L390.54 91.2 L391.41 91.2 L392.28 91.2 L393.15 91.2 L394.03 91.2 L394.9 91.2 L395.77 91.2 L396.65 91.2 L397.52 91.2 L398.39 91.19 L399.26 91.19 L400.14 91.19 L401.01 91.19 L401.88 91.19 L402.75 91.18 L403.63 91.18 L404.5 91.18 L405.37 91.17 L406.25 91.17 L407.12 91.16 L407.99 91.15 L408.86 91.14 L409.74 91.13 L410.61 91.11 L411.48 91.09 L412.35 91.07 L413.23 91.05 L414.1 91.02 L414.97 90.98 L415.85 90.94 L416.72 90.9 L417.59 90.84 L418.46 90.78 L419.34 90.71 L420.21 90.63 L421.08 90.53 L421.95 90.42 L422.83 90.3 L423.7 90.15 L424.57 89.99 L425.45 89.81 L426.32 89.6 L427.19 89.37 L428.06 89.11 L428.94 88.82 L429.81 88.49 L430.68 88.13 L431.55 87.72 L432.43 87.28 L433.3 86.79 L434.17 86.25 L435.05 85.66 L435.92 85.02 L436.79 84.31 L437.66 83.55 L438.54 82.73 L439.41 81.84 L440.28 80.89 L441.15 79.86 L442.03 78.77 L442.9 77.61 L443.77 76.38 L444.65 75.08 L445.52 73.71 L446.39 72.27 L447.26 70.77 L448.14 69.21 L449.01 67.58 L449.88 65.91 L450.75 64.18 L451.63 62.41 L452.5 60.6 L453.37 58.77 L454.25 56.91 L455.12 55.05 L455.99 53.18 L456.86 51.31 L457.74 49.46 L458.61 47.64 L459.48 45.86 L460.35 44.13 L461.23 42.45 L462.1 40.85 L462.97 39.33 L463.85 37.9 L464.72 36.58 L465.59 35.36 L466.46 34.26 L467.34 33.3 L468.21 32.47 L469.08 31.77 L469.95 31.23 L470.83 30.83 L471.7 30.59 L472.57 30.5 L473.45 30.56 L474.32 30.78 L475.19 31.15 L476.06 31.66 L476.94 32.32 L477.81 33.11 L478.68 34.03 L479.55 35.08 L480.43 36.23 L481.3 37.48 L482.17 38.83 L483.05 40.25 L483.92 41.74 L484.79 43.29 L485.66 44.87 L486.54 46.49 L487.41 48.12 L488.28 49.75 L489.15 51.38 L490.03 52.98 L490.9 54.54 L491.77 56.06 L492.65 57.52 L493.52 58.91 L494.39 60.22 L495.26 61.44 L496.14 62.56 L497.01 63.58 L497.88 64.49 L498.75 65.27 L499.63 65.93 L500.5 66.47 L501.37 66.87 L502.25 67.14 L503.12 67.27 L503.99 67.26 L504.86 67.12 L505.74 66.85 L506.61 66.44 L507.48 65.9 L508.35 65.24 L509.23 64.46 L510.1 63.56 L510.97 62.56 L511.85 61.45 L512.72 60.26 L513.59 58.98 L514.46 57.63 L515.34 56.22 L516.21 54.76 L517.08 53.26 L517.95 51.73 L518.83 50.18 L519.7 48.64 L520.57 47.1 L521.45 45.59 L522.32 44.11 L523.19 42.68 L524.06 41.3 L524.94 40 L525.81 38.79 L526.68 37.66 L527.55 36.64 L528.43 35.73 L529.3 34.94 L530.17 34.28 L531.05 33.75 L531.92 33.36 L532.79 33.11 L533.66 33 L534.54 33.04 L535.41 33.23 L536.28 33.55 L537.15 34.02 L538.03 34.62 L538.9 35.36 L539.77 36.22 L540.65 37.2 L541.52 38.29 L542.39 39.49 L543.26 40.77 L544.14 42.14 L545.01 43.57 L545.88 45.07 L546.75 46.61 L547.63 48.19 L548.5 49.79 L549.37 51.4 L550.25 53.02 L551.12 54.62 L551.99 56.21 L552.86 57.76 L553.74 59.26 L554.61 60.72 L555.48 62.11 L556.35 63.43 L557.23 64.68 L558.1 65.84 L558.97 66.91 L559.85 67.89 L560.72 68.77 L561.59 69.54 L562.46 70.21 L563.34 70.77 L564.21 71.22 L565.08 71.57 L565.95 71.81 L566.83 71.94 L567.7 71.97 L568.57 71.89 L569.45 71.72 L570.32 71.46 L571.19 71.11 L572.06 70.67 L572.94 70.16 L573.81 69.58 L574.68 68.94 L575.55 68.24 L576.43 67.5 L577.3 66.71 L578.17 65.9 L579.05 65.06 L579.92 64.21 L580.79 63.36 L581.66 62.5 L582.54 61.67 L583.41 60.85 L584.28 60.06 L585.15 59.31 L586.03 58.61 L586.9 57.96 L587.77 57.36 L588.65 56.83 L589.52 56.38 L590.39 56 L591.26 55.69 L592.14 55.47 L593.01 55.34 L593.88 55.3 L594.75 55.78 L595.63 56.45 L596.5 57.16 L597.37 57.89 L598.25 58.66 L599.12 59.46 L599.99 60.29 L600.86 61.14 L601.74 62.02 L602.61 62.91 L603.48 63.83 L604.35 64.77 L605.23 65.72 L606.1 66.72 L606.97 67.76 L607.85 68.84 L608.72 69.97 L609.59 71.13 L610.46 72.33 L611.34 73.56 L612.21 74.83 L613.08 76.25 L613.95 77.79 L614.83 79.34 L615.7 80.82 L616.57 82.11 L617.45 83.22 L618.32 84.27 L619.19 85.27 L620.06 86.21 L620.94 87.11 L621.81 87.96 L622.68 88.76 L623.55 89.52 L624.43 90.23 L625.3 90.89 L626.17 91.5 L627.05 92.07 L627.92 92.61 L628.79 93.13 L629.66 93.64 L630.54 94.14 L631.41 94.6 L632.28 95.02 L633.15 95.42 L634.03 95.8 L634.9 96.16 L635.77 96.52 L636.65 96.88 L637.52 97.24 L638.39 97.62 L639.26 98.02 L640.14 98.44 L641.01 98.9 L641.88 99.39 L642.75 99.94 L643.63 100.53 L644.5 101.19 L645.37 101.93 L646.25 102.81 L647.12 103.84 L647.99 105.02 L648.86 106.34 L649.74 107.81 L650.61 109.41 L651.48 111.15 L652.35 113.02 L653.23 115.03 L654.1 117.15 L654.97 119.61 L655.85 122.75 L656.72 126.4 L657.59 130.36 L658.46 134.44 L659.34 138.74 L660.21 143.45 L661.08 148.4 L661.95 153.44 L662.83 158.61 L663.7 164 L662.83 160.81 L661.95 157.82 L661.08 155.06 L660.21 152.59 L659.34 150.43 L658.46 148.63 L657.59 147.18 L656.72 145.93 L655.85 144.83 L654.97 143.86 L654.1 143 L653.23 142.22 L652.35 141.5 L651.48 140.8 L650.61 140.16 L649.74 139.55 L648.86 139.01 L647.99 138.52 L647.12 138.09 L646.25 137.73 L645.37 137.41 L644.5 137.09 L643.63 136.78 L642.75 136.49 L641.88 136.2 L641.01 135.94 L640.14 135.71 L639.26 135.5 L638.39 135.32 L637.52 135.18 L636.65 135.07 L635.77 135.01 L634.9 135 L634.03 135.06 L633.15 135.18 L632.28 135.36 L631.41 135.61 L630.54 135.92 L629.66 136.29 L628.79 136.72 L627.92 137.19 L627.05 137.71 L626.17 138.26 L625.3 138.85 L624.43 139.47 L623.55 140.11 L622.68 140.77 L621.81 141.43 L620.94 142.1 L620.06 142.76 L619.19 143.41 L618.32 144.04 L617.45 144.65 L616.57 145.22 L615.7 145.76 L614.83 146.26 L613.95 146.7 L613.08 147.1 L612.21 147.44 L611.34 147.72 L610.46 147.94 L609.59 148.09 L608.72 148.18 L607.85 148.19 L606.97 148.11 L606.1 147.94 L605.23 147.7 L604.35 147.38 L603.48 146.99 L602.61 146.54 L601.74 146.03 L600.86 145.46 L599.99 144.84 L599.12 144.18 L598.25 143.49 L597.37 142.77 L596.5 142.02 L595.63 141.26 L594.75 140.5 L593.88 139.74 L593.01 138.99 L592.14 138.26 L591.26 137.56 L590.39 136.88 L589.52 136.25 L588.65 135.66 L587.77 135.12 L586.9 134.65 L586.03 134.23 L585.15 133.89 L584.28 133.62 L583.41 133.43 L582.54 133.32 L581.66 133.3 L580.79 133.36 L579.92 133.51 L579.05 133.75 L578.17 134.09 L577.3 134.51 L576.43 135.02 L575.55 135.61 L574.68 136.3 L573.81 137.06 L572.94 137.9 L572.06 138.81 L571.19 139.79 L570.32 140.83 L569.45 141.93 L568.57 143.07 L567.7 144.25 L566.83 145.47 L565.95 146.71 L565.08 147.96 L564.21 149.23 L563.34 150.48 L562.46 151.73 L561.59 152.95 L560.72 154.13 L559.85 155.28 L558.97 156.37 L558.1 157.4 L557.23 158.35 L556.35 159.23 L555.48 160.02 L554.61 160.71 L553.74 161.3 L552.86 161.77 L551.99 162.14 L551.12 162.38 L550.25 162.5 L549.37 162.5 L548.5 162.37 L547.63 162.12 L546.75 161.75 L545.88 161.26 L545.01 160.66 L544.14 159.95 L543.26 159.13 L542.39 158.23 L541.52 157.23 L540.65 156.16 L539.77 155.02 L538.9 153.82 L538.03 152.57 L537.15 151.29 L536.28 149.98 L535.41 148.65 L534.54 147.31 L533.66 145.98 L532.79 144.66 L531.92 143.36 L531.05 142.1 L530.17 140.89 L529.3 139.72 L528.43 138.62 L527.55 137.59 L526.68 136.63 L525.81 135.76 L524.94 134.98 L524.06 134.29 L523.19 133.7 L522.32 133.22 L521.45 132.85 L520.57 132.59 L519.7 132.45 L518.83 132.42 L517.95 132.5 L517.08 132.7 L516.21 133.02 L515.34 133.44 L514.46 133.98 L513.59 134.62 L512.72 135.36 L511.85 136.2 L510.97 137.13 L510.1 138.14 L509.23 139.23 L508.35 140.38 L507.48 141.6 L506.61 142.87 L505.74 144.18 L504.86 145.52 L503.99 146.89 L503.12 148.26 L502.25 149.64 L501.37 151 L500.5 152.35 L499.63 153.66 L498.75 154.92 L497.88 156.13 L497.01 157.28 L496.14 158.34 L495.26 159.32 L494.39 160.2 L493.52 160.98 L492.65 161.64 L491.77 162.18 L490.9 162.59 L490.03 162.87 L489.15 163.01 L488.28 163.01 L487.41 162.87 L486.54 162.59 L485.66 162.17 L484.79 161.61 L483.92 160.92 L483.05 160.09 L482.17 159.14 L481.3 158.08 L480.43 156.9 L479.55 155.62 L478.68 154.25 L477.81 152.79 L476.94 151.26 L476.06 149.66 L475.19 148.01 L474.32 146.3 L473.45 144.56 L472.57 142.79 L471.7 141 L470.83 139.19 L469.95 137.39 L469.08 135.58 L468.21 133.79 L467.34 132.02 L466.46 130.27 L465.59 128.55 L464.72 126.87 L463.85 125.23 L462.97 123.64 L462.1 122.09 L461.23 120.6 L460.35 119.16 L459.48 117.78 L458.61 116.45 L457.74 115.19 L456.86 113.99 L455.99 112.84 L455.12 111.76 L454.25 110.74 L453.37 109.78 L452.5 108.87 L451.63 108.03 L450.75 107.23 L449.88 106.49 L449.01 105.8 L448.14 105.16 L447.26 104.57 L446.39 104.02 L445.52 103.51 L444.65 103.05 L443.77 102.62 L442.9 102.22 L442.03 101.86 L441.15 101.53 L440.28 101.23 L439.41 100.95 L438.54 100.7 L437.66 100.47 L436.79 100.26 L435.92 100.07 L435.05 99.89 L434.17 99.73 L433.3 99.59 L432.43 99.46 L431.55 99.34 L430.68 99.23 L429.81 99.13 L428.94 99.04 L428.06 98.95 L427.19 98.88 L426.32 98.81 L425.45 98.74 L424.57 98.68 L423.7 98.62 L422.83 98.57 L421.95 98.52 L421.08 98.48 L420.21 98.43 L419.34 98.39 L418.46 98.36 L417.59 98.32 L416.72 98.29 L415.85 98.26 L414.97 98.23 L414.1 98.2 L413.23 98.17 L412.35 98.14 L411.48 98.12 L410.61 98.09 L409.74 98.07 L408.86 98.05 L407.99 98.02 L407.12 98 L406.25 97.98 L405.37 97.96 L404.5 97.95 L403.63 97.93 L402.75 97.91 L401.88 97.9 L401.01 97.88 L400.14 97.86 L399.26 97.85 L398.39 97.84 L397.52 97.82 L396.65 97.81 L395.77 97.8 L394.9 97.79 L394.03 97.77 L393.15 97.76 L392.28 97.75 L391.41 97.74 L390.54 97.74 L389.66 97.73 L388.79 97.72 L387.92 97.71 L387.05 97.71 L386.17 97.7 L385.3 97.69" stroke="#ff8000"/>
<path d="M385.3 90.8 L386.17 90.8 L387.05 90.8 L387.92 90.8 L388.79 90.8 L389.66 90.8 L390.54 90.8 L391.41 90.8 L392.28 90.8 L393.15 90.8 L394.03 90.8 L394.9 90.8 L395.77 90.8 L396.65 90.8 L397.52 90.8 L398.39 90.79 L399.26 90.79 L400.14 90.79 L401.01 90.79 L401.88 90.79 L402.75 90.78 L403.63 90.78 L404.5 90.78 L405.37 90.77 L406.25 90.77 L407.12 90.76 L407.99 90.75 L408.86 90.74 L409.74 90.73 L410.61 90.71 L411.48 90.69 L412.35 90.67 L413.23 90.65 L414.1 90.62 L414.97 90.58 L415.85 90.54 L416.72 90.5 L417.59 90.44 L418.46 90.38 L419.34 90.31 L420.21 90.23 L421.08 90.13 L421.95 90.02 L422.83 89.89 L423.7 89.75 L424.57 89.59 L425.45 89.41 L426.32 89.2 L427.19 88.97 L428.06 88.7 L428.94 88.41 L429.81 88.08 L430.68 87.72 L431.55 87.32 L432.43 86.87 L433.3 86.38 L434.17 85.84 L435.05 85.25 L435.92 84.61 L436.79 83.9 L437.66 83.14 L438.54 82.31 L439.41 81.42 L440.28 80.47 L441.15 79.44 L442.03 78.35 L442.9 77.19 L443.77 75.96 L444.65 74.65 L445.52 73.28 L446.39 71.84 L447.26 70.34 L448.14 68.77 L449.01 67.14 L449.88 65.46 L450.75 63.73 L451.63 61.96 L452.5 60.15 L453.37 58.32 L454.25 56.46 L455.12 54.59 L455.99 52.71 L456.86 50.84 L457.74 48.99 L458.61 47.17 L459.48 45.38 L460.35 43.65 L461.23 41.97 L462.1 40.37 L462.97 38.84 L463.85 37.41 L464.72 36.08 L465.59 34.87 L466.46 33.77 L467.34 32.8 L468.21 31.97 L469.08 31.28 L469.95 30.73 L470.83 30.33 L471.7 30.09 L472.57 30 L473.45 30.06 L474.32 30.28 L475.19 30.65 L476.06 31.17 L476.94 31.83 L477.81 32.62 L478.68 33.54 L479.55 34.59 L480.43 35.74 L481.3 37 L482.17 38.35 L483.05 39.78 L483.92 41.27 L484.79 42.82 L485.66 44.41 L486.54 46.03 L487.41 47.66 L488.28 49.3 L489.15 50.93 L490.03 52.54 L490.9 54.11 L491.77 55.63 L492.65 57.1 L493.52 58.49 L494.39 59.81 L495.26 61.04 L496.14 62.17 L497.01 63.2 L497.88 64.11 L498.75 64.91 L499.63 65.58 L500.5 66.12 L501.37 66.54 L502.25 66.81 L503.12 66.96 L503.99 66.97 L504.86 66.84 L505.74 66.57 L506.61 66.18 L507.48 65.66 L508.35 65.01 L509.23 64.24 L510.1 63.36 L510.97 62.37 L511.85 61.28 L512.72 60.11 L513.59 58.85 L514.46 57.51 L515.34 56.12 L516.21 54.67 L517.08 53.19 L517.95 51.68 L518.83 50.15 L519.7 48.62 L520.57 47.1 L521.45 45.6 L522.32 44.13 L523.19 42.71 L524.06 41.35 L524.94 40.06 L525.81 38.85 L526.68 37.73 L527.55 36.71 L528.43 35.8 L529.3 35.01 L530.17 34.35 L531.05 33.81 L531.92 33.4 L532.79 33.14 L533.66 33.01 L534.54 33.02 L535.41 33.17 L536.28 33.46 L537.15 33.89 L538.03 34.44 L538.9 35.11 L539.77 35.91 L540.65 36.81 L541.52 37.81 L542.39 38.9 L543.26 40.07 L544.14 41.31 L545.01 42.61 L545.88 43.95 L546.75 45.31 L547.63 46.7 L548.5 48.09 L549.37 49.47 L550.25 50.83 L551.12 52.16 L551.99 53.44 L552.86 54.66 L553.74 55.81 L554.61 56.88 L555.48 57.86 L556.35 58.74 L557.23 59.51 L558.1 60.16 L558.97 60.7 L559.85 61.1 L560.72 61.38 L561.59 61.52 L562.46 61.52 L563.34 61.39 L564.21 61.12 L565.08 60.72 L565.95 60.18 L566.83 59.52 L567.7 58.73 L568.57 57.83 L569.45 56.81 L570.32 55.7 L571.19 54.49 L572.06 53.2 L572.94 51.84 L573.81 50.42 L574.68 48.95 L575.55 47.44 L576.43 45.91 L577.3 44.38 L578.17 42.85 L579.05 41.34 L579.92 39.86 L580.79 38.43 L581.66 37.05 L582.54 35.75 L583.41 34.54 L584.28 33.42 L585.15 32.41 L586.03 31.51 L586.9 30.74 L587.77 30.1 L588.65 29.6 L589.52 29.25 L590.39 29.05 L591.26 29 L592.14 29.94 L593.01 30.99 L593.88 32.1 L594.75 33.25 L595.63 34.44 L596.5 35.68 L597.37 36.96 L598.25 38.28 L599.12 39.63 L599.99 41.02 L600.86 42.43 L601.74 43.88 L602.61 45.35 L603.48 46.85 L604.35 48.41 L605.23 50.04 L606.1 51.74 L606.97 53.49 L607.85 55.29 L608.72 57.15 L609.59 59.06 L610.46 61.02 L611.34 63.12 L612.21 65.45 L613.08 67.88 L613.95 70.29 L614.83 72.52 L615.7 74.46 L616.57 76.17 L617.45 77.81 L618.32 79.37 L619.19 80.86 L620.06 82.27 L620.94 83.61 L621.81 84.88 L622.68 86.09 L623.55 87.23 L624.43 88.3 L625.3 89.28 L626.17 90.17 L627.05 91.02 L627.92 91.83 L628.79 92.66 L629.66 93.51 L630.54 94.4 L631.41 95.26 L632.28 96.09 L633.15 96.9 L634.03 97.7 L634.9 98.49 L635.77 99.29 L636.65 100.11 L637.52 100.95 L638.39 101.83 L639.26 102.75 L640.14 103.72 L641.01 104.76 L641.88 105.86 L642.75 107.04 L643.63 108.31 L644.5 109.7 L645.37 111.37 L646.25 113.29 L647.12 115.43 L647.99 117.73 L648.86 120.14 L649.74 122.63 L650.61 125.13 L651.48 127.6 L652.35 130 L653.23 132.37 L654.1 134.9 L654.97 137.75 L655.85 141.13 L656.72 145.24 L657.59 149.99 L658.46 155.22 L659.34 160.78 L660.21 166.51 L661.08 172.56 L661.95 179.13 L662.83 186.14 L663.7 193.5 L662.83 189.89 L661.95 186.51 L661.08 183.39 L660.21 180.59 L659.34 178.15 L658.46 176.12 L657.59 174.48 L656.72 173.06 L655.85 171.82 L654.97 170.72 L654.1 169.75 L653.23 168.87 L652.35 168.06 L651.48 167.32 L650.61 166.64 L649.74 166 L648.86 165.41 L647.99 164.84 L647.12 164.3 L646.25 163.78 L645.37 163.28 L644.5 162.8 L643.63 162.33 L642.75 161.89 L641.88 161.48 L641.01 161.1 L640.14 160.74 L639.26 160.73 L638.39 160.84 L637.52 161.03 L636.65 161.3 L635.77 161.64 L634.9 162.06 L634.03 162.54 L633.15 163.09 L632.28 163.71 L631.41 164.38 L630.54 165.1 L629.66 165.87 L628.79 166.69 L627.92 167.54 L627.05 168.42 L626.17 169.32 L625.3 170.24 L624.43 171.17 L623.55 172.11 L622.68 173.04 L621.81 173.95 L620.94 174.86 L620.06 175.73 L619.19 176.58 L618.32 177.39 L617.45 178.16 L616.57 178.88 L615.7 179.55 L614.83 180.16 L613.95 180.7 L613.08 181.18 L612.21 181.59 L611.34 181.93 L610.46 182.19 L609.59 182.37 L608.72 182.47 L607.85 182.49 L606.97 182.34 L606.1 182.03 L605.23 181.57 L604.35 180.96 L603.48 180.2 L602.61 179.31 L601.74 178.28 L600.86 177.14 L599.99 175.89 L599.12 174.54 L598.25 173.11 L597.37 171.6 L596.5 170.04 L595.63 168.42 L594.75 166.77 L593.88 165.09 L593.01 163.41 L592.14 161.73 L591.26 160.06 L590.39 158.42 L589.52 156.82 L588.65 155.27 L587.77 153.77 L586.9 152.35 L586.03 151 L585.15 149.74 L584.28 148.58 L583.41 147.51 L582.54 146.55 L581.66 145.7 L580.79 144.96 L579.92 144.35 L579.05 143.85 L578.17 143.47 L577.3 143.22 L576.43 143.08 L575.55 143.07 L574.68 143.17 L573.81 143.38 L572.94 143.7 L572.06 144.13 L571.19 144.65 L570.32 145.26 L569.45 145.95 L568.57 146.72 L567.7 147.55 L566.83 148.45 L565.95 149.38 L565.08 150.36 L564.21 151.36 L563.34 152.38 L562.46 153.41 L561.59 154.42 L560.72 155.43 L559.85 156.4 L558.97 157.34 L558.1 158.22 L557.23 159.05 L556.35 159.81 L555.48 160.5 L554.61 161.09 L553.74 161.6 L552.86 162 L551.99 162.29 L551.12 162.48 L550.25 162.55 L549.37 162.5 L548.5 162.33 L547.63 162.05 L546.75 161.65 L545.88 161.14 L545.01 160.52 L544.14 159.79 L543.26 158.97 L542.39 158.05 L541.52 157.06 L540.65 155.98 L539.77 154.85 L538.9 153.65 L538.03 152.41 L537.15 151.14 L536.28 149.83 L535.41 148.51 L534.54 147.19 L533.66 145.87 L532.79 144.57 L531.92 143.29 L531.05 142.05 L530.17 140.85 L529.3 139.7 L528.43 138.61 L527.55 137.6 L526.68 136.66 L525.81 135.8 L524.94 135.03 L524.06 134.36 L523.19 133.79 L522.32 133.33 L521.45 132.97 L520.57 132.73 L519.7 132.6 L518.83 132.58 L517.95 132.68 L517.08 132.89 L516.21 133.21 L515.34 133.65 L514.46 134.19 L513.59 134.84 L512.72 135.6 L511.85 136.44 L510.97 137.38 L510.1 138.4 L509.23 139.49 L508.35 140.65 L507.48 141.88 L506.61 143.15 L505.74 144.47 L504.86 145.82 L503.99 147.18 L503.12 148.56 L502.25 149.94 L501.37 151.31 L500.5 152.66 L499.63 153.97 L498.75 155.23 L497.88 156.45 L497.01 157.59 L496.14 158.66 L495.26 159.64 L494.39 160.52 L493.52 161.29 L492.65 161.95 L491.77 162.49 L490.9 162.9 L490.03 163.18 L489.15 163.32 L488.28 163.31 L487.41 163.17 L486.54 162.89 L485.66 162.46 L484.79 161.89 L483.92 161.19 L483.05 160.37 L482.17 159.41 L481.3 158.34 L480.43 157.16 L479.55 155.87 L478.68 154.49 L477.81 153.03 L476.94 151.49 L476.06 149.89 L475.19 148.22 L474.32 146.51 L473.45 144.76 L472.57 142.98 L471.7 141.18 L470.83 139.37 L469.95 137.56 L469.08 135.75 L468.21 133.95 L467.34 132.17 L466.46 130.41 L465.59 128.69 L464.72 127 L463.85 125.35 L462.97 123.75 L462.1 122.2 L461.23 120.7 L460.35 119.26 L459.48 117.87 L458.61 116.54 L457.74 115.27 L456.86 114.06 L455.99 112.91 L455.12 111.83 L454.25 110.8 L453.37 109.83 L452.5 108.92 L451.63 108.07 L450.75 107.27 L449.88 106.53 L449.01 105.84 L448.14 105.19 L447.26 104.6 L446.39 104.04 L445.52 103.53 L444.65 103.06 L443.77 102.63 L442.9 102.23 L442.03 101.87 L441.15 101.54 L440.28 101.23 L439.41 100.95 L438.54 100.7 L437.66 100.46 L436.79 100.25 L435.92 100.06 L435.05 99.88 L434.17 99.72 L433.3 99.57 L432.43 99.44 L431.55 99.32 L430.68 99.21 L429.81 99.11 L428.94 99.01 L428.06 98.93 L427.19 98.85 L426.32 98.78 L425.45 98.71 L424.57 98.65 L423.7 98.59 L422.83 98.54 L421.95 98.49 L421.08 98.44 L420.21 98.4 L419.34 98.35 L418.46 98.32 L417.59 98.28 L416.72 98.24 L415.85 98.21 L414.97 98.18 L414.1 98.15 L413.23 98.12 L412.35 98.09 L411.48 98.07 L410.61 98.04 L409.74 98.02 L408.86 97.99 L407.99 97.97 L407.12 97.95 L406.25 97.93 L405.37 97.91 L404.5 97.89 L403.63 97.87 L402.75 97.85 L401.88 97.83 L401.01 97.82 L400.14 97.8 L399.26 97.79 L398.39 97.77 L397.52 97.76 L396.65 97.75 L395.77 97.73 L394.9 97.72 L394.03 97.71 L393.15 97.7 L392.28 97.69 L391.41 97.68 L390.54 97.67 L389.66 97.66 L388.79 97.65 L387.92 97.64 L387.05 97.64 L386.17 97.63 L385.3 97.62" stroke="#ff0000"/>
</g>
<text x="-0.67" y="291.1" font-size="19" text-anchor="start" fill="#000" font-weight="bold">c</text>
<rect x="55.7" y="284.4" width="2.8" height="24.8" fill="#9c5216"/>
<circle cx="70.7" cy="296.6" r="11.4" fill="#fff" stroke="#000" stroke-width="2"/>
<circle cx="95.47" cy="296.6" r="11.4" fill="#fff" stroke="#000" stroke-width="2"/>
<circle cx="120.24" cy="296.6" r="11.4" fill="#fff" stroke="#000" stroke-width="2"/>
<circle cx="145.01" cy="296.6" r="11.4" fill="#fff" stroke="#000" stroke-width="2"/>
<circle cx="169.78" cy="296.6" r="11.4" fill="#fff" stroke="#000" stroke-width="2"/>
<circle cx="194.55" cy="296.6" r="11.4" fill="#fff" stroke="#000" stroke-width="2"/>
<circle cx="219.32" cy="296.6" r="11.4" fill="#fff" stroke="#000" stroke-width="2"/>
<circle cx="244.09" cy="296.6" r="11.4" fill="#fff" stroke="#000" stroke-width="2"/>
<circle cx="268.86" cy="296.6" r="11.4" fill="#fff" stroke="#000" stroke-width="2"/>
<circle cx="293.63" cy="296.6" r="11.4" fill="#fff" stroke="#000" stroke-width="2"/>
<text x="61.83" y="302.7" font-size="13.4" text-anchor="start" fill="#ff0000" font-weight="bold">Ru</text>
<text x="60.33" y="327.1" font-size="15" text-anchor="start" fill="#ff0000">R1</text>
<text x="87.47" y="302.7" font-size="13.4" text-anchor="start" fill="#8000ff" font-weight="bold">Fe</text>
<text x="85.3" y="327.1" font-size="15" text-anchor="start" fill="#8000ff">F1</text>
<text x="111.37" y="302.7" font-size="13.4" text-anchor="start" fill="#e8771e" font-weight="bold">Os</text>
<text x="108.5" y="327.1" font-size="15" text-anchor="start" fill="#e8771e">O1</text>
<text x="136.13" y="302.7" font-size="13.4" text-anchor="start" fill="#ff0000" font-weight="bold">Ru</text>
<text x="133.72" y="327.1" font-size="15" text-anchor="start" fill="#ff0000">R2</text>
<text x="161.78" y="302.7" font-size="13.4" text-anchor="start" fill="#8000ff" font-weight="bold">Fe</text>
<text x="158.9" y="327.1" font-size="15" text-anchor="start" fill="#8000ff">F2</text>
<text x="185.68" y="302.7" font-size="13.4" text-anchor="start" fill="#e8771e" font-weight="bold">Os</text>
<text x="182.1" y="327.1" font-size="15" text-anchor="start" fill="#e8771e">O2</text>
<text x="210.44" y="302.7" font-size="13.4" text-anchor="start" fill="#ff0000" font-weight="bold">Ru</text>
<text x="207.26" y="327.1" font-size="15" text-anchor="start" fill="#ff0000">R3</text>
<text x="236.09" y="302.7" font-size="13.4" text-anchor="start" fill="#8000ff" font-weight="bold">Fe</text>
<text x="232.14" y="327.1" font-size="15" text-anchor="start" fill="#8000ff">F3</text>
<text x="259.99" y="302.7" font-size="13.4" text-anchor="start" fill="#e8771e" font-weight="bold">Os</text>
<text x="255.44" y="327.1" font-size="15" text-anchor="start" fill="#e8771e">O3</text>
<text x="284.75" y="302.7" font-size="13.4" text-anchor="start" fill="#ff0000" font-weight="bold">Ru</text>
<text x="281.25" y="327.1" font-size="15" text-anchor="start" fill="#ff0000">R4</text>
<text x="353.44" y="291.7" font-size="19" text-anchor="start" fill="#000" font-weight="bold">d</text>
<rect x="411.1" y="286.2" width="2.8" height="25.5" fill="#9c5216"/>
<circle cx="425.5" cy="297.8" r="11.4" fill="#fff" stroke="#000" stroke-width="2"/>
<circle cx="450.27" cy="297.8" r="11.4" fill="#fff" stroke="#000" stroke-width="2"/>
<circle cx="475.04" cy="297.8" r="11.4" fill="#fff" stroke="#000" stroke-width="2"/>
<circle cx="499.81" cy="297.8" r="11.4" fill="#fff" stroke="#000" stroke-width="2"/>
<circle cx="524.58" cy="297.8" r="11.4" fill="#fff" stroke="#000" stroke-width="2"/>
<circle cx="549.35" cy="297.8" r="11.4" fill="#fff" stroke="#000" stroke-width="2"/>
<circle cx="574.12" cy="297.8" r="11.4" fill="#fff" stroke="#000" stroke-width="2"/>
<circle cx="598.89" cy="297.8" r="11.4" fill="#fff" stroke="#000" stroke-width="2"/>
<circle cx="623.66" cy="297.8" r="11.4" fill="#fff" stroke="#000" stroke-width="2"/>
<circle cx="648.43" cy="297.8" r="11.4" fill="#fff" stroke="#000" stroke-width="2"/>
<text x="416.62" y="303.9" font-size="13.4" text-anchor="start" fill="#ff0000" font-weight="bold">Ru</text>
<text x="416.82" y="327.7" font-size="15" text-anchor="start" fill="#ff0000">R1</text>
<text x="441.39" y="303.9" font-size="13.4" text-anchor="start" fill="#e8771e" font-weight="bold">Os</text>
<text x="440.9" y="327.7" font-size="15" text-anchor="start" fill="#e8771e">O1</text>
<text x="467.04" y="303.9" font-size="13.4" text-anchor="start" fill="#8000ff" font-weight="bold">Fe</text>
<text x="466.3" y="327.7" font-size="15" text-anchor="start" fill="#8000ff">F1</text>
<text x="490.94" y="303.9" font-size="13.4" text-anchor="start" fill="#ff0000" font-weight="bold">Ru</text>
<text x="490.73" y="327.7" font-size="15" text-anchor="start" fill="#ff0000">R2</text>
<text x="515.71" y="303.9" font-size="13.4" text-anchor="start" fill="#e8771e" font-weight="bold">Os</text>
<text x="514.8" y="327.7" font-size="15" text-anchor="start" fill="#e8771e">O2</text>
<text x="541.35" y="303.9" font-size="13.4" text-anchor="start" fill="#8000ff" font-weight="bold">Fe</text>
<text x="540.4" y="327.7" font-size="15" text-anchor="start" fill="#8000ff">F2</text>
<text x="565.25" y="303.9" font-size="13.4" text-anchor="start" fill="#ff0000" font-weight="bold">Ru</text>
<text x="564.26" y="327.7" font-size="15" text-anchor="start" fill="#ff0000">R3</text>
<text x="590.01" y="303.9" font-size="13.4" text-anchor="start" fill="#e8771e" font-weight="bold">Os</text>
<text x="588.54" y="327.7" font-size="15" text-anchor="start" fill="#e8771e">O3</text>
<text x="615.66" y="303.9" font-size="13.4" text-anchor="start" fill="#8000ff" font-weight="bold">Fe</text>
<text x="614.04" y="327.7" font-size="15" text-anchor="start" fill="#8000ff">F3</text>
<text x="639.56" y="303.9" font-size="13.4" text-anchor="start" fill="#ff0000" font-weight="bold">Ru</text>
<text x="638.2" y="327.7" font-size="15" text-anchor="start" fill="#ff0000">R4</text>
<line x1="50.6" y1="330.85" x2="50.6" y2="533.65" stroke="#000" stroke-width="1.45"/>
<line x1="49.95" y1="533" x2="323.45" y2="533" stroke="#000" stroke-width="1.45"/>
<line x1="46.6" y1="514.1" x2="50.6" y2="514.1" stroke="#000" stroke-width="1.45"/>
<text x="33.15" y="519.1" font-size="15" text-anchor="start" fill="#000">0</text>
<line x1="46.6" y1="477.58" x2="50.6" y2="477.58" stroke="#000" stroke-width="1.45"/>
<text x="24.77" y="482.58" font-size="15" text-anchor="start" fill="#000">10</text>
<line x1="46.6" y1="441.06" x2="50.6" y2="441.06" stroke="#000" stroke-width="1.45"/>
<text x="24.77" y="446.06" font-size="15" text-anchor="start" fill="#000">20</text>
<line x1="46.6" y1="404.54" x2="50.6" y2="404.54" stroke="#000" stroke-width="1.45"/>
<text x="24.77" y="409.54" font-size="15" text-anchor="start" fill="#000">30</text>
<line x1="46.6" y1="368.02" x2="50.6" y2="368.02" stroke="#000" stroke-width="1.45"/>
<text x="24.77" y="373.02" font-size="15" text-anchor="start" fill="#000">40</text>
<line x1="46.6" y1="331.5" x2="50.6" y2="331.5" stroke="#000" stroke-width="1.45"/>
<text x="24.77" y="336.5" font-size="15" text-anchor="start" fill="#000">50</text>
<line x1="48.6" y1="495.84" x2="50.6" y2="495.84" stroke="#000" stroke-width="1.45"/>
<line x1="48.6" y1="459.32" x2="50.6" y2="459.32" stroke="#000" stroke-width="1.45"/>
<line x1="48.6" y1="422.8" x2="50.6" y2="422.8" stroke="#000" stroke-width="1.45"/>
<line x1="48.6" y1="386.28" x2="50.6" y2="386.28" stroke="#000" stroke-width="1.45"/>
<line x1="48.6" y1="349.76" x2="50.6" y2="349.76" stroke="#000" stroke-width="1.45"/>
<line x1="75.3" y1="533" x2="75.3" y2="536.7" stroke="#000" stroke-width="1.45"/>
<text x="71.11" y="553.1" font-size="15" text-anchor="start" fill="#000">0</text>
<line x1="100.05" y1="533" x2="100.05" y2="534.8" stroke="#000" stroke-width="1.45"/>
<line x1="124.8" y1="533" x2="124.8" y2="536.7" stroke="#000" stroke-width="1.45"/>
<text x="120.61" y="553.1" font-size="15" text-anchor="start" fill="#000">2</text>
<line x1="149.55" y1="533" x2="149.55" y2="534.8" stroke="#000" stroke-width="1.45"/>
<line x1="174.3" y1="533" x2="174.3" y2="536.7" stroke="#000" stroke-width="1.45"/>
<text x="170.18" y="553.1" font-size="15" text-anchor="start" fill="#000">4</text>
<line x1="199.05" y1="533" x2="199.05" y2="534.8" stroke="#000" stroke-width="1.45"/>
<line x1="223.8" y1="533" x2="223.8" y2="536.7" stroke="#000" stroke-width="1.45"/>
<text x="219.55" y="553.1" font-size="15" text-anchor="start" fill="#000">6</text>
<line x1="248.55" y1="533" x2="248.55" y2="534.8" stroke="#000" stroke-width="1.45"/>
<line x1="273.3" y1="533" x2="273.3" y2="536.7" stroke="#000" stroke-width="1.45"/>
<text x="269.11" y="553.1" font-size="15" text-anchor="start" fill="#000">8</text>
<line x1="298.05" y1="533" x2="298.05" y2="534.8" stroke="#000" stroke-width="1.45"/>
<line x1="322.8" y1="533" x2="322.8" y2="536.7" stroke="#000" stroke-width="1.45"/>
<text x="314.18" y="553.1" font-size="15" text-anchor="start" fill="#000">10</text>
<line x1="50.6" y1="533" x2="50.6" y2="534.8" stroke="#000" stroke-width="1.45"/>
<line x1="48.6" y1="533" x2="50.6" y2="533" stroke="#000" stroke-width="1.45"/>
<text x="135.9" y="573" font-size="15.3">Switching times (<tspan font-style="italic">n</tspan>)</text>
<text transform="translate(11.7,430.8) rotate(-90)" x="-12.6" font-size="15"><tspan font-style="italic">I</tspan>/µA</text>
<line x1="402" y1="329.87" x2="402" y2="533.65" stroke="#000" stroke-width="1.45"/>
<line x1="401.35" y1="533" x2="677.75" y2="533" stroke="#000" stroke-width="1.45"/>
<line x1="398" y1="517.3" x2="402" y2="517.3" stroke="#000" stroke-width="1.45"/>
<text x="383.95" y="522.3" font-size="15" text-anchor="start" fill="#000">0</text>
<line x1="398" y1="486.17" x2="402" y2="486.17" stroke="#000" stroke-width="1.45"/>
<text x="375.57" y="491.17" font-size="15" text-anchor="start" fill="#000">10</text>
<line x1="398" y1="455.04" x2="402" y2="455.04" stroke="#000" stroke-width="1.45"/>
<text x="375.57" y="460.04" font-size="15" text-anchor="start" fill="#000">20</text>
<line x1="398" y1="423.91" x2="402" y2="423.91" stroke="#000" stroke-width="1.45"/>
<text x="375.57" y="428.91" font-size="15" text-anchor="start" fill="#000">30</text>
<line x1="398" y1="392.78" x2="402" y2="392.78" stroke="#000" stroke-width="1.45"/>
<text x="375.57" y="397.78" font-size="15" text-anchor="start" fill="#000">40</text>
<line x1="398" y1="361.65" x2="402" y2="361.65" stroke="#000" stroke-width="1.45"/>
<text x="375.57" y="366.65" font-size="15" text-anchor="start" fill="#000">50</text>
<line x1="398" y1="330.52" x2="402" y2="330.52" stroke="#000" stroke-width="1.45"/>
<text x="375.57" y="335.52" font-size="15" text-anchor="start" fill="#000">60</text>
<line x1="400" y1="501.73" x2="402" y2="501.73" stroke="#000" stroke-width="1.45"/>
<line x1="400" y1="470.6" x2="402" y2="470.6" stroke="#000" stroke-width="1.45"/>
<line x1="400" y1="439.47" x2="402" y2="439.47" stroke="#000" stroke-width="1.45"/>
<line x1="400" y1="408.34" x2="402" y2="408.34" stroke="#000" stroke-width="1.45"/>
<line x1="400" y1="377.21" x2="402" y2="377.21" stroke="#000" stroke-width="1.45"/>
<line x1="400" y1="346.08" x2="402" y2="346.08" stroke="#000" stroke-width="1.45"/>
<line x1="426.8" y1="533" x2="426.8" y2="536.7" stroke="#000" stroke-width="1.45"/>
<text x="422.61" y="553.1" font-size="15" text-anchor="start" fill="#000">0</text>
<line x1="451.83" y1="533" x2="451.83" y2="534.8" stroke="#000" stroke-width="1.45"/>
<line x1="476.86" y1="533" x2="476.86" y2="536.7" stroke="#000" stroke-width="1.45"/>
<text x="472.67" y="553.1" font-size="15" text-anchor="start" fill="#000">2</text>
<line x1="501.89" y1="533" x2="501.89" y2="534.8" stroke="#000" stroke-width="1.45"/>
<line x1="526.92" y1="533" x2="526.92" y2="536.7" stroke="#000" stroke-width="1.45"/>
<text x="522.8" y="553.1" font-size="15" text-anchor="start" fill="#000">4</text>
<line x1="551.95" y1="533" x2="551.95" y2="534.8" stroke="#000" stroke-width="1.45"/>
<line x1="576.98" y1="533" x2="576.98" y2="536.7" stroke="#000" stroke-width="1.45"/>
<text x="572.73" y="553.1" font-size="15" text-anchor="start" fill="#000">6</text>
<line x1="602.01" y1="533" x2="602.01" y2="534.8" stroke="#000" stroke-width="1.45"/>
<line x1="627.04" y1="533" x2="627.04" y2="536.7" stroke="#000" stroke-width="1.45"/>
<text x="622.85" y="553.1" font-size="15" text-anchor="start" fill="#000">8</text>
<line x1="652.07" y1="533" x2="652.07" y2="534.8" stroke="#000" stroke-width="1.45"/>
<line x1="677.1" y1="533" x2="677.1" y2="536.7" stroke="#000" stroke-width="1.45"/>
<text x="668.48" y="553.1" font-size="15" text-anchor="start" fill="#000">10</text>
<line x1="402" y1="533" x2="402" y2="534.8" stroke="#000" stroke-width="1.45"/>
<line x1="400" y1="533" x2="402" y2="533" stroke="#000" stroke-width="1.45"/>
<text x="488.3" y="573" font-size="15.3">Switching times (<tspan font-style="italic">n</tspan>)</text>
<text transform="translate(365.2,424) rotate(-90)" x="-12.6" font-size="15"><tspan font-style="italic">I</tspan>/µA</text>
<rect x="87.95" y="346.05" width="6.1" height="6.1" fill="#fff" stroke="#000" stroke-width="1.25"/>
<circle cx="91" cy="371.5" r="3.75" fill="#fff" stroke="#000" stroke-width="1.25"/>
<path d="M91 390.6 L94.55 396.6 L87.45 396.6 Z" fill="#fff" stroke="#000" stroke-width="1.25" stroke-linejoin="miter"/>
<text x="99.6" y="353.1" font-size="15" font-style="italic">i<tspan font-style="normal" font-size="9.6" dy="3.4">p1</tspan></text>
<text x="99.6" y="375.5" font-size="15" font-style="italic">i<tspan font-style="normal" font-size="9.6" dy="3.4">p2</tspan></text>
<text x="99.6" y="397.9" font-size="15" font-style="italic">i<tspan font-style="normal" font-size="9.6" dy="3.4">p3</tspan></text>
<rect x="441.45" y="346.95" width="6.1" height="6.1" fill="#fff" stroke="#000" stroke-width="1.25"/>
<circle cx="444.5" cy="372.6" r="3.75" fill="#fff" stroke="#000" stroke-width="1.25"/>
<path d="M444.5 391.9 L448.05 397.9 L440.95 397.9 Z" fill="#fff" stroke="#000" stroke-width="1.25" stroke-linejoin="miter"/>
<text x="454.1" y="354" font-size="15" font-style="italic">i<tspan font-style="normal" font-size="9.6" dy="3.4">p1</tspan></text>
<text x="454.1" y="376.6" font-size="15" font-style="italic">i<tspan font-style="normal" font-size="9.6" dy="3.4">p2</tspan></text>
<text x="454.1" y="399.2" font-size="15" font-style="italic">i<tspan font-style="normal" font-size="9.6" dy="3.4">p3</tspan></text>
<path d="M73.83 506.6 L98.77 452.3 L123.71 454.8 L148.65 454.8 L173.59 405.7 L198.53 411.1 L223.47 407.1 L248.41 356.9 L273.35 365.7 L298.29 359.2" fill="none" stroke="#000" stroke-width="1.45"/>
<path d="M73.83 511.4 L98.77 505.3 L123.71 436.3 L148.65 443.9 L173.59 438 L198.53 377.4 L223.47 386.8 L248.41 385.8 L273.35 347.6 L298.29 352.3" fill="none" stroke="#000" stroke-width="1.45"/>
<path d="M73.83 471.6 L98.77 465.6 L123.71 465.6 L148.65 438.6 L173.59 440.4 L198.53 444 L223.47 402.4 L248.41 408.6 L273.35 412.2 L298.29 345.3" fill="none" stroke="#000" stroke-width="1.45"/>
<rect x="70.78" y="503.55" width="6.1" height="6.1" fill="#fff" stroke="#ff0000" stroke-width="1.25"/>
<circle cx="73.83" cy="511.4" r="3.75" fill="#fff" stroke="#ff0000" stroke-width="1.25"/>
<path d="M73.83 468.3 L77.38 474.3 L70.28 474.3 Z" fill="#fff" stroke="#ff0000" stroke-width="1.25" stroke-linejoin="miter"/>
<rect x="95.72" y="449.25" width="6.1" height="6.1" fill="#fff" stroke="#8000ff" stroke-width="1.25"/>
<circle cx="98.77" cy="505.3" r="3.75" fill="#fff" stroke="#8000ff" stroke-width="1.25"/>
<path d="M98.77 462.3 L102.32 468.3 L95.22 468.3 Z" fill="#fff" stroke="#8000ff" stroke-width="1.25" stroke-linejoin="miter"/>
<rect x="120.66" y="451.75" width="6.1" height="6.1" fill="#fff" stroke="#e8771e" stroke-width="1.25"/>
<circle cx="123.71" cy="436.3" r="3.75" fill="#fff" stroke="#e8771e" stroke-width="1.25"/>
<path d="M123.71 462.3 L127.26 468.3 L120.16 468.3 Z" fill="#fff" stroke="#e8771e" stroke-width="1.25" stroke-linejoin="miter"/>
<rect x="145.6" y="451.75" width="6.1" height="6.1" fill="#fff" stroke="#ff0000" stroke-width="1.25"/>
<circle cx="148.65" cy="443.9" r="3.75" fill="#fff" stroke="#ff0000" stroke-width="1.25"/>
<path d="M148.65 435.3 L152.2 441.3 L145.1 441.3 Z" fill="#fff" stroke="#ff0000" stroke-width="1.25" stroke-linejoin="miter"/>
<rect x="170.54" y="402.65" width="6.1" height="6.1" fill="#fff" stroke="#8000ff" stroke-width="1.25"/>
<circle cx="173.59" cy="438" r="3.75" fill="#fff" stroke="#8000ff" stroke-width="1.25"/>
<path d="M173.59 437.1 L177.14 443.1 L170.04 443.1 Z" fill="#fff" stroke="#8000ff" stroke-width="1.25" stroke-linejoin="miter"/>
<rect x="195.48" y="408.05" width="6.1" height="6.1" fill="#fff" stroke="#e8771e" stroke-width="1.25"/>
<circle cx="198.53" cy="377.4" r="3.75" fill="#fff" stroke="#e8771e" stroke-width="1.25"/>
<path d="M198.53 440.7 L202.08 446.7 L194.98 446.7 Z" fill="#fff" stroke="#e8771e" stroke-width="1.25" stroke-linejoin="miter"/>
<rect x="220.42" y="404.05" width="6.1" height="6.1" fill="#fff" stroke="#ff0000" stroke-width="1.25"/>
<circle cx="223.47" cy="386.8" r="3.75" fill="#fff" stroke="#ff0000" stroke-width="1.25"/>
<path d="M223.47 399.1 L227.02 405.1 L219.92 405.1 Z" fill="#fff" stroke="#ff0000" stroke-width="1.25" stroke-linejoin="miter"/>
<rect x="245.36" y="353.85" width="6.1" height="6.1" fill="#fff" stroke="#8000ff" stroke-width="1.25"/>
<circle cx="248.41" cy="385.8" r="3.75" fill="#fff" stroke="#8000ff" stroke-width="1.25"/>
<path d="M248.41 405.3 L251.96 411.3 L244.86 411.3 Z" fill="#fff" stroke="#8000ff" stroke-width="1.25" stroke-linejoin="miter"/>
<rect x="270.3" y="362.65" width="6.1" height="6.1" fill="#fff" stroke="#e8771e" stroke-width="1.25"/>
<circle cx="273.35" cy="347.6" r="3.75" fill="#fff" stroke="#e8771e" stroke-width="1.25"/>
<path d="M273.35 408.9 L276.9 414.9 L269.8 414.9 Z" fill="#fff" stroke="#e8771e" stroke-width="1.25" stroke-linejoin="miter"/>
<rect x="295.24" y="356.15" width="6.1" height="6.1" fill="#fff" stroke="#ff0000" stroke-width="1.25"/>
<circle cx="298.29" cy="352.3" r="3.75" fill="#fff" stroke="#ff0000" stroke-width="1.25"/>
<path d="M298.29 342 L301.84 348 L294.74 348 Z" fill="#fff" stroke="#ff0000" stroke-width="1.25" stroke-linejoin="miter"/>
<path d="M426.5 507.5 L451.43 435 L476.36 441.6 L501.29 440.2 L526.22 409.7 L551.15 408.9 L576.08 405.4 L601.01 361.8 L625.94 360.8 L650.87 354.1" fill="none" stroke="#000" stroke-width="1.45"/>
<path d="M426.5 510.6 L451.43 504 L476.36 463.9 L501.29 462.6 L526.22 466.6 L551.15 403.5 L576.08 410.7 L601.01 403.5 L625.94 351 L650.87 344" fill="none" stroke="#000" stroke-width="1.45"/>
<path d="M426.5 476.6 L451.43 475.3 L476.36 480.6 L501.29 454.9 L526.22 456.8 L551.15 454.8 L576.08 418.6 L601.01 416.7 L625.94 420.8 L650.87 382.5" fill="none" stroke="#000" stroke-width="1.45"/>
<rect x="423.45" y="504.45" width="6.1" height="6.1" fill="#fff" stroke="#ff0000" stroke-width="1.25"/>
<circle cx="426.5" cy="510.6" r="3.75" fill="#fff" stroke="#ff0000" stroke-width="1.25"/>
<path d="M426.5 473.3 L430.05 479.3 L422.95 479.3 Z" fill="#fff" stroke="#ff0000" stroke-width="1.25" stroke-linejoin="miter"/>
<rect x="448.38" y="431.95" width="6.1" height="6.1" fill="#fff" stroke="#e8771e" stroke-width="1.25"/>
<circle cx="451.43" cy="504" r="3.75" fill="#fff" stroke="#e8771e" stroke-width="1.25"/>
<path d="M451.43 472 L454.98 478 L447.88 478 Z" fill="#fff" stroke="#e8771e" stroke-width="1.25" stroke-linejoin="miter"/>
<rect x="473.31" y="438.55" width="6.1" height="6.1" fill="#fff" stroke="#8000ff" stroke-width="1.25"/>
<circle cx="476.36" cy="463.9" r="3.75" fill="#fff" stroke="#8000ff" stroke-width="1.25"/>
<path d="M476.36 477.3 L479.91 483.3 L472.81 483.3 Z" fill="#fff" stroke="#8000ff" stroke-width="1.25" stroke-linejoin="miter"/>
<rect x="498.24" y="437.15" width="6.1" height="6.1" fill="#fff" stroke="#ff0000" stroke-width="1.25"/>
<circle cx="501.29" cy="462.6" r="3.75" fill="#fff" stroke="#ff0000" stroke-width="1.25"/>
<path d="M501.29 451.6 L504.84 457.6 L497.74 457.6 Z" fill="#fff" stroke="#ff0000" stroke-width="1.25" stroke-linejoin="miter"/>
<rect x="523.17" y="406.65" width="6.1" height="6.1" fill="#fff" stroke="#e8771e" stroke-width="1.25"/>
<circle cx="526.22" cy="466.6" r="3.75" fill="#fff" stroke="#e8771e" stroke-width="1.25"/>
<path d="M526.22 453.5 L529.77 459.5 L522.67 459.5 Z" fill="#fff" stroke="#e8771e" stroke-width="1.25" stroke-linejoin="miter"/>
<rect x="548.1" y="405.85" width="6.1" height="6.1" fill="#fff" stroke="#8000ff" stroke-width="1.25"/>
<circle cx="551.15" cy="403.5" r="3.75" fill="#fff" stroke="#8000ff" stroke-width="1.25"/>
<path d="M551.15 451.5 L554.7 457.5 L547.6 457.5 Z" fill="#fff" stroke="#8000ff" stroke-width="1.25" stroke-linejoin="miter"/>
<rect x="573.03" y="402.35" width="6.1" height="6.1" fill="#fff" stroke="#ff0000" stroke-width="1.25"/>
<circle cx="576.08" cy="410.7" r="3.75" fill="#fff" stroke="#ff0000" stroke-width="1.25"/>
<path d="M576.08 415.3 L579.63 421.3 L572.53 421.3 Z" fill="#fff" stroke="#ff0000" stroke-width="1.25" stroke-linejoin="miter"/>
<rect x="597.96" y="358.75" width="6.1" height="6.1" fill="#fff" stroke="#e8771e" stroke-width="1.25"/>
<circle cx="601.01" cy="403.5" r="3.75" fill="#fff" stroke="#e8771e" stroke-width="1.25"/>
<path d="M601.01 413.4 L604.56 419.4 L597.46 419.4 Z" fill="#fff" stroke="#e8771e" stroke-width="1.25" stroke-linejoin="miter"/>
<rect x="622.89" y="357.75" width="6.1" height="6.1" fill="#fff" stroke="#8000ff" stroke-width="1.25"/>
<circle cx="625.94" cy="351" r="3.75" fill="#fff" stroke="#8000ff" stroke-width="1.25"/>
<path d="M625.94 417.5 L629.49 423.5 L622.39 423.5 Z" fill="#fff" stroke="#8000ff" stroke-width="1.25" stroke-linejoin="miter"/>
<rect x="647.82" y="351.05" width="6.1" height="6.1" fill="#fff" stroke="#ff0000" stroke-width="1.25"/>
<circle cx="650.87" cy="344" r="3.75" fill="#fff" stroke="#ff0000" stroke-width="1.25"/>
<path d="M650.87 379.2 L654.42 385.2 L647.32 385.2 Z" fill="#fff" stroke="#ff0000" stroke-width="1.25" stroke-linejoin="miter"/>
<text x="61.83" y="464.3" font-size="15" text-anchor="start" fill="#ff0000">R1</text>
<text x="88.65" y="445.8" font-size="15" text-anchor="start" fill="#8000ff">F1</text>
<text x="112.85" y="429.1" font-size="15" text-anchor="start" fill="#e8771e">O1</text>
<text x="139.47" y="425.6" font-size="15" text-anchor="start" fill="#ff0000">R2</text>
<text x="153" y="398.9" font-size="15" text-anchor="start" fill="#8000ff">F2</text>
<text x="185.5" y="369.2" font-size="15" text-anchor="start" fill="#e8771e">O2</text>
<text x="222.99" y="361.1" font-size="15" text-anchor="start" fill="#8000ff">F3</text>
<text x="246.54" y="348.7" font-size="15" text-anchor="start" fill="#e8771e">O3</text>
<text x="293.05" y="341.7" font-size="15" text-anchor="start" fill="#ff0000">R4</text>
<text x="239.11" y="444.6" font-size="15" text-anchor="start" fill="#ff0000">R3</text>
<line x1="228.1" y1="406.9" x2="241.18" y2="426.98" stroke="#ff0000" stroke-width="1.5"/>
<path d="M243.8 431 L237.21 426.94 L241.18 426.98 L242.74 423.33 Z" fill="#ff0000"/>
<text x="411.48" y="467.7" font-size="15" text-anchor="start" fill="#ff0000">R1</text>
<text x="425.4" y="435.7" font-size="15" text-anchor="start" fill="#e8771e">O1</text>
<text x="496.45" y="497.6" font-size="15" text-anchor="start" fill="#8000ff">F1</text>
<text x="540.12" y="498.1" font-size="15" text-anchor="start" fill="#ff0000">R2</text>
<text x="511" y="394" font-size="15" text-anchor="start" fill="#e8771e">O2</text>
<text x="540.85" y="393.1" font-size="15" text-anchor="start" fill="#8000ff">F2</text>
<text x="579.29" y="355.3" font-size="15" text-anchor="start" fill="#e8771e">O3</text>
<text x="607.29" y="347.3" font-size="15" text-anchor="start" fill="#8000ff">F3</text>
<text x="576.56" y="436.5" font-size="15" text-anchor="start" fill="#ff0000">R3</text>
<text x="646.65" y="403.5" font-size="15" text-anchor="start" fill="#ff0000">R4</text>
<line x1="480.6" y1="466.6" x2="494.26" y2="480.66" stroke="#8000ff" stroke-width="1.5"/>
<path d="M497.6 484.1 L490.36 481.38 L494.26 480.66 L495.09 476.78 Z" fill="#8000ff"/>
<line x1="509.8" y1="459.6" x2="531.21" y2="485.12" stroke="#ff0000" stroke-width="1.5"/>
<path d="M534.3 488.8 L527.27 485.56 L531.21 485.12 L532.33 481.32 Z" fill="#ff0000"/>
</svg></body></html>
